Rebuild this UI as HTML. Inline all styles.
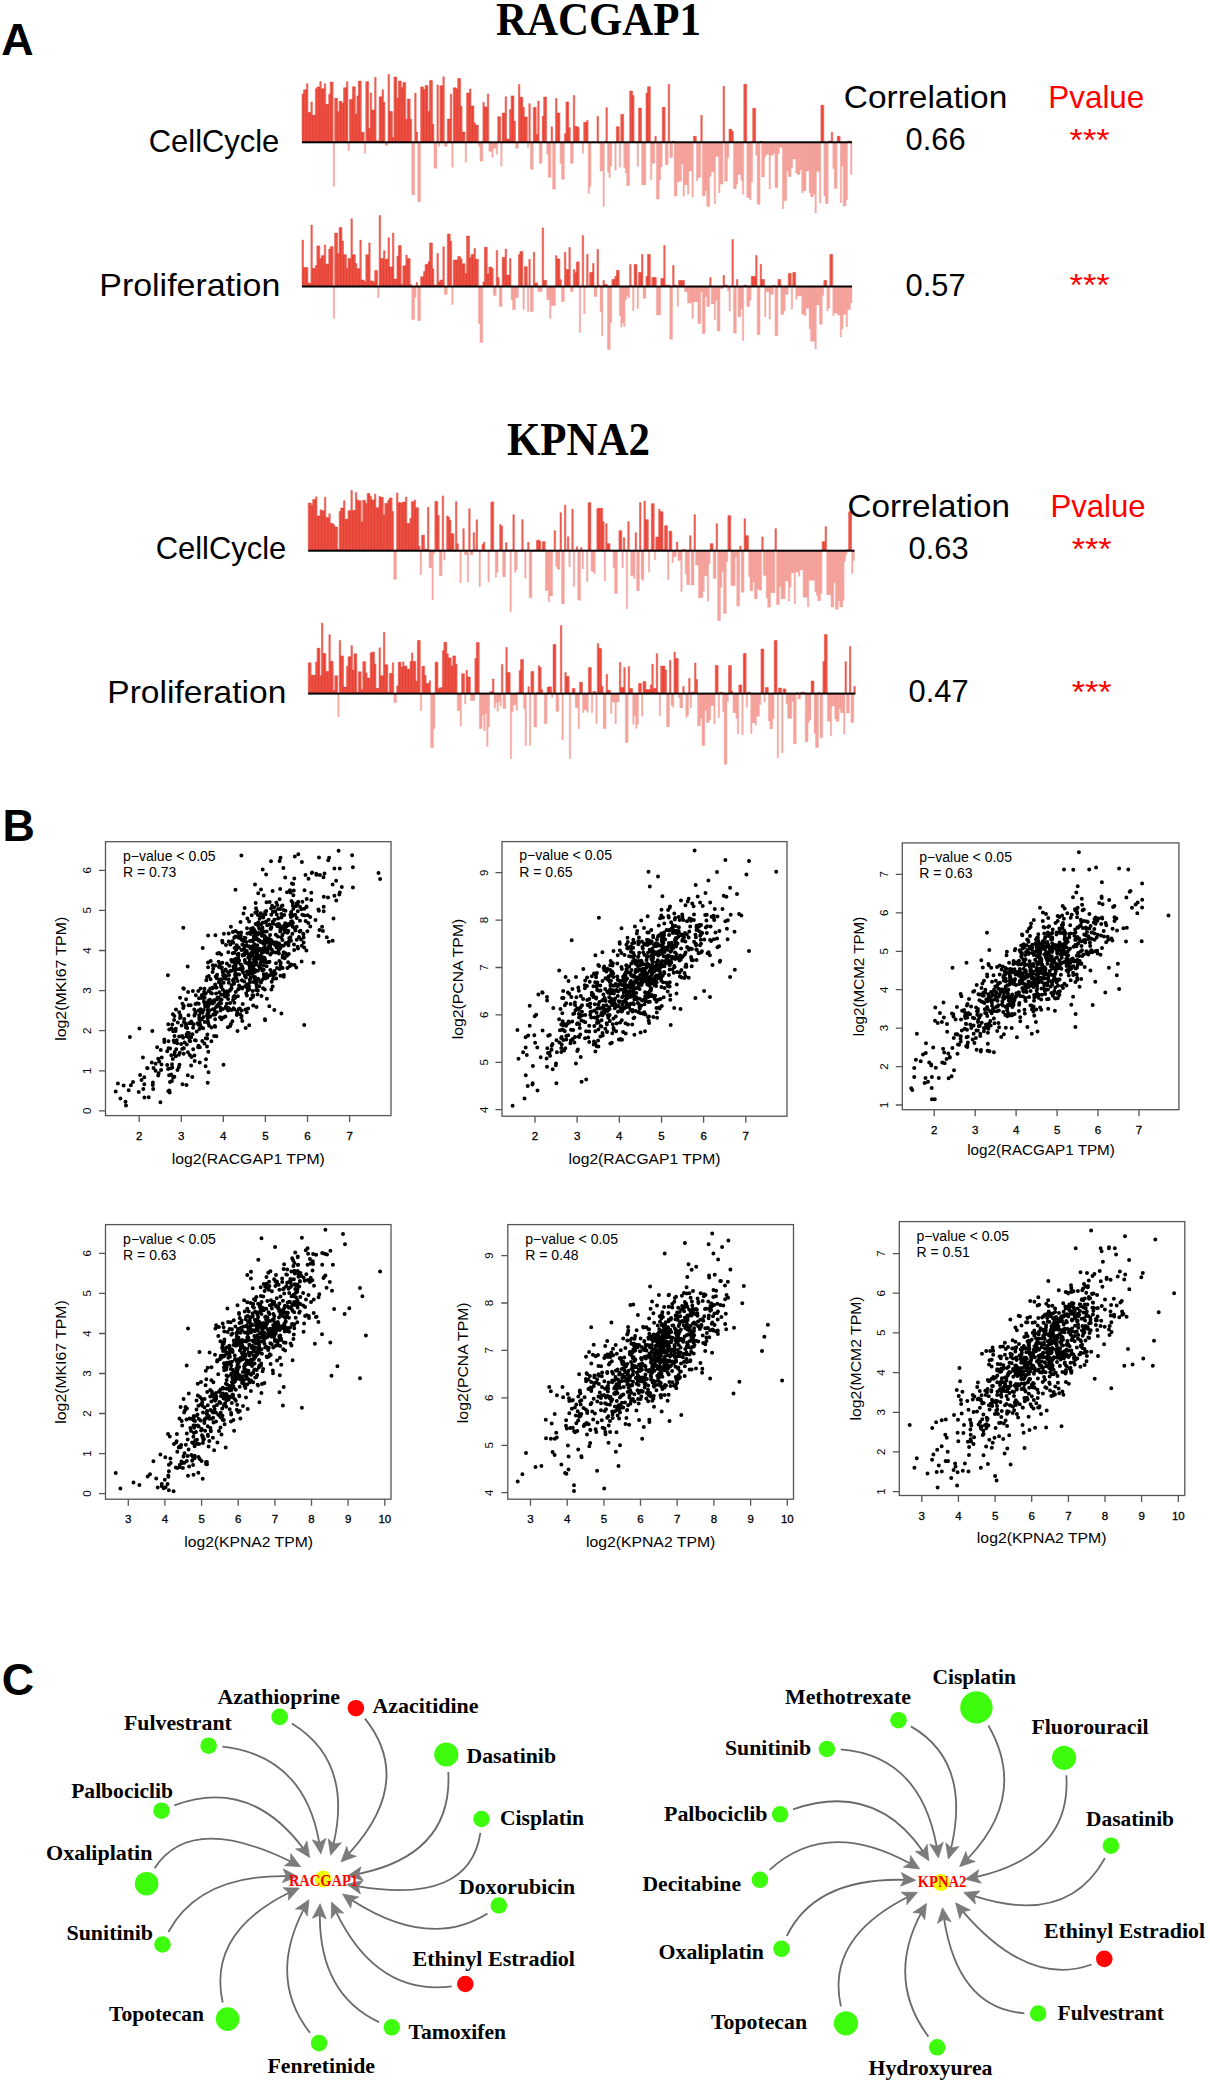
<!DOCTYPE html>
<html><head><meta charset="utf-8"><title>Figure</title><style>
html,body{margin:0;padding:0;background:#fff}
body{width:1210px;height:2086px;overflow:hidden}
svg{display:block}
.s{font-family:"Liberation Sans",sans-serif}
.r{font-family:"Liberation Serif",serif}
</style></head><body>
<svg width="1210" height="2086" viewBox="0 0 1210 2086">
<rect width="1210" height="2086" fill="#fff"/>
<text x="1.2" y="55" class="s" font-size="44.8" font-weight="bold">A</text>
<text x="2.5" y="840.7" class="s" font-size="44.8" font-weight="bold">B</text>
<text x="1.8" y="1694.5" class="s" font-size="44.8" font-weight="bold">C</text>
<text x="496" y="34.7" class="r" font-size="46.5" font-weight="bold" textLength="205" lengthAdjust="spacingAndGlyphs">RACGAP1</text>
<text x="507" y="455" class="r" font-size="46" font-weight="bold" textLength="143" lengthAdjust="spacingAndGlyphs">KPNA2</text>
<path d="M333.13 142.3v44.0h1.48v-44.0zM347.96 142.3v8.5h1.48v-8.5zM364.26 142.3v11.0h1.48v-11.0zM385.02 142.3v3.0h1.48v-3.0zM386.50 142.3v3.0h1.48v-3.0zM411.70 142.3v52.5h1.48v-52.5zM413.19 142.3v52.5h1.48v-52.5zM417.63 142.3v59.5h1.48v-59.5zM419.12 142.3v59.5h1.48v-59.5zM433.94 142.3v26.0h1.48v-26.0zM435.42 142.3v26.0h1.48v-26.0zM438.39 142.3v4.0h1.48v-4.0zM444.32 142.3v4.0h1.48v-4.0zM445.80 142.3v4.0h1.48v-4.0zM451.73 142.3v25.0h1.48v-25.0zM465.07 142.3v20.0h1.48v-20.0zM478.42 142.3v4.0h1.48v-4.0zM479.90 142.3v19.0h1.48v-19.0zM481.38 142.3v19.0h1.48v-19.0zM488.79 142.3v9.0h1.48v-9.0zM490.27 142.3v9.0h1.48v-9.0zM491.76 142.3v15.0h1.48v-15.0zM493.24 142.3v6.0h1.48v-6.0zM494.72 142.3v6.0h1.48v-6.0zM496.20 142.3v12.0h1.48v-12.0zM500.65 142.3v23.7h1.48v-23.7zM515.48 142.3v6.0h1.48v-6.0zM516.96 142.3v6.0h1.48v-6.0zM527.34 142.3v5.0h1.48v-5.0zM530.30 142.3v27.0h1.48v-27.0zM531.78 142.3v27.0h1.48v-27.0zM539.20 142.3v21.0h1.48v-21.0zM540.68 142.3v21.0h1.48v-21.0zM546.61 142.3v12.0h1.48v-12.0zM548.09 142.3v35.0h1.48v-35.0zM549.57 142.3v35.0h1.48v-35.0zM552.54 142.3v47.0h1.48v-47.0zM554.02 142.3v47.0h1.48v-47.0zM559.95 142.3v21.0h1.48v-21.0zM561.43 142.3v37.0h1.48v-37.0zM562.92 142.3v37.0h1.48v-37.0zM570.33 142.3v21.0h1.48v-21.0zM571.81 142.3v21.0h1.48v-21.0zM582.19 142.3v11.0h1.48v-11.0zM588.12 142.3v51.4h1.48v-51.4zM589.60 142.3v44.4h1.48v-44.4zM591.08 142.3v0.2h1.48v-0.2zM594.05 142.3v0.2h1.48v-0.2zM598.50 142.3v1.1h1.48v-1.1zM599.98 142.3v29.0h1.48v-29.0zM601.46 142.3v28.2h1.48v-28.2zM602.94 142.3v64.0h1.48v-64.0zM607.39 142.3v29.9h1.48v-29.9zM608.87 142.3v35.3h1.48v-35.3zM610.36 142.3v23.8h1.48v-23.8zM611.84 142.3v0.2h1.48v-0.2zM613.32 142.3v0.7h1.48v-0.7zM614.80 142.3v28.0h1.48v-28.0zM619.25 142.3v25.0h1.48v-25.0zM623.70 142.3v25.3h1.48v-25.3zM625.18 142.3v30.6h1.48v-30.6zM626.66 142.3v43.5h1.48v-43.5zM628.15 142.3v43.0h1.48v-43.0zM637.04 142.3v24.0h1.48v-24.0zM641.49 142.3v42.4h1.48v-42.4zM642.97 142.3v42.4h1.48v-42.4zM644.45 142.3v42.4h1.48v-42.4zM650.38 142.3v37.2h1.48v-37.2zM651.87 142.3v21.0h1.48v-21.0zM653.35 142.3v21.0h1.48v-21.0zM656.31 142.3v56.8h1.48v-56.8zM657.80 142.3v56.8h1.48v-56.8zM659.28 142.3v37.4h1.48v-37.4zM660.76 142.3v24.4h1.48v-24.4zM665.21 142.3v22.4h1.48v-22.4zM666.69 142.3v22.4h1.48v-22.4zM669.65 142.3v15.2h1.48v-15.2zM671.14 142.3v15.2h1.48v-15.2zM674.10 142.3v53.6h1.48v-53.6zM675.58 142.3v53.6h1.48v-53.6zM677.07 142.3v40.0h1.48v-40.0zM678.55 142.3v38.9h1.48v-38.9zM680.03 142.3v38.9h1.48v-38.9zM681.51 142.3v21.8h1.48v-21.8zM683.00 142.3v53.9h1.48v-53.9zM684.48 142.3v42.4h1.48v-42.4zM685.96 142.3v42.4h1.48v-42.4zM687.44 142.3v51.9h1.48v-51.9zM688.93 142.3v28.8h1.48v-28.8zM690.41 142.3v28.8h1.48v-28.8zM691.89 142.3v54.8h1.48v-54.8zM696.34 142.3v38.6h1.48v-38.6zM697.82 142.3v35.1h1.48v-35.1zM699.30 142.3v35.1h1.48v-35.1zM702.27 142.3v53.6h1.48v-53.6zM703.75 142.3v53.6h1.48v-53.6zM705.23 142.3v48.4h1.48v-48.4zM706.72 142.3v64.3h1.48v-64.3zM708.20 142.3v64.3h1.48v-64.3zM709.68 142.3v34.0h1.48v-34.0zM711.16 142.3v29.5h1.48v-29.5zM712.65 142.3v29.5h1.48v-29.5zM714.13 142.3v61.5h1.48v-61.5zM715.61 142.3v14.0h1.48v-14.0zM717.09 142.3v14.0h1.48v-14.0zM718.58 142.3v50.5h1.48v-50.5zM720.06 142.3v41.8h1.48v-41.8zM721.54 142.3v41.8h1.48v-41.8zM724.51 142.3v38.9h1.48v-38.9zM725.99 142.3v38.9h1.48v-38.9zM727.47 142.3v15.5h1.48v-15.5zM733.40 142.3v46.4h1.48v-46.4zM734.88 142.3v46.4h1.48v-46.4zM736.37 142.3v41.8h1.48v-41.8zM737.85 142.3v32.0h1.48v-32.0zM739.33 142.3v32.0h1.48v-32.0zM740.81 142.3v38.0h1.48v-38.0zM742.30 142.3v51.9h1.48v-51.9zM746.74 142.3v55.1h1.48v-55.1zM748.23 142.3v55.1h1.48v-55.1zM749.71 142.3v57.7h1.48v-57.7zM751.19 142.3v39.8h1.48v-39.8zM755.64 142.3v12.9h1.48v-12.9zM757.12 142.3v62.0h1.48v-62.0zM758.60 142.3v62.0h1.48v-62.0zM761.57 142.3v34.6h1.48v-34.6zM763.05 142.3v34.6h1.48v-34.6zM764.53 142.3v14.6h1.48v-14.6zM766.02 142.3v12.0h1.48v-12.0zM767.50 142.3v12.0h1.48v-12.0zM768.98 142.3v46.7h1.48v-46.7zM770.46 142.3v12.9h1.48v-12.9zM771.95 142.3v12.9h1.48v-12.9zM773.43 142.3v10.8h1.48v-10.8zM774.91 142.3v45.5h1.48v-45.5zM776.39 142.3v45.5h1.48v-45.5zM777.88 142.3v11.1h1.48v-11.1zM779.36 142.3v5.0h1.48v-5.0zM780.84 142.3v5.0h1.48v-5.0zM782.32 142.3v66.5h1.48v-66.5zM783.81 142.3v58.3h1.48v-58.3zM785.29 142.3v58.3h1.48v-58.3zM786.77 142.3v28.8h1.48v-28.8zM788.25 142.3v34.2h1.48v-34.2zM789.74 142.3v34.2h1.48v-34.2zM791.22 142.3v25.4h1.48v-25.4zM792.70 142.3v16.7h1.48v-16.7zM794.18 142.3v16.7h1.48v-16.7zM795.67 142.3v30.6h1.48v-30.6zM797.15 142.3v32.1h1.48v-32.1zM798.63 142.3v32.1h1.48v-32.1zM800.11 142.3v27.2h1.48v-27.2zM801.60 142.3v50.5h1.48v-50.5zM803.08 142.3v48.4h1.48v-48.4zM804.56 142.3v48.4h1.48v-48.4zM806.04 142.3v28.8h1.48v-28.8zM807.53 142.3v28.8h1.48v-28.8zM809.01 142.3v50.5h1.48v-50.5zM810.49 142.3v54.4h1.48v-54.4zM811.97 142.3v54.4h1.48v-54.4zM813.46 142.3v51.7h1.48v-51.7zM814.94 142.3v70.7h1.48v-70.7zM816.42 142.3v29.1h1.48v-29.1zM817.90 142.3v29.1h1.48v-29.1zM819.39 142.3v60.7h1.48v-60.7zM823.83 142.3v53.8h1.48v-53.8zM825.32 142.3v61.3h1.48v-61.3zM826.80 142.3v61.3h1.48v-61.3zM832.73 142.3v26.3h1.48v-26.3zM834.21 142.3v46.2h1.48v-46.2zM835.69 142.3v46.2h1.48v-46.2zM840.14 142.3v60.4h1.48v-60.4zM841.62 142.3v23.9h1.48v-23.9zM843.11 142.3v63.7h1.48v-63.7zM844.59 142.3v63.7h1.48v-63.7zM846.07 142.3v57.4h1.48v-57.4zM850.52 142.3v32.1h1.48v-32.1z" fill="#f6aea7" stroke="#f08f88" stroke-width="0.3"/>
<path d="M302.00 142.3v-48.4h1.48v48.4zM303.48 142.3v-52.5h1.48v52.5zM304.96 142.3v-52.5h1.48v52.5zM306.45 142.3v-58.6h1.48v58.6zM307.93 142.3v-29.9h1.48v29.9zM309.41 142.3v-29.9h1.48v29.9zM310.89 142.3v-40.3h1.48v40.3zM312.38 142.3v-27.0h1.48v27.0zM313.86 142.3v-27.0h1.48v27.0zM315.34 142.3v-53.6h1.48v53.6zM316.82 142.3v-55.4h1.48v55.4zM318.31 142.3v-55.4h1.48v55.4zM319.79 142.3v-60.9h1.48v60.9zM321.27 142.3v-53.6h1.48v53.6zM322.75 142.3v-53.6h1.48v53.6zM324.24 142.3v-58.6h1.48v58.6zM325.72 142.3v-38.0h1.48v38.0zM327.20 142.3v-38.0h1.48v38.0zM328.68 142.3v-48.1h1.48v48.1zM330.17 142.3v-60.3h1.48v60.3zM331.65 142.3v-60.3h1.48v60.3zM334.61 142.3v-44.1h1.48v44.1zM336.10 142.3v-44.1h1.48v44.1zM337.58 142.3v-30.6h1.48v30.6zM339.06 142.3v-41.0h1.48v41.0zM340.54 142.3v-41.0h1.48v41.0zM342.03 142.3v-39.0h1.48v39.0zM343.51 142.3v-54.5h1.48v54.5zM344.99 142.3v-54.5h1.48v54.5zM346.47 142.3v-60.6h1.48v60.6zM349.44 142.3v-42.9h1.48v42.9zM350.92 142.3v-42.9h1.48v42.9zM352.40 142.3v-55.5h1.48v55.5zM353.89 142.3v-55.5h1.48v55.5zM355.37 142.3v-28.2h1.48v28.2zM356.85 142.3v-46.4h1.48v46.4zM358.33 142.3v-61.2h1.48v61.2zM359.82 142.3v-61.2h1.48v61.2zM361.30 142.3v-10.0h1.48v10.0zM362.78 142.3v-10.0h1.48v10.0zM365.75 142.3v-60.6h1.48v60.6zM367.23 142.3v-60.6h1.48v60.6zM368.71 142.3v-14.3h1.48v14.3zM370.19 142.3v-49.3h1.48v49.3zM371.68 142.3v-32.2h1.48v32.2zM373.16 142.3v-32.2h1.48v32.2zM374.64 142.3v-64.9h1.48v64.9zM376.12 142.3v-1.5h1.48v1.5zM377.61 142.3v-1.5h1.48v1.5zM379.09 142.3v-45.5h1.48v45.5zM380.57 142.3v-45.5h1.48v45.5zM382.05 142.3v-52.5h1.48v52.5zM383.54 142.3v-40.0h1.48v40.0zM387.98 142.3v-67.8h1.48v67.8zM389.47 142.3v-30.8h1.48v30.8zM390.95 142.3v-30.8h1.48v30.8zM392.43 142.3v-5.0h1.48v5.0zM393.91 142.3v-65.2h1.48v65.2zM395.40 142.3v-65.2h1.48v65.2zM396.88 142.3v-44.1h1.48v44.1zM398.36 142.3v-61.2h1.48v61.2zM399.84 142.3v-61.2h1.48v61.2zM401.33 142.3v-54.8h1.48v54.8zM402.81 142.3v-59.7h1.48v59.7zM404.29 142.3v-59.7h1.48v59.7zM405.77 142.3v-23.0h1.48v23.0zM407.26 142.3v-43.2h1.48v43.2zM408.74 142.3v-43.2h1.48v43.2zM410.22 142.3v-23.0h1.48v23.0zM414.67 142.3v-49.0h1.48v49.0zM416.15 142.3v-10.3h1.48v10.3zM420.60 142.3v-55.4h1.48v55.4zM422.08 142.3v-55.4h1.48v55.4zM423.56 142.3v-52.8h1.48v52.8zM425.05 142.3v-56.8h1.48v56.8zM426.53 142.3v-56.8h1.48v56.8zM428.01 142.3v-30.8h1.48v30.8zM429.49 142.3v-61.7h1.48v61.7zM430.98 142.3v-61.7h1.48v61.7zM432.46 142.3v-18.0h1.48v18.0zM436.91 142.3v-57.4h1.48v57.4zM439.87 142.3v-56.5h1.48v56.5zM441.35 142.3v-56.5h1.48v56.5zM442.84 142.3v-65.5h1.48v65.5zM447.28 142.3v-23.3h1.48v23.3zM448.77 142.3v-23.3h1.48v23.3zM450.25 142.3v-48.1h1.48v48.1zM453.21 142.3v-54.5h1.48v54.5zM454.70 142.3v-54.5h1.48v54.5zM456.18 142.3v-53.6h1.48v53.6zM457.66 142.3v-63.8h1.48v63.8zM459.14 142.3v-63.8h1.48v63.8zM460.63 142.3v-36.0h1.48v36.0zM462.11 142.3v-10.3h1.48v10.3zM463.59 142.3v-10.3h1.48v10.3zM466.56 142.3v-49.3h1.48v49.3zM468.04 142.3v-49.3h1.48v49.3zM469.52 142.3v-53.4h1.48v53.4zM471.00 142.3v-36.3h1.48v36.3zM472.49 142.3v-36.3h1.48v36.3zM473.97 142.3v-19.5h1.48v19.5zM475.45 142.3v-17.2h1.48v17.2zM476.93 142.3v-17.2h1.48v17.2zM482.86 142.3v-39.8h1.48v39.8zM484.35 142.3v-35.4h1.48v35.4zM485.83 142.3v-35.4h1.48v35.4zM487.31 142.3v-48.4h1.48v48.4zM497.69 142.3v-25.6h1.48v25.6zM499.17 142.3v-25.6h1.48v25.6zM502.13 142.3v-29.3h1.48v29.3zM503.62 142.3v-29.3h1.48v29.3zM505.10 142.3v-45.5h1.48v45.5zM506.58 142.3v-3.3h1.48v3.3zM508.06 142.3v-3.3h1.48v3.3zM509.55 142.3v-32.8h1.48v32.8zM511.03 142.3v-46.4h1.48v46.4zM512.51 142.3v-46.4h1.48v46.4zM513.99 142.3v-21.0h1.48v21.0zM518.44 142.3v-57.7h1.48v57.7zM519.92 142.3v-45.0h1.48v45.0zM521.41 142.3v-45.0h1.48v45.0zM522.89 142.3v-35.1h1.48v35.1zM524.37 142.3v-25.3h1.48v25.3zM525.85 142.3v-25.3h1.48v25.3zM528.82 142.3v-38.6h1.48v38.6zM533.27 142.3v-34.8h1.48v34.8zM534.75 142.3v-34.8h1.48v34.8zM536.23 142.3v-7.9h1.48v7.9zM537.71 142.3v-41.2h1.48v41.2zM542.16 142.3v-25.9h1.48v25.9zM543.64 142.3v-45.3h1.48v45.3zM545.13 142.3v-45.3h1.48v45.3zM551.06 142.3v-15.5h1.48v15.5zM555.50 142.3v-43.8h1.48v43.8zM556.99 142.3v-29.3h1.48v29.3zM558.47 142.3v-29.3h1.48v29.3zM564.40 142.3v-8.5h1.48v8.5zM565.88 142.3v-40.3h1.48v40.3zM567.36 142.3v-40.3h1.48v40.3zM568.85 142.3v-14.6h1.48v14.6zM573.29 142.3v-46.7h1.48v46.7zM574.78 142.3v-15.8h1.48v15.8zM576.26 142.3v-15.8h1.48v15.8zM577.74 142.3v-14.9h1.48v14.9zM580.71 142.3v-1.1h1.48v1.1zM583.67 142.3v-20.0h1.48v20.0zM585.15 142.3v-20.0h1.48v20.0zM586.64 142.3v-21.8h1.48v21.8zM592.57 142.3v-0.8h1.48v0.8zM595.53 142.3v-0.1h1.48v0.1zM597.01 142.3v-25.9h1.48v25.9zM604.43 142.3v-0.7h1.48v0.7zM605.91 142.3v-34.6h1.48v34.6zM616.29 142.3v-15.5h1.48v15.5zM617.77 142.3v-15.5h1.48v15.5zM620.73 142.3v-27.9h1.48v27.9zM622.22 142.3v-27.9h1.48v27.9zM629.63 142.3v-51.3h1.48v51.3zM631.11 142.3v-51.3h1.48v51.3zM632.59 142.3v-46.7h1.48v46.7zM634.08 142.3v-0.5h1.48v0.5zM635.56 142.3v-0.1h1.48v0.1zM638.52 142.3v-34.3h1.48v34.3zM640.01 142.3v-34.3h1.48v34.3zM645.94 142.3v-49.0h1.48v49.0zM647.42 142.3v-55.5h1.48v55.5zM648.90 142.3v-55.5h1.48v55.5zM654.83 142.3v-6.0h1.48v6.0zM662.24 142.3v-35.0h1.48v35.0zM663.73 142.3v-35.0h1.48v35.0zM668.17 142.3v-58.0h1.48v58.0zM672.62 142.3v-1.3h1.48v1.3zM693.37 142.3v-6.0h1.48v6.0zM694.86 142.3v-6.0h1.48v6.0zM700.79 142.3v-27.0h1.48v27.0zM723.02 142.3v-56.0h1.48v56.0zM728.95 142.3v-13.0h1.48v13.0zM730.44 142.3v-13.0h1.48v13.0zM731.92 142.3v-11.0h1.48v11.0zM743.78 142.3v-58.0h1.48v58.0zM745.26 142.3v-58.0h1.48v58.0zM752.67 142.3v-34.0h1.48v34.0zM754.16 142.3v-34.0h1.48v34.0zM760.09 142.3v-1.3h1.48v1.3zM820.87 142.3v-37.0h1.48v37.0zM822.35 142.3v-37.0h1.48v37.0zM828.28 142.3v-1.3h1.48v1.3zM829.76 142.3v-1.3h1.48v1.3zM831.25 142.3v-10.0h1.48v10.0zM837.18 142.3v-6.0h1.48v6.0zM838.66 142.3v-6.0h1.48v6.0zM847.55 142.3v-1.3h1.48v1.3zM849.04 142.3v-1.3h1.48v1.3z" fill="#ee6c61" stroke="#e42a1a" stroke-width="0.42"/>
<rect x="302.0" y="141.3" width="550.0" height="2" fill="#000"/>
<text x="279.3" y="151.7" class="s" font-size="31.5" text-anchor="end" textLength="130.5" lengthAdjust="spacingAndGlyphs">CellCycle</text>
<text x="905.6" y="150.4" class="s" font-size="31.5" textLength="60" lengthAdjust="spacingAndGlyphs">0.66</text>
<text x="1069.6" y="151.3" class="s" font-size="31.5" fill="#f00" textLength="40" lengthAdjust="spacingAndGlyphs">***</text>
<path d="M333.13 286.5v32.0h1.48v-32.0zM377.61 286.5v11.0h1.48v-11.0zM411.70 286.5v33.0h1.48v-33.0zM413.19 286.5v33.0h1.48v-33.0zM414.67 286.5v11.0h1.48v-11.0zM417.63 286.5v34.0h1.48v-34.0zM419.12 286.5v34.0h1.48v-34.0zM444.32 286.5v8.0h1.48v-8.0zM445.80 286.5v8.0h1.48v-8.0zM451.73 286.5v18.0h1.48v-18.0zM478.42 286.5v37.0h1.48v-37.0zM479.90 286.5v56.0h1.48v-56.0zM481.38 286.5v56.0h1.48v-56.0zM493.24 286.5v9.0h1.48v-9.0zM494.72 286.5v9.0h1.48v-9.0zM499.17 286.5v20.0h1.48v-20.0zM500.65 286.5v20.0h1.48v-20.0zM511.03 286.5v13.0h1.48v-13.0zM512.51 286.5v23.0h1.48v-23.0zM513.99 286.5v23.0h1.48v-23.0zM515.48 286.5v11.0h1.48v-11.0zM516.96 286.5v11.0h1.48v-11.0zM522.89 286.5v23.0h1.48v-23.0zM527.34 286.5v25.0h1.48v-25.0zM530.30 286.5v25.0h1.48v-25.0zM531.78 286.5v25.0h1.48v-25.0zM537.71 286.5v5.0h1.48v-5.0zM539.20 286.5v5.0h1.48v-5.0zM540.68 286.5v5.0h1.48v-5.0zM546.61 286.5v13.0h1.48v-13.0zM548.09 286.5v13.0h1.48v-13.0zM549.57 286.5v32.0h1.48v-32.0zM551.06 286.5v19.0h1.48v-19.0zM552.54 286.5v19.0h1.48v-19.0zM554.02 286.5v19.0h1.48v-19.0zM561.43 286.5v15.0h1.48v-15.0zM562.92 286.5v15.0h1.48v-15.0zM570.33 286.5v5.0h1.48v-5.0zM571.81 286.5v5.0h1.48v-5.0zM579.22 286.5v46.0h1.48v-46.0zM583.67 286.5v27.2h1.48v-27.2zM585.15 286.5v1.1h1.48v-1.1zM594.05 286.5v10.0h1.48v-10.0zM595.53 286.5v10.0h1.48v-10.0zM599.98 286.5v25.0h1.48v-25.0zM601.46 286.5v49.4h1.48v-49.4zM607.39 286.5v63.0h1.48v-63.0zM608.87 286.5v63.0h1.48v-63.0zM610.36 286.5v36.0h1.48v-36.0zM619.25 286.5v29.0h1.48v-29.0zM620.73 286.5v40.7h1.48v-40.7zM622.22 286.5v36.6h1.48v-36.6zM623.70 286.5v40.0h1.48v-40.0zM625.18 286.5v13.3h1.48v-13.3zM626.66 286.5v9.5h1.48v-9.5zM628.15 286.5v11.3h1.48v-11.3zM632.59 286.5v24.0h1.48v-24.0zM637.04 286.5v22.0h1.48v-22.0zM642.97 286.5v11.7h1.48v-11.7zM644.45 286.5v11.7h1.48v-11.7zM650.38 286.5v0.4h1.48v-0.4zM656.31 286.5v28.5h1.48v-28.5zM657.80 286.5v28.5h1.48v-28.5zM659.28 286.5v28.5h1.48v-28.5zM669.65 286.5v52.8h1.48v-52.8zM671.14 286.5v52.8h1.48v-52.8zM677.07 286.5v19.8h1.48v-19.8zM684.48 286.5v5.3h1.48v-5.3zM685.96 286.5v5.3h1.48v-5.3zM687.44 286.5v16.6h1.48v-16.6zM688.93 286.5v16.6h1.48v-16.6zM690.41 286.5v16.6h1.48v-16.6zM691.89 286.5v32.0h1.48v-32.0zM693.37 286.5v15.2h1.48v-15.2zM694.86 286.5v15.2h1.48v-15.2zM696.34 286.5v15.2h1.48v-15.2zM697.82 286.5v36.9h1.48v-36.9zM699.30 286.5v36.9h1.48v-36.9zM700.79 286.5v5.6h1.48v-5.6zM702.27 286.5v47.0h1.48v-47.0zM703.75 286.5v47.0h1.48v-47.0zM705.23 286.5v10.0h1.48v-10.0zM706.72 286.5v20.1h1.48v-20.1zM708.20 286.5v20.1h1.48v-20.1zM711.16 286.5v17.5h1.48v-17.5zM712.65 286.5v17.5h1.48v-17.5zM714.13 286.5v33.4h1.48v-33.4zM715.61 286.5v13.7h1.48v-13.7zM717.09 286.5v44.4h1.48v-44.4zM718.58 286.5v44.4h1.48v-44.4zM720.06 286.5v2.0h1.48v-2.0zM721.54 286.5v2.0h1.48v-2.0zM727.47 286.5v4.5h1.48v-4.5zM728.95 286.5v24.4h1.48v-24.4zM733.40 286.5v46.7h1.48v-46.7zM734.88 286.5v46.7h1.48v-46.7zM737.85 286.5v30.2h1.48v-30.2zM739.33 286.5v30.2h1.48v-30.2zM740.81 286.5v22.4h1.48v-22.4zM742.30 286.5v53.9h1.48v-53.9zM746.74 286.5v20.1h1.48v-20.1zM748.23 286.5v20.1h1.48v-20.1zM749.71 286.5v13.7h1.48v-13.7zM757.12 286.5v48.1h1.48v-48.1zM758.60 286.5v48.1h1.48v-48.1zM764.53 286.5v30.2h1.48v-30.2zM766.02 286.5v5.3h1.48v-5.3zM767.50 286.5v5.3h1.48v-5.3zM768.98 286.5v32.5h1.48v-32.5zM770.46 286.5v7.7h1.48v-7.7zM771.95 286.5v7.7h1.48v-7.7zM774.91 286.5v49.0h1.48v-49.0zM776.39 286.5v49.0h1.48v-49.0zM780.84 286.5v28.0h1.48v-28.0zM782.32 286.5v28.1h1.48v-28.1zM783.81 286.5v24.5h1.48v-24.5zM785.29 286.5v7.9h1.48v-7.9zM786.77 286.5v7.9h1.48v-7.9zM791.22 286.5v22.7h1.48v-22.7zM795.67 286.5v12.8h1.48v-12.8zM797.15 286.5v9.4h1.48v-9.4zM798.63 286.5v9.4h1.48v-9.4zM800.11 286.5v9.4h1.48v-9.4zM801.60 286.5v27.8h1.48v-27.8zM803.08 286.5v27.8h1.48v-27.8zM804.56 286.5v29.4h1.48v-29.4zM806.04 286.5v21.8h1.48v-21.8zM807.53 286.5v21.8h1.48v-21.8zM809.01 286.5v42.3h1.48v-42.3zM810.49 286.5v54.7h1.48v-54.7zM811.97 286.5v54.7h1.48v-54.7zM813.46 286.5v54.7h1.48v-54.7zM814.94 286.5v62.5h1.48v-62.5zM816.42 286.5v18.5h1.48v-18.5zM817.90 286.5v18.5h1.48v-18.5zM819.39 286.5v37.8h1.48v-37.8zM820.87 286.5v37.8h1.48v-37.8zM822.35 286.5v8.8h1.48v-8.8zM826.80 286.5v24.2h1.48v-24.2zM828.28 286.5v21.5h1.48v-21.5zM832.73 286.5v29.1h1.48v-29.1zM834.21 286.5v26.6h1.48v-26.6zM835.69 286.5v26.6h1.48v-26.6zM837.18 286.5v28.5h1.48v-28.5zM838.66 286.5v28.5h1.48v-28.5zM840.14 286.5v50.5h1.48v-50.5zM841.62 286.5v42.3h1.48v-42.3zM843.11 286.5v27.8h1.48v-27.8zM844.59 286.5v27.8h1.48v-27.8zM846.07 286.5v40.2h1.48v-40.2zM847.55 286.5v23.0h1.48v-23.0zM849.04 286.5v23.0h1.48v-23.0zM850.52 286.5v16.4h1.48v-16.4z" fill="#f6aea7" stroke="#f08f88" stroke-width="0.3"/>
<path d="M302.00 286.5v-46.4h1.48v46.4zM303.48 286.5v-18.9h1.48v18.9zM304.96 286.5v-18.9h1.48v18.9zM306.45 286.5v-18.9h1.48v18.9zM307.93 286.5v-3.3h1.48v3.3zM309.41 286.5v-3.3h1.48v3.3zM310.89 286.5v-61.5h1.48v61.5zM312.38 286.5v-18.1h1.48v18.1zM313.86 286.5v-18.1h1.48v18.1zM315.34 286.5v-21.0h1.48v21.0zM316.82 286.5v-40.6h1.48v40.6zM318.31 286.5v-40.6h1.48v40.6zM319.79 286.5v-27.9h1.48v27.9zM321.27 286.5v-30.8h1.48v30.8zM322.75 286.5v-30.8h1.48v30.8zM324.24 286.5v-41.5h1.48v41.5zM325.72 286.5v-22.4h1.48v22.4zM327.20 286.5v-22.4h1.48v22.4zM328.68 286.5v-37.4h1.48v37.4zM330.17 286.5v-39.8h1.48v39.8zM331.65 286.5v-39.8h1.48v39.8zM334.61 286.5v-53.4h1.48v53.4zM336.10 286.5v-53.4h1.48v53.4zM337.58 286.5v-32.8h1.48v32.8zM339.06 286.5v-58.9h1.48v58.9zM340.54 286.5v-58.9h1.48v58.9zM342.03 286.5v-45.5h1.48v45.5zM343.51 286.5v-31.7h1.48v31.7zM344.99 286.5v-31.7h1.48v31.7zM346.47 286.5v-18.1h1.48v18.1zM347.96 286.5v-27.9h1.48v27.9zM349.44 286.5v-27.9h1.48v27.9zM350.92 286.5v-67.8h1.48v67.8zM352.40 286.5v-31.7h1.48v31.7zM353.89 286.5v-31.7h1.48v31.7zM355.37 286.5v-23.0h1.48v23.0zM356.85 286.5v-17.8h1.48v17.8zM358.33 286.5v-17.8h1.48v17.8zM359.82 286.5v-46.4h1.48v46.4zM361.30 286.5v-6.5h1.48v6.5zM362.78 286.5v-6.5h1.48v6.5zM364.26 286.5v-4.8h1.48v4.8zM365.75 286.5v-31.7h1.48v31.7zM367.23 286.5v-31.7h1.48v31.7zM368.71 286.5v-43.5h1.48v43.5zM370.19 286.5v-5.6h1.48v5.6zM371.68 286.5v-5.6h1.48v5.6zM373.16 286.5v-4.5h1.48v4.5zM374.64 286.5v-16.0h1.48v16.0zM376.12 286.5v-16.0h1.48v16.0zM379.09 286.5v-71.0h1.48v71.0zM380.57 286.5v-27.9h1.48v27.9zM382.05 286.5v-27.9h1.48v27.9zM383.54 286.5v-35.7h1.48v35.7zM385.02 286.5v-27.3h1.48v27.3zM386.50 286.5v-27.3h1.48v27.3zM387.98 286.5v-48.7h1.48v48.7zM389.47 286.5v-19.5h1.48v19.5zM390.95 286.5v-19.5h1.48v19.5zM392.43 286.5v-53.4h1.48v53.4zM393.91 286.5v-7.4h1.48v7.4zM395.40 286.5v-7.4h1.48v7.4zM396.88 286.5v-30.5h1.48v30.5zM398.36 286.5v-40.9h1.48v40.9zM399.84 286.5v-40.9h1.48v40.9zM401.33 286.5v-1.9h1.48v1.9zM402.81 286.5v-20.7h1.48v20.7zM404.29 286.5v-20.7h1.48v20.7zM405.77 286.5v-31.4h1.48v31.4zM407.26 286.5v-27.9h1.48v27.9zM408.74 286.5v-27.9h1.48v27.9zM410.22 286.5v-1.9h1.48v1.9zM416.15 286.5v-3.9h1.48v3.9zM420.60 286.5v-9.7h1.48v9.7zM422.08 286.5v-9.7h1.48v9.7zM423.56 286.5v-14.9h1.48v14.9zM425.05 286.5v-22.1h1.48v22.1zM426.53 286.5v-22.1h1.48v22.1zM428.01 286.5v-24.7h1.48v24.7zM429.49 286.5v-43.5h1.48v43.5zM430.98 286.5v-43.5h1.48v43.5zM432.46 286.5v-17.8h1.48v17.8zM433.94 286.5v-1.5h1.48v1.5zM435.42 286.5v-1.5h1.48v1.5zM436.91 286.5v-33.1h1.48v33.1zM438.39 286.5v-4.5h1.48v4.5zM439.87 286.5v-6.5h1.48v6.5zM441.35 286.5v-6.5h1.48v6.5zM442.84 286.5v-39.8h1.48v39.8zM447.28 286.5v-52.5h1.48v52.5zM448.77 286.5v-52.5h1.48v52.5zM450.25 286.5v-45.5h1.48v45.5zM453.21 286.5v-26.5h1.48v26.5zM454.70 286.5v-26.5h1.48v26.5zM456.18 286.5v-26.5h1.48v26.5zM457.66 286.5v-29.9h1.48v29.9zM459.14 286.5v-29.9h1.48v29.9zM460.63 286.5v-27.6h1.48v27.6zM462.11 286.5v-22.7h1.48v22.7zM463.59 286.5v-22.7h1.48v22.7zM465.07 286.5v-12.9h1.48v12.9zM466.56 286.5v-50.5h1.48v50.5zM468.04 286.5v-50.5h1.48v50.5zM469.52 286.5v-28.8h1.48v28.8zM471.00 286.5v-31.9h1.48v31.9zM472.49 286.5v-31.9h1.48v31.9zM473.97 286.5v-38.0h1.48v38.0zM475.45 286.5v-27.3h1.48v27.3zM476.93 286.5v-27.3h1.48v27.3zM482.86 286.5v-4.5h1.48v4.5zM484.35 286.5v-39.2h1.48v39.2zM485.83 286.5v-39.2h1.48v39.2zM487.31 286.5v-12.6h1.48v12.6zM488.79 286.5v-19.5h1.48v19.5zM490.27 286.5v-19.5h1.48v19.5zM491.76 286.5v-18.1h1.48v18.1zM496.20 286.5v-36.0h1.48v36.0zM497.69 286.5v-9.1h1.48v9.1zM502.13 286.5v-29.1h1.48v29.1zM503.62 286.5v-29.1h1.48v29.1zM505.10 286.5v-37.4h1.48v37.4zM506.58 286.5v-11.4h1.48v11.4zM508.06 286.5v-11.4h1.48v11.4zM509.55 286.5v-27.9h1.48v27.9zM518.44 286.5v-31.9h1.48v31.9zM519.92 286.5v-35.1h1.48v35.1zM521.41 286.5v-35.1h1.48v35.1zM524.37 286.5v-19.8h1.48v19.8zM525.85 286.5v-19.8h1.48v19.8zM528.82 286.5v-27.0h1.48v27.0zM533.27 286.5v-34.3h1.48v34.3zM534.75 286.5v-3.6h1.48v3.6zM536.23 286.5v-3.6h1.48v3.6zM542.16 286.5v-58.6h1.48v58.6zM543.64 286.5v-6.2h1.48v6.2zM545.13 286.5v-6.2h1.48v6.2zM555.50 286.5v-30.8h1.48v30.8zM556.99 286.5v-27.6h1.48v27.6zM558.47 286.5v-27.6h1.48v27.6zM559.95 286.5v-6.8h1.48v6.8zM564.40 286.5v-34.3h1.48v34.3zM565.88 286.5v-16.9h1.48v16.9zM567.36 286.5v-16.9h1.48v16.9zM568.85 286.5v-38.9h1.48v38.9zM573.29 286.5v-16.9h1.48v16.9zM574.78 286.5v-13.8h1.48v13.8zM576.26 286.5v-24.3h1.48v24.3zM577.74 286.5v-24.8h1.48v24.8zM580.71 286.5v-0.2h1.48v0.2zM582.19 286.5v-51.0h1.48v51.0zM586.64 286.5v-32.0h1.48v32.0zM588.12 286.5v-0.4h1.48v0.4zM589.60 286.5v-14.0h1.48v14.0zM591.08 286.5v-14.0h1.48v14.0zM592.57 286.5v-23.0h1.48v23.0zM597.01 286.5v-37.0h1.48v37.0zM598.50 286.5v-1.1h1.48v1.1zM602.94 286.5v-6.0h1.48v6.0zM604.43 286.5v-2.0h1.48v2.0zM605.91 286.5v-2.0h1.48v2.0zM611.84 286.5v-7.0h1.48v7.0zM613.32 286.5v-7.0h1.48v7.0zM614.80 286.5v-10.0h1.48v10.0zM616.29 286.5v-16.0h1.48v16.0zM617.77 286.5v-16.0h1.48v16.0zM629.63 286.5v-22.0h1.48v22.0zM631.11 286.5v-0.9h1.48v0.9zM634.08 286.5v-22.0h1.48v22.0zM635.56 286.5v-22.0h1.48v22.0zM638.52 286.5v-14.0h1.48v14.0zM640.01 286.5v-14.0h1.48v14.0zM641.49 286.5v-32.0h1.48v32.0zM645.94 286.5v-10.0h1.48v10.0zM647.42 286.5v-32.0h1.48v32.0zM648.90 286.5v-32.0h1.48v32.0zM651.87 286.5v-9.0h1.48v9.0zM653.35 286.5v-9.0h1.48v9.0zM654.83 286.5v-9.0h1.48v9.0zM660.76 286.5v-8.0h1.48v8.0zM662.24 286.5v-8.0h1.48v8.0zM663.73 286.5v-41.0h1.48v41.0zM665.21 286.5v-1.3h1.48v1.3zM666.69 286.5v-1.3h1.48v1.3zM668.17 286.5v-1.3h1.48v1.3zM672.62 286.5v-21.0h1.48v21.0zM674.10 286.5v-1.3h1.48v1.3zM675.58 286.5v-1.3h1.48v1.3zM678.55 286.5v-6.0h1.48v6.0zM680.03 286.5v-6.0h1.48v6.0zM681.51 286.5v-6.0h1.48v6.0zM683.00 286.5v-6.0h1.48v6.0zM709.68 286.5v-9.0h1.48v9.0zM723.02 286.5v-11.0h1.48v11.0zM724.51 286.5v-1.3h1.48v1.3zM725.99 286.5v-1.3h1.48v1.3zM730.44 286.5v-0.1h1.48v0.1zM731.92 286.5v-47.0h1.48v47.0zM736.37 286.5v-7.0h1.48v7.0zM743.78 286.5v-1.3h1.48v1.3zM745.26 286.5v-1.3h1.48v1.3zM751.19 286.5v-10.0h1.48v10.0zM752.67 286.5v-10.0h1.48v10.0zM754.16 286.5v-10.0h1.48v10.0zM755.64 286.5v-31.0h1.48v31.0zM760.09 286.5v-22.0h1.48v22.0zM761.57 286.5v-7.0h1.48v7.0zM763.05 286.5v-7.0h1.48v7.0zM773.43 286.5v-1.3h1.48v1.3zM777.88 286.5v-7.0h1.48v7.0zM779.36 286.5v-7.0h1.48v7.0zM788.25 286.5v-13.0h1.48v13.0zM789.74 286.5v-13.0h1.48v13.0zM792.70 286.5v-14.0h1.48v14.0zM794.18 286.5v-14.0h1.48v14.0zM823.83 286.5v-6.0h1.48v6.0zM825.32 286.5v-6.0h1.48v6.0zM829.76 286.5v-32.0h1.48v32.0zM831.25 286.5v-32.0h1.48v32.0z" fill="#ee6c61" stroke="#e42a1a" stroke-width="0.42"/>
<rect x="302.0" y="285.5" width="550.0" height="2" fill="#000"/>
<text x="280.3" y="296.4" class="s" font-size="31.5" text-anchor="end" textLength="181" lengthAdjust="spacingAndGlyphs">Proliferation</text>
<text x="905.6" y="295.7" class="s" font-size="31.5" textLength="60" lengthAdjust="spacingAndGlyphs">0.57</text>
<text x="1069.6" y="295.5" class="s" font-size="31.5" fill="#f00" textLength="40" lengthAdjust="spacingAndGlyphs">***</text>
<path d="M393.61 550.7v28.5h1.47v-28.5zM395.08 550.7v28.5h1.47v-28.5zM420.11 550.7v24.0h1.47v-24.0zM428.95 550.7v17.0h1.47v-17.0zM430.42 550.7v17.0h1.47v-17.0zM431.89 550.7v49.0h1.47v-49.0zM433.36 550.7v3.0h1.47v-3.0zM439.25 550.7v25.0h1.47v-25.0zM440.73 550.7v25.0h1.47v-25.0zM443.67 550.7v9.0h1.47v-9.0zM445.14 550.7v0.6h1.47v-0.6zM453.98 550.7v0.8h1.47v-0.8zM458.40 550.7v0.3h1.47v-0.3zM459.87 550.7v32.0h1.47v-32.0zM461.34 550.7v0.2h1.47v-0.2zM464.29 550.7v4.0h1.47v-4.0zM465.76 550.7v4.0h1.47v-4.0zM467.23 550.7v31.0h1.47v-31.0zM470.18 550.7v4.0h1.47v-4.0zM471.65 550.7v4.0h1.47v-4.0zM477.54 550.7v0.4h1.47v-0.4zM479.01 550.7v36.0h1.47v-36.0zM484.90 550.7v1.1h1.47v-1.1zM487.85 550.7v31.0h1.47v-31.0zM489.32 550.7v1.0h1.47v-1.0zM493.74 550.7v0.7h1.47v-0.7zM495.21 550.7v26.5h1.47v-26.5zM496.68 550.7v21.5h1.47v-21.5zM502.57 550.7v26.0h1.47v-26.0zM504.04 550.7v26.0h1.47v-26.0zM508.46 550.7v0.2h1.47v-0.2zM509.93 550.7v61.0h1.47v-61.0zM514.35 550.7v21.9h1.47v-21.9zM515.82 550.7v18.8h1.47v-18.8zM518.77 550.7v0.8h1.47v-0.8zM524.66 550.7v27.3h1.47v-27.3zM529.08 550.7v47.0h1.47v-47.0zM530.55 550.7v47.0h1.47v-47.0zM532.02 550.7v0.8h1.47v-0.8zM545.27 550.7v40.0h1.47v-40.0zM546.75 550.7v39.4h1.47v-39.4zM548.22 550.7v51.1h1.47v-51.1zM549.69 550.7v45.2h1.47v-45.2zM551.16 550.7v45.3h1.47v-45.3zM552.64 550.7v1.1h1.47v-1.1zM555.58 550.7v15.9h1.47v-15.9zM557.05 550.7v18.3h1.47v-18.3zM558.53 550.7v18.7h1.47v-18.7zM561.47 550.7v53.0h1.47v-53.0zM562.94 550.7v53.0h1.47v-53.0zM568.83 550.7v16.0h1.47v-16.0zM570.31 550.7v0.7h1.47v-0.7zM573.25 550.7v36.0h1.47v-36.0zM574.72 550.7v1.1h1.47v-1.1zM577.67 550.7v49.4h1.47v-49.4zM579.14 550.7v49.6h1.47v-49.6zM582.09 550.7v18.0h1.47v-18.0zM586.50 550.7v31.0h1.47v-31.0zM590.92 550.7v20.3h1.47v-20.3zM592.39 550.7v20.8h1.47v-20.8zM593.87 550.7v23.0h1.47v-23.0zM595.34 550.7v0.3h1.47v-0.3zM604.17 550.7v30.0h1.47v-30.0zM610.06 550.7v0.4h1.47v-0.4zM613.01 550.7v17.0h1.47v-17.0zM614.48 550.7v42.5h1.47v-42.5zM615.95 550.7v42.9h1.47v-42.9zM621.84 550.7v17.0h1.47v-17.0zM626.26 550.7v57.8h1.47v-57.8zM630.68 550.7v25.4h1.47v-25.4zM632.15 550.7v24.6h1.47v-24.6zM633.62 550.7v27.7h1.47v-27.7zM636.57 550.7v40.0h1.47v-40.0zM638.04 550.7v40.0h1.47v-40.0zM640.99 550.7v28.4h1.47v-28.4zM642.46 550.7v29.9h1.47v-29.9zM648.35 550.7v21.5h1.47v-21.5zM654.24 550.7v9.1h1.47v-9.1zM667.49 550.7v28.8h1.47v-28.8zM671.91 550.7v12.0h1.47v-12.0zM673.38 550.7v5.9h1.47v-5.9zM674.85 550.7v5.9h1.47v-5.9zM677.80 550.7v9.7h1.47v-9.7zM679.27 550.7v9.7h1.47v-9.7zM680.74 550.7v40.9h1.47v-40.9zM685.16 550.7v23.0h1.47v-23.0zM686.63 550.7v34.0h1.47v-34.0zM688.11 550.7v34.0h1.47v-34.0zM691.05 550.7v34.3h1.47v-34.3zM692.52 550.7v34.3h1.47v-34.3zM695.47 550.7v14.3h1.47v-14.3zM696.94 550.7v14.3h1.47v-14.3zM698.41 550.7v47.0h1.47v-47.0zM699.89 550.7v47.0h1.47v-47.0zM701.36 550.7v47.0h1.47v-47.0zM702.83 550.7v40.9h1.47v-40.9zM704.30 550.7v25.3h1.47v-25.3zM705.78 550.7v25.3h1.47v-25.3zM707.25 550.7v50.5h1.47v-50.5zM708.72 550.7v13.1h1.47v-13.1zM713.14 550.7v27.9h1.47v-27.9zM714.61 550.7v27.9h1.47v-27.9zM717.56 550.7v70.0h1.47v-70.0zM719.03 550.7v70.0h1.47v-70.0zM720.50 550.7v36.6h1.47v-36.6zM721.97 550.7v21.0h1.47v-21.0zM723.45 550.7v62.6h1.47v-62.6zM724.92 550.7v62.6h1.47v-62.6zM726.39 550.7v11.1h1.47v-11.1zM730.81 550.7v34.6h1.47v-34.6zM732.28 550.7v35.1h1.47v-35.1zM733.75 550.7v35.1h1.47v-35.1zM735.23 550.7v6.2h1.47v-6.2zM736.70 550.7v55.4h1.47v-55.4zM738.17 550.7v55.4h1.47v-55.4zM741.12 550.7v41.5h1.47v-41.5zM742.59 550.7v41.5h1.47v-41.5zM748.48 550.7v25.9h1.47v-25.9zM749.95 550.7v40.0h1.47v-40.0zM751.42 550.7v40.0h1.47v-40.0zM752.90 550.7v31.1h1.47v-31.1zM754.37 550.7v48.1h1.47v-48.1zM755.84 550.7v48.1h1.47v-48.1zM757.31 550.7v38.0h1.47v-38.0zM758.79 550.7v39.5h1.47v-39.5zM760.26 550.7v39.5h1.47v-39.5zM763.20 550.7v24.7h1.47v-24.7zM764.68 550.7v24.7h1.47v-24.7zM766.15 550.7v47.3h1.47v-47.3zM767.62 550.7v56.5h1.47v-56.5zM769.09 550.7v56.5h1.47v-56.5zM770.57 550.7v42.1h1.47v-42.1zM772.04 550.7v41.8h1.47v-41.8zM773.51 550.7v42.2h1.47v-42.2zM776.46 550.7v53.9h1.47v-53.9zM777.93 550.7v53.9h1.47v-53.9zM779.40 550.7v35.7h1.47v-35.7zM780.87 550.7v48.1h1.47v-48.1zM782.35 550.7v48.1h1.47v-48.1zM783.82 550.7v48.1h1.47v-48.1zM785.29 550.7v30.2h1.47v-30.2zM786.76 550.7v30.2h1.47v-30.2zM788.24 550.7v50.3h1.47v-50.3zM789.71 550.7v36.5h1.47v-36.5zM791.18 550.7v22.0h1.47v-22.0zM792.65 550.7v22.0h1.47v-22.0zM794.13 550.7v53.1h1.47v-53.1zM795.60 550.7v21.4h1.47v-21.4zM797.07 550.7v21.4h1.47v-21.4zM798.54 550.7v25.5h1.47v-25.5zM800.02 550.7v19.2h1.47v-19.2zM801.49 550.7v19.2h1.47v-19.2zM802.96 550.7v46.5h1.47v-46.5zM804.43 550.7v46.5h1.47v-46.5zM805.91 550.7v46.5h1.47v-46.5zM807.38 550.7v56.3h1.47v-56.3zM808.85 550.7v29.6h1.47v-29.6zM810.32 550.7v29.6h1.47v-29.6zM811.80 550.7v29.6h1.47v-29.6zM813.27 550.7v29.6h1.47v-29.6zM814.74 550.7v40.9h1.47v-40.9zM816.21 550.7v44.7h1.47v-44.7zM817.69 550.7v50.0h1.47v-50.0zM819.16 550.7v50.0h1.47v-50.0zM820.63 550.7v42.5h1.47v-42.5zM826.52 550.7v44.0h1.47v-44.0zM827.99 550.7v44.0h1.47v-44.0zM829.47 550.7v44.0h1.47v-44.0zM830.94 550.7v56.3h1.47v-56.3zM832.41 550.7v56.3h1.47v-56.3zM833.88 550.7v32.1h1.47v-32.1zM835.36 550.7v58.5h1.47v-58.5zM836.83 550.7v58.5h1.47v-58.5zM838.30 550.7v50.3h1.47v-50.3zM839.77 550.7v56.3h1.47v-56.3zM841.25 550.7v56.3h1.47v-56.3zM842.72 550.7v49.7h1.47v-49.7zM844.19 550.7v10.7h1.47v-10.7zM845.66 550.7v3.8h1.47v-3.8zM851.55 550.7v22.7h1.47v-22.7zM853.03 550.7v9.8h1.47v-9.8z" fill="#f6aea7" stroke="#f08f88" stroke-width="0.3"/>
<path d="M308.20 550.7v-47.6h1.47v47.6zM309.67 550.7v-47.6h1.47v47.6zM311.15 550.7v-45.8h1.47v45.8zM312.62 550.7v-51.3h1.47v51.3zM314.09 550.7v-51.3h1.47v51.3zM315.56 550.7v-53.9h1.47v53.9zM317.04 550.7v-34.8h1.47v34.8zM318.51 550.7v-34.8h1.47v34.8zM319.98 550.7v-40.9h1.47v40.9zM321.45 550.7v-40.0h1.47v40.0zM322.93 550.7v-40.0h1.47v40.0zM324.40 550.7v-53.4h1.47v53.4zM325.87 550.7v-33.1h1.47v33.1zM327.34 550.7v-33.1h1.47v33.1zM328.82 550.7v-36.9h1.47v36.9zM330.29 550.7v-27.3h1.47v27.3zM331.76 550.7v-27.3h1.47v27.3zM333.23 550.7v-25.9h1.47v25.9zM334.71 550.7v-23.6h1.47v23.6zM336.18 550.7v-23.6h1.47v23.6zM337.65 550.7v-1.4h1.47v1.4zM339.12 550.7v-39.2h1.47v39.2zM340.60 550.7v-42.7h1.47v42.7zM342.07 550.7v-42.7h1.47v42.7zM343.54 550.7v-49.9h1.47v49.9zM345.01 550.7v-31.4h1.47v31.4zM346.49 550.7v-31.4h1.47v31.4zM347.96 550.7v-40.0h1.47v40.0zM349.43 550.7v-40.0h1.47v40.0zM350.90 550.7v-60.3h1.47v60.3zM352.38 550.7v-40.3h1.47v40.3zM353.85 550.7v-40.3h1.47v40.3zM355.32 550.7v-58.3h1.47v58.3zM356.79 550.7v-51.0h1.47v51.0zM358.27 550.7v-49.9h1.47v49.9zM359.74 550.7v-49.9h1.47v49.9zM361.21 550.7v-28.8h1.47v28.8zM362.68 550.7v-50.5h1.47v50.5zM364.16 550.7v-50.5h1.47v50.5zM365.63 550.7v-47.3h1.47v47.3zM367.10 550.7v-57.1h1.47v57.1zM368.57 550.7v-57.1h1.47v57.1zM370.05 550.7v-54.2h1.47v54.2zM371.52 550.7v-50.8h1.47v50.8zM372.99 550.7v-50.8h1.47v50.8zM374.46 550.7v-56.5h1.47v56.5zM375.94 550.7v-42.9h1.47v42.9zM377.41 550.7v-42.9h1.47v42.9zM378.88 550.7v-54.2h1.47v54.2zM380.35 550.7v-53.4h1.47v53.4zM381.83 550.7v-53.4h1.47v53.4zM383.30 550.7v-35.7h1.47v35.7zM384.77 550.7v-47.3h1.47v47.3zM386.24 550.7v-47.3h1.47v47.3zM387.72 550.7v-50.5h1.47v50.5zM389.19 550.7v-52.8h1.47v52.8zM390.66 550.7v-52.8h1.47v52.8zM392.13 550.7v-39.2h1.47v39.2zM396.55 550.7v-57.7h1.47v57.7zM398.02 550.7v-48.1h1.47v48.1zM399.50 550.7v-48.1h1.47v48.1zM400.97 550.7v-47.3h1.47v47.3zM402.44 550.7v-48.7h1.47v48.7zM403.91 550.7v-48.7h1.47v48.7zM405.39 550.7v-53.6h1.47v53.6zM406.86 550.7v-27.3h1.47v27.3zM408.33 550.7v-27.3h1.47v27.3zM409.80 550.7v-32.2h1.47v32.2zM411.28 550.7v-49.0h1.47v49.0zM412.75 550.7v-49.0h1.47v49.0zM414.22 550.7v-50.8h1.47v50.8zM415.69 550.7v-42.9h1.47v42.9zM417.17 550.7v-42.9h1.47v42.9zM418.64 550.7v-4.5h1.47v4.5zM421.58 550.7v-15.5h1.47v15.5zM423.06 550.7v-15.5h1.47v15.5zM424.53 550.7v-1.4h1.47v1.4zM426.00 550.7v-1.4h1.47v1.4zM427.47 550.7v-43.5h1.47v43.5zM434.84 550.7v-49.3h1.47v49.3zM436.31 550.7v-49.3h1.47v49.3zM437.78 550.7v-35.1h1.47v35.1zM442.20 550.7v-54.8h1.47v54.8zM446.62 550.7v-34.8h1.47v34.8zM448.09 550.7v-33.5h1.47v33.5zM449.56 550.7v-30.6h1.47v30.6zM451.03 550.7v-17.0h1.47v17.0zM452.51 550.7v-17.0h1.47v17.0zM455.45 550.7v-49.0h1.47v49.0zM456.92 550.7v-7.0h1.47v7.0zM462.81 550.7v-22.0h1.47v22.0zM468.70 550.7v-42.0h1.47v42.0zM473.12 550.7v-18.0h1.47v18.0zM474.59 550.7v-1.1h1.47v1.1zM476.07 550.7v-30.9h1.47v30.9zM480.48 550.7v-0.2h1.47v0.2zM481.96 550.7v-6.3h1.47v6.3zM483.43 550.7v-8.4h1.47v8.4zM486.37 550.7v-0.5h1.47v0.5zM490.79 550.7v-48.3h1.47v48.3zM492.26 550.7v-48.9h1.47v48.9zM498.15 550.7v-0.6h1.47v0.6zM499.63 550.7v-26.2h1.47v26.2zM501.10 550.7v-24.7h1.47v24.7zM505.52 550.7v-8.0h1.47v8.0zM506.99 550.7v-0.8h1.47v0.8zM511.41 550.7v-0.9h1.47v0.9zM512.88 550.7v-36.0h1.47v36.0zM520.24 550.7v-0.5h1.47v0.5zM521.71 550.7v-31.0h1.47v31.0zM523.19 550.7v-0.9h1.47v0.9zM526.13 550.7v-0.1h1.47v0.1zM527.60 550.7v-8.4h1.47v8.4zM533.49 550.7v-0.6h1.47v0.6zM534.97 550.7v-0.6h1.47v0.6zM536.44 550.7v-10.1h1.47v10.1zM537.91 550.7v-10.8h1.47v10.8zM539.38 550.7v-9.4h1.47v9.4zM540.86 550.7v-0.8h1.47v0.8zM542.33 550.7v-9.0h1.47v9.0zM543.80 550.7v-9.0h1.47v9.0zM554.11 550.7v-20.0h1.47v20.0zM560.00 550.7v-38.0h1.47v38.0zM564.42 550.7v-45.5h1.47v45.5zM565.89 550.7v-0.8h1.47v0.8zM567.36 550.7v-14.0h1.47v14.0zM571.78 550.7v-41.5h1.47v41.5zM576.20 550.7v-4.0h1.47v4.0zM580.61 550.7v-3.0h1.47v3.0zM583.56 550.7v-0.1h1.47v0.1zM585.03 550.7v-0.1h1.47v0.1zM587.98 550.7v-48.0h1.47v48.0zM589.45 550.7v-48.0h1.47v48.0zM596.81 550.7v-42.0h1.47v42.0zM598.28 550.7v-42.5h1.47v42.5zM599.76 550.7v-42.2h1.47v42.2zM601.23 550.7v-42.7h1.47v42.7zM602.70 550.7v-29.0h1.47v29.0zM605.65 550.7v-27.0h1.47v27.0zM607.12 550.7v-7.0h1.47v7.0zM608.59 550.7v-7.0h1.47v7.0zM617.43 550.7v-0.2h1.47v0.2zM618.90 550.7v-20.0h1.47v20.0zM620.37 550.7v-20.0h1.47v20.0zM623.32 550.7v-13.0h1.47v13.0zM624.79 550.7v-0.8h1.47v0.8zM627.73 550.7v-29.0h1.47v29.0zM635.10 550.7v-18.0h1.47v18.0zM639.51 550.7v-48.1h1.47v48.1zM643.93 550.7v-49.6h1.47v49.6zM645.40 550.7v-31.0h1.47v31.0zM646.88 550.7v-31.0h1.47v31.0zM649.82 550.7v-1.3h1.47v1.3zM651.29 550.7v-47.0h1.47v47.0zM652.77 550.7v-47.0h1.47v47.0zM655.71 550.7v-13.7h1.47v13.7zM657.18 550.7v-13.7h1.47v13.7zM658.66 550.7v-41.5h1.47v41.5zM660.13 550.7v-39.0h1.47v39.0zM661.60 550.7v-39.0h1.47v39.0zM663.07 550.7v-1.3h1.47v1.3zM664.55 550.7v-25.0h1.47v25.0zM666.02 550.7v-25.0h1.47v25.0zM668.96 550.7v-19.5h1.47v19.5zM670.44 550.7v-19.5h1.47v19.5zM676.33 550.7v-8.6h1.47v8.6zM682.22 550.7v-1.3h1.47v1.3zM683.69 550.7v-1.3h1.47v1.3zM689.58 550.7v-15.0h1.47v15.0zM694.00 550.7v-36.0h1.47v36.0zM710.19 550.7v-7.0h1.47v7.0zM711.67 550.7v-7.0h1.47v7.0zM716.08 550.7v-27.0h1.47v27.0zM727.86 550.7v-35.0h1.47v35.0zM729.34 550.7v-35.0h1.47v35.0zM739.64 550.7v-4.5h1.47v4.5zM744.06 550.7v-32.0h1.47v32.0zM745.53 550.7v-15.0h1.47v15.0zM747.01 550.7v-15.0h1.47v15.0zM761.73 550.7v-13.7h1.47v13.7zM774.98 550.7v-22.0h1.47v22.0zM822.10 550.7v-9.0h1.47v9.0zM823.58 550.7v-9.0h1.47v9.0zM825.05 550.7v-24.0h1.47v24.0zM847.14 550.7v-1.3h1.47v1.3zM848.61 550.7v-39.0h1.47v39.0zM850.08 550.7v-39.0h1.47v39.0z" fill="#ee6c61" stroke="#e42a1a" stroke-width="0.42"/>
<rect x="308.2" y="549.7" width="546.3" height="2" fill="#000"/>
<text x="286.2" y="559.3" class="s" font-size="31.5" text-anchor="end" textLength="130.5" lengthAdjust="spacingAndGlyphs">CellCycle</text>
<text x="908.6" y="559" class="s" font-size="31.5" textLength="60" lengthAdjust="spacingAndGlyphs">0.63</text>
<text x="1071.7" y="559.7" class="s" font-size="31.5" fill="#f00" textLength="40" lengthAdjust="spacingAndGlyphs">***</text>
<path d="M337.69 693.6v23.0h1.47v-23.0zM393.73 693.6v9.0h1.47v-9.0zM395.21 693.6v9.0h1.47v-9.0zM420.27 693.6v17.0h1.47v-17.0zM430.60 693.6v54.0h1.47v-54.0zM432.07 693.6v54.0h1.47v-54.0zM433.55 693.6v35.0h1.47v-35.0zM457.14 693.6v17.0h1.47v-17.0zM458.62 693.6v17.0h1.47v-17.0zM460.09 693.6v32.5h1.47v-32.5zM464.51 693.6v10.5h1.47v-10.5zM470.41 693.6v7.0h1.47v-7.0zM471.89 693.6v7.0h1.47v-7.0zM473.36 693.6v7.0h1.47v-7.0zM479.26 693.6v35.0h1.47v-35.0zM480.74 693.6v35.0h1.47v-35.0zM482.21 693.6v21.1h1.47v-21.1zM483.68 693.6v37.1h1.47v-37.1zM485.16 693.6v19.9h1.47v-19.9zM486.63 693.6v53.0h1.47v-53.0zM488.11 693.6v33.5h1.47v-33.5zM494.01 693.6v14.7h1.47v-14.7zM495.48 693.6v8.8h1.47v-8.8zM496.96 693.6v17.6h1.47v-17.6zM498.43 693.6v7.8h1.47v-7.8zM499.91 693.6v12.4h1.47v-12.4zM502.86 693.6v15.0h1.47v-15.0zM504.33 693.6v15.0h1.47v-15.0zM510.23 693.6v65.0h1.47v-65.0zM511.70 693.6v18.4h1.47v-18.4zM513.18 693.6v11.6h1.47v-11.6zM514.65 693.6v10.9h1.47v-10.9zM516.13 693.6v16.6h1.47v-16.6zM523.50 693.6v15.0h1.47v-15.0zM524.98 693.6v52.0h1.47v-52.0zM529.40 693.6v52.0h1.47v-52.0zM533.82 693.6v33.4h1.47v-33.4zM535.30 693.6v33.5h1.47v-33.5zM544.15 693.6v30.0h1.47v-30.0zM545.62 693.6v30.0h1.47v-30.0zM551.52 693.6v4.0h1.47v-4.0zM555.94 693.6v17.7h1.47v-17.7zM557.42 693.6v17.8h1.47v-17.8zM558.89 693.6v0.7h1.47v-0.7zM561.84 693.6v46.4h1.47v-46.4zM563.32 693.6v0.8h1.47v-0.8zM569.22 693.6v65.0h1.47v-65.0zM575.11 693.6v14.0h1.47v-14.0zM576.59 693.6v14.0h1.47v-14.0zM578.06 693.6v35.0h1.47v-35.0zM582.49 693.6v18.9h1.47v-18.9zM583.96 693.6v16.1h1.47v-16.1zM585.44 693.6v16.5h1.47v-16.5zM586.91 693.6v18.8h1.47v-18.8zM591.34 693.6v19.0h1.47v-19.0zM595.76 693.6v30.0h1.47v-30.0zM603.13 693.6v35.0h1.47v-35.0zM604.61 693.6v35.0h1.47v-35.0zM610.51 693.6v20.0h1.47v-20.0zM611.98 693.6v8.5h1.47v-8.5zM613.46 693.6v8.7h1.47v-8.7zM614.93 693.6v30.0h1.47v-30.0zM616.40 693.6v8.6h1.47v-8.6zM617.88 693.6v8.4h1.47v-8.4zM625.25 693.6v49.0h1.47v-49.0zM626.73 693.6v49.0h1.47v-49.0zM632.63 693.6v30.6h1.47v-30.6zM634.10 693.6v22.5h1.47v-22.5zM635.58 693.6v34.7h1.47v-34.7zM637.05 693.6v30.7h1.47v-30.7zM641.47 693.6v22.7h1.47v-22.7zM659.17 693.6v22.1h1.47v-22.1zM666.54 693.6v33.1h1.47v-33.1zM668.02 693.6v33.1h1.47v-33.1zM670.97 693.6v12.0h1.47v-12.0zM672.44 693.6v13.7h1.47v-13.7zM678.34 693.6v4.2h1.47v-4.2zM679.82 693.6v14.3h1.47v-14.3zM681.29 693.6v14.3h1.47v-14.3zM684.24 693.6v1.0h1.47v-1.0zM685.71 693.6v23.9h1.47v-23.9zM687.19 693.6v21.8h1.47v-21.8zM690.14 693.6v14.0h1.47v-14.0zM697.51 693.6v32.2h1.47v-32.2zM698.99 693.6v32.2h1.47v-32.2zM700.46 693.6v25.0h1.47v-25.0zM701.94 693.6v51.9h1.47v-51.9zM703.41 693.6v51.9h1.47v-51.9zM704.88 693.6v16.9h1.47v-16.9zM706.36 693.6v28.8h1.47v-28.8zM707.83 693.6v28.8h1.47v-28.8zM709.31 693.6v26.2h1.47v-26.2zM710.78 693.6v12.3h1.47v-12.3zM712.26 693.6v11.7h1.47v-11.7zM713.73 693.6v30.2h1.47v-30.2zM718.16 693.6v23.9h1.47v-23.9zM722.58 693.6v17.8h1.47v-17.8zM724.05 693.6v70.7h1.47v-70.7zM725.53 693.6v70.7h1.47v-70.7zM727.00 693.6v7.9h1.47v-7.9zM732.90 693.6v19.2h1.47v-19.2zM734.38 693.6v19.2h1.47v-19.2zM735.85 693.6v24.7h1.47v-24.7zM737.33 693.6v40.3h1.47v-40.3zM741.75 693.6v41.2h1.47v-41.2zM746.17 693.6v13.7h1.47v-13.7zM750.60 693.6v39.8h1.47v-39.8zM752.07 693.6v29.1h1.47v-29.1zM753.55 693.6v29.1h1.47v-29.1zM755.02 693.6v31.7h1.47v-31.7zM756.50 693.6v22.7h1.47v-22.7zM757.97 693.6v22.7h1.47v-22.7zM759.45 693.6v11.1h1.47v-11.1zM763.87 693.6v8.2h1.47v-8.2zM768.29 693.6v27.3h1.47v-27.3zM769.77 693.6v35.1h1.47v-35.1zM771.24 693.6v35.1h1.47v-35.1zM772.72 693.6v25.0h1.47v-25.0zM777.14 693.6v64.1h1.47v-64.1zM781.57 693.6v59.1h1.47v-59.1zM785.99 693.6v10.1h1.47v-10.1zM787.47 693.6v24.6h1.47v-24.6zM788.94 693.6v24.6h1.47v-24.6zM790.41 693.6v24.6h1.47v-24.6zM791.89 693.6v7.9h1.47v-7.9zM793.36 693.6v50.3h1.47v-50.3zM794.84 693.6v50.3h1.47v-50.3zM797.79 693.6v5.4h1.47v-5.4zM799.26 693.6v5.4h1.47v-5.4zM805.16 693.6v48.1h1.47v-48.1zM806.64 693.6v48.1h1.47v-48.1zM808.11 693.6v28.6h1.47v-28.6zM809.59 693.6v25.8h1.47v-25.8zM814.01 693.6v39.9h1.47v-39.9zM815.48 693.6v53.8h1.47v-53.8zM816.96 693.6v53.8h1.47v-53.8zM819.91 693.6v44.0h1.47v-44.0zM821.38 693.6v44.0h1.47v-44.0zM827.28 693.6v27.7h1.47v-27.7zM828.76 693.6v27.7h1.47v-27.7zM830.23 693.6v42.1h1.47v-42.1zM831.71 693.6v12.3h1.47v-12.3zM833.18 693.6v12.3h1.47v-12.3zM834.65 693.6v25.5h1.47v-25.5zM836.13 693.6v27.7h1.47v-27.7zM837.60 693.6v27.7h1.47v-27.7zM839.08 693.6v15.1h1.47v-15.1zM840.55 693.6v19.2h1.47v-19.2zM842.03 693.6v19.2h1.47v-19.2zM843.50 693.6v40.3h1.47v-40.3zM846.45 693.6v19.5h1.47v-19.5zM847.93 693.6v19.5h1.47v-19.5zM850.88 693.6v29.0h1.47v-29.0zM852.35 693.6v29.0h1.47v-29.0z" fill="#f6aea7" stroke="#f08f88" stroke-width="0.3"/>
<path d="M308.20 693.6v-30.8h1.47v30.8zM309.67 693.6v-30.8h1.47v30.8zM311.15 693.6v-18.4h1.47v18.4zM312.62 693.6v-18.4h1.47v18.4zM314.10 693.6v-18.4h1.47v18.4zM315.57 693.6v-31.7h1.47v31.7zM317.05 693.6v-45.3h1.47v45.3zM318.52 693.6v-45.3h1.47v45.3zM320.00 693.6v-17.8h1.47v17.8zM321.47 693.6v-70.4h1.47v70.4zM322.95 693.6v-40.0h1.47v40.0zM324.42 693.6v-40.0h1.47v40.0zM325.90 693.6v-22.1h1.47v22.1zM327.37 693.6v-22.1h1.47v22.1zM328.85 693.6v-58.9h1.47v58.9zM330.32 693.6v-32.2h1.47v32.2zM331.79 693.6v-32.2h1.47v32.2zM333.27 693.6v-3.0h1.47v3.0zM334.74 693.6v-17.8h1.47v17.8zM336.22 693.6v-17.8h1.47v17.8zM339.17 693.6v-53.1h1.47v53.1zM340.64 693.6v-37.7h1.47v37.7zM342.12 693.6v-37.7h1.47v37.7zM343.59 693.6v-6.5h1.47v6.5zM345.07 693.6v-6.5h1.47v6.5zM346.54 693.6v-27.3h1.47v27.3zM348.02 693.6v-36.9h1.47v36.9zM349.49 693.6v-36.9h1.47v36.9zM350.97 693.6v-47.9h1.47v47.9zM352.44 693.6v-23.3h1.47v23.3zM353.91 693.6v-39.8h1.47v39.8zM355.39 693.6v-39.8h1.47v39.8zM356.86 693.6v-1.4h1.47v1.4zM358.34 693.6v-21.8h1.47v21.8zM359.81 693.6v-21.8h1.47v21.8zM361.29 693.6v-3.9h1.47v3.9zM362.76 693.6v-31.9h1.47v31.9zM364.24 693.6v-31.9h1.47v31.9zM365.71 693.6v-20.7h1.47v20.7zM367.19 693.6v-15.5h1.47v15.5zM368.66 693.6v-15.5h1.47v15.5zM370.14 693.6v-40.6h1.47v40.6zM371.61 693.6v-41.5h1.47v41.5zM373.09 693.6v-41.5h1.47v41.5zM374.56 693.6v-29.6h1.47v29.6zM376.03 693.6v-5.3h1.47v5.3zM377.51 693.6v-5.3h1.47v5.3zM378.98 693.6v-45.8h1.47v45.8zM380.46 693.6v-17.8h1.47v17.8zM381.93 693.6v-17.8h1.47v17.8zM383.41 693.6v-61.2h1.47v61.2zM384.88 693.6v-28.8h1.47v28.8zM386.36 693.6v-28.8h1.47v28.8zM387.83 693.6v-1.4h1.47v1.4zM389.31 693.6v-20.1h1.47v20.1zM390.78 693.6v-20.1h1.47v20.1zM392.26 693.6v-30.8h1.47v30.8zM396.68 693.6v-7.7h1.47v7.7zM398.15 693.6v-31.4h1.47v31.4zM399.63 693.6v-31.4h1.47v31.4zM401.10 693.6v-26.5h1.47v26.5zM402.58 693.6v-31.7h1.47v31.7zM404.05 693.6v-27.6h1.47v27.6zM405.53 693.6v-27.6h1.47v27.6zM407.00 693.6v-24.4h1.47v24.4zM408.48 693.6v-24.4h1.47v24.4zM409.95 693.6v-32.2h1.47v32.2zM411.43 693.6v-40.6h1.47v40.6zM412.90 693.6v-32.2h1.47v32.2zM414.38 693.6v-32.2h1.47v32.2zM415.85 693.6v-12.3h1.47v12.3zM417.33 693.6v-53.1h1.47v53.1zM418.80 693.6v-53.1h1.47v53.1zM421.75 693.6v-27.3h1.47v27.3zM423.22 693.6v-27.3h1.47v27.3zM424.70 693.6v-18.1h1.47v18.1zM426.17 693.6v-10.0h1.47v10.0zM427.65 693.6v-10.0h1.47v10.0zM429.12 693.6v-12.9h1.47v12.9zM435.02 693.6v-31.4h1.47v31.4zM436.50 693.6v-31.4h1.47v31.4zM437.97 693.6v-4.8h1.47v4.8zM439.45 693.6v-5.9h1.47v5.9zM440.92 693.6v-5.9h1.47v5.9zM442.39 693.6v-42.9h1.47v42.9zM443.87 693.6v-51.3h1.47v51.3zM445.34 693.6v-51.3h1.47v51.3zM446.82 693.6v-39.8h1.47v39.8zM448.29 693.6v-35.7h1.47v35.7zM449.77 693.6v-35.7h1.47v35.7zM451.24 693.6v-27.6h1.47v27.6zM452.72 693.6v-37.7h1.47v37.7zM454.19 693.6v-37.7h1.47v37.7zM455.67 693.6v-29.3h1.47v29.3zM461.56 693.6v-19.8h1.47v19.8zM463.04 693.6v-19.8h1.47v19.8zM465.99 693.6v-23.3h1.47v23.3zM467.46 693.6v-16.6h1.47v16.6zM468.94 693.6v-16.6h1.47v16.6zM474.84 693.6v-35.1h1.47v35.1zM476.31 693.6v-51.0h1.47v51.0zM477.79 693.6v-51.0h1.47v51.0zM489.58 693.6v-1.9h1.47v1.9zM491.06 693.6v-1.9h1.47v1.9zM492.53 693.6v-14.6h1.47v14.6zM501.38 693.6v-29.1h1.47v29.1zM505.80 693.6v-46.1h1.47v46.1zM507.28 693.6v-21.0h1.47v21.0zM508.75 693.6v-21.0h1.47v21.0zM517.60 693.6v-1.2h1.47v1.2zM519.08 693.6v-23.0h1.47v23.0zM520.55 693.6v-34.0h1.47v34.0zM522.03 693.6v-34.0h1.47v34.0zM526.45 693.6v-0.5h1.47v0.5zM527.92 693.6v-6.9h1.47v6.9zM530.87 693.6v-22.0h1.47v22.0zM532.35 693.6v-22.0h1.47v22.0zM536.77 693.6v-1.1h1.47v1.1zM538.25 693.6v-27.9h1.47v27.9zM539.72 693.6v-26.1h1.47v26.1zM541.20 693.6v-4.0h1.47v4.0zM542.67 693.6v-0.3h1.47v0.3zM547.10 693.6v-6.3h1.47v6.3zM548.57 693.6v-6.9h1.47v6.9zM550.04 693.6v-6.5h1.47v6.5zM552.99 693.6v-49.0h1.47v49.0zM554.47 693.6v-49.0h1.47v49.0zM560.37 693.6v-68.0h1.47v68.0zM564.79 693.6v-21.2h1.47v21.2zM566.27 693.6v-17.0h1.47v17.0zM567.74 693.6v-17.0h1.47v17.0zM570.69 693.6v-0.6h1.47v0.6zM572.16 693.6v-5.0h1.47v5.0zM573.64 693.6v-5.0h1.47v5.0zM579.54 693.6v-11.4h1.47v11.4zM581.01 693.6v-11.3h1.47v11.3zM588.39 693.6v-26.0h1.47v26.0zM589.86 693.6v-26.0h1.47v26.0zM592.81 693.6v-2.0h1.47v2.0zM594.28 693.6v-2.0h1.47v2.0zM597.23 693.6v-50.0h1.47v50.0zM598.71 693.6v-45.0h1.47v45.0zM600.18 693.6v-45.0h1.47v45.0zM601.66 693.6v-7.1h1.47v7.1zM606.08 693.6v-19.2h1.47v19.2zM607.56 693.6v-3.5h1.47v3.5zM609.03 693.6v-3.1h1.47v3.1zM619.35 693.6v-31.0h1.47v31.0zM620.83 693.6v-6.0h1.47v6.0zM622.30 693.6v-6.0h1.47v6.0zM623.78 693.6v-26.0h1.47v26.0zM628.20 693.6v-27.0h1.47v27.0zM629.68 693.6v-5.0h1.47v5.0zM631.15 693.6v-5.0h1.47v5.0zM638.52 693.6v-10.0h1.47v10.0zM640.00 693.6v-10.0h1.47v10.0zM642.95 693.6v-12.0h1.47v12.0zM644.42 693.6v-12.0h1.47v12.0zM645.90 693.6v-4.0h1.47v4.0zM647.37 693.6v-4.0h1.47v4.0zM648.85 693.6v-4.0h1.47v4.0zM650.32 693.6v-8.6h1.47v8.6zM651.80 693.6v-29.5h1.47v29.5zM653.27 693.6v-5.0h1.47v5.0zM654.75 693.6v-5.0h1.47v5.0zM656.22 693.6v-40.0h1.47v40.0zM657.70 693.6v-1.0h1.47v1.0zM660.64 693.6v-27.5h1.47v27.5zM662.12 693.6v-27.5h1.47v27.5zM663.59 693.6v-27.5h1.47v27.5zM665.07 693.6v-23.7h1.47v23.7zM669.49 693.6v-33.0h1.47v33.0zM673.92 693.6v-41.5h1.47v41.5zM675.39 693.6v-35.0h1.47v35.0zM676.87 693.6v-35.0h1.47v35.0zM682.76 693.6v-7.0h1.47v7.0zM688.66 693.6v-15.0h1.47v15.0zM691.61 693.6v-1.3h1.47v1.3zM693.09 693.6v-1.3h1.47v1.3zM694.56 693.6v-30.6h1.47v30.6zM696.04 693.6v-14.0h1.47v14.0zM715.21 693.6v-28.0h1.47v28.0zM716.68 693.6v-28.0h1.47v28.0zM719.63 693.6v-1.3h1.47v1.3zM721.11 693.6v-1.3h1.47v1.3zM728.48 693.6v-28.0h1.47v28.0zM729.95 693.6v-28.0h1.47v28.0zM731.43 693.6v-2.4h1.47v2.4zM738.80 693.6v-8.6h1.47v8.6zM740.28 693.6v-8.6h1.47v8.6zM743.23 693.6v-40.0h1.47v40.0zM744.70 693.6v-40.0h1.47v40.0zM747.65 693.6v-1.3h1.47v1.3zM749.12 693.6v-1.3h1.47v1.3zM760.92 693.6v-44.5h1.47v44.5zM762.40 693.6v-44.5h1.47v44.5zM765.35 693.6v-6.0h1.47v6.0zM766.82 693.6v-6.0h1.47v6.0zM774.19 693.6v-53.0h1.47v53.0zM775.67 693.6v-53.0h1.47v53.0zM778.62 693.6v-5.6h1.47v5.6zM780.09 693.6v-5.6h1.47v5.6zM783.04 693.6v-4.7h1.47v4.7zM784.52 693.6v-4.7h1.47v4.7zM796.31 693.6v-1.3h1.47v1.3zM800.74 693.6v-1.3h1.47v1.3zM802.21 693.6v-1.3h1.47v1.3zM803.69 693.6v-1.3h1.47v1.3zM811.06 693.6v-12.6h1.47v12.6zM812.53 693.6v-12.6h1.47v12.6zM818.43 693.6v-1.3h1.47v1.3zM822.86 693.6v-32.0h1.47v32.0zM824.33 693.6v-59.0h1.47v59.0zM825.81 693.6v-59.0h1.47v59.0zM844.98 693.6v-32.0h1.47v32.0zM849.40 693.6v-47.0h1.47v47.0zM853.83 693.6v-7.0h1.47v7.0z" fill="#ee6c61" stroke="#e42a1a" stroke-width="0.42"/>
<rect x="308.2" y="692.6" width="547.0999999999999" height="2" fill="#000"/>
<text x="286.3" y="702.6" class="s" font-size="31.5" text-anchor="end" textLength="179" lengthAdjust="spacingAndGlyphs">Proliferation</text>
<text x="908.6" y="702.3" class="s" font-size="31.5" textLength="60" lengthAdjust="spacingAndGlyphs">0.47</text>
<text x="1071.7" y="702.6" class="s" font-size="31.5" fill="#f00" textLength="40" lengthAdjust="spacingAndGlyphs">***</text>
<text x="843.8" y="108" class="s" font-size="31.5" textLength="163.5" lengthAdjust="spacingAndGlyphs">Correlation</text>
<text x="1048.3" y="108" class="s" font-size="31.5" fill="#f00" textLength="96" lengthAdjust="spacingAndGlyphs">Pvalue</text>
<text x="847.6" y="517.3" class="s" font-size="31.5" textLength="162.3" lengthAdjust="spacingAndGlyphs">Correlation</text>
<text x="1050.4" y="517.3" class="s" font-size="31.5" fill="#f00" textLength="95.3" lengthAdjust="spacingAndGlyphs">Pvalue</text>
<rect x="105.5" y="841.7" width="285.5" height="273.89999999999986" fill="none" stroke="#555" stroke-width="1.3"/>
<text x="139.2" y="1139.6" class="s" font-size="11.5" text-anchor="middle" stroke="#000" stroke-width="0.3">2</text>
<text x="181.3" y="1139.6" class="s" font-size="11.5" text-anchor="middle" stroke="#000" stroke-width="0.3">3</text>
<text x="223.3" y="1139.6" class="s" font-size="11.5" text-anchor="middle" stroke="#000" stroke-width="0.3">4</text>
<text x="265.4" y="1139.6" class="s" font-size="11.5" text-anchor="middle" stroke="#000" stroke-width="0.3">5</text>
<text x="307.5" y="1139.6" class="s" font-size="11.5" text-anchor="middle" stroke="#000" stroke-width="0.3">6</text>
<text x="349.6" y="1139.6" class="s" font-size="11.5" text-anchor="middle" stroke="#000" stroke-width="0.3">7</text>
<text transform="translate(91.0,1110.9) rotate(-90)" class="s" font-size="11.5" text-anchor="middle">0</text>
<text transform="translate(91.0,1070.8) rotate(-90)" class="s" font-size="11.5" text-anchor="middle">1</text>
<text transform="translate(91.0,1030.7) rotate(-90)" class="s" font-size="11.5" text-anchor="middle">2</text>
<text transform="translate(91.0,990.6) rotate(-90)" class="s" font-size="11.5" text-anchor="middle">3</text>
<text transform="translate(91.0,950.5) rotate(-90)" class="s" font-size="11.5" text-anchor="middle">4</text>
<text transform="translate(91.0,910.4) rotate(-90)" class="s" font-size="11.5" text-anchor="middle">5</text>
<text transform="translate(91.0,870.3) rotate(-90)" class="s" font-size="11.5" text-anchor="middle">6</text>
<path d="M139.2 1115.6v6.5M181.3 1115.6v6.5M223.3 1115.6v6.5M265.4 1115.6v6.5M307.5 1115.6v6.5M349.6 1115.6v6.5M105.5 1110.9h-6.5M105.5 1070.8h-6.5M105.5 1030.7h-6.5M105.5 990.6h-6.5M105.5 950.5h-6.5M105.5 910.4h-6.5M105.5 870.3h-6.5" stroke="#555" stroke-width="1.3" fill="none"/>
<text x="248.3" y="1163.6" class="s" font-size="15" text-anchor="middle" textLength="153" lengthAdjust="spacingAndGlyphs">log2(RACGAP1 TPM)</text>
<text transform="translate(65.7,978.8) rotate(-90)" class="s" font-size="15" text-anchor="middle" textLength="124" lengthAdjust="spacingAndGlyphs">log2(MKI67 TPM)</text>
<text x="123" y="860.8" class="s" font-size="14">p−value &lt; 0.05</text>
<text x="123" y="877.3" class="s" font-size="14">R = 0.73</text>
<path d="M244.8 959.9h0M294.2 950.0h0M289.2 938.0h0M219.2 979.4h0M229.3 965.8h0M218.4 997.4h0M264.8 937.9h0M240.9 964.6h0M271.4 989.5h0M301.9 862.0h0M238.9 947.4h0M268.9 946.1h0M237.0 1013.7h0M225.4 1016.5h0M260.8 917.1h0M274.3 1009.9h0M233.9 982.4h0M236.2 949.8h0M269.1 940.9h0M202.0 995.1h0M171.3 1055.2h0M258.2 893.2h0M211.5 1027.6h0M204.7 1003.7h0M221.2 954.5h0M186.6 1034.3h0M172.3 1024.5h0M244.9 976.1h0M277.0 968.0h0M232.4 941.3h0M208.1 967.3h0M257.9 914.9h0M270.3 954.5h0M229.2 1008.8h0M263.8 977.6h0M282.4 939.9h0M233.7 960.1h0M204.7 997.8h0M256.5 989.8h0M252.8 952.1h0M284.5 932.3h0M182.2 1036.1h0M212.0 1002.1h0M203.5 1016.9h0M160.8 1050.1h0M248.2 957.2h0M263.2 943.4h0M208.3 1023.2h0M295.2 914.8h0M274.2 943.6h0M266.9 998.7h0M258.5 940.5h0M279.1 943.4h0M180.0 1018.1h0M266.4 950.6h0M266.0 949.2h0M159.2 1061.6h0M256.5 954.4h0M231.6 988.3h0M272.7 986.4h0M222.6 942.5h0M242.7 1003.9h0M256.3 962.7h0M201.7 997.9h0M265.8 937.5h0M238.5 954.5h0M261.9 930.9h0M218.6 961.8h0M284.0 925.7h0M266.1 874.5h0M235.0 998.1h0M267.1 940.4h0M290.5 937.2h0M310.3 926.6h0M168.5 1048.3h0M276.4 902.6h0M260.9 968.4h0M239.1 985.6h0M195.5 1003.9h0M290.4 914.7h0M183.3 988.3h0M264.7 922.3h0M292.0 921.3h0M167.2 1065.1h0M229.1 974.9h0M181.1 1044.1h0M252.6 991.0h0M300.0 920.7h0M318.9 910.8h0M158.7 1073.3h0M216.1 1007.0h0M269.7 902.0h0M302.4 901.8h0M259.2 928.7h0M207.9 1021.6h0M254.6 981.0h0M242.7 971.6h0M233.8 968.3h0M208.5 1014.4h0M258.0 957.7h0M255.0 931.3h0M239.1 960.4h0M233.0 999.9h0M182.2 1049.0h0M220.3 1007.5h0M288.5 925.2h0M234.4 1002.7h0M174.8 1051.9h0M293.3 908.8h0M263.3 948.2h0M322.1 926.8h0M245.9 977.5h0M221.5 986.6h0M174.5 1035.9h0M292.9 905.6h0M339.3 894.6h0M204.4 1043.6h0M212.7 965.2h0M265.7 939.6h0M203.9 1001.4h0M230.6 970.8h0M226.8 1008.8h0M250.7 966.5h0M284.3 926.5h0M244.4 937.7h0M277.8 936.4h0M223.5 1064.8h0M255.7 960.7h0M141.5 1080.0h0M174.4 1015.9h0M273.2 923.7h0M215.4 935.3h0M265.1 912.1h0M263.7 915.1h0M292.8 903.0h0M273.8 975.3h0M281.4 914.0h0M238.2 954.1h0M210.2 1016.7h0M208.6 991.0h0M220.3 980.8h0M189.6 1040.7h0M217.4 997.8h0M239.1 974.4h0M252.9 951.1h0M227.4 993.0h0M151.8 1062.5h0M240.1 1014.3h0M251.9 964.6h0M283.9 975.0h0M265.1 959.6h0M212.8 987.6h0M209.0 1004.6h0M318.4 909.6h0M271.7 940.8h0M311.8 872.9h0M322.9 931.0h0M204.5 988.7h0M257.9 990.6h0M260.6 962.6h0M264.4 944.0h0M263.7 969.8h0M251.1 953.1h0M250.0 940.9h0M171.9 1080.9h0M235.6 974.1h0M207.9 1015.9h0M248.2 1008.6h0M221.2 994.7h0M266.6 966.2h0M274.1 907.4h0M255.0 977.0h0M255.3 912.7h0M247.0 974.6h0M222.2 940.7h0M235.7 958.7h0M219.9 980.4h0M258.0 932.9h0M244.1 941.1h0M265.2 912.6h0M180.1 997.8h0M276.6 947.4h0M207.1 1038.5h0M208.5 1072.2h0M234.1 983.7h0M216.7 976.8h0M254.4 946.3h0M216.1 993.4h0M192.5 1034.3h0M203.2 1028.3h0M292.4 933.8h0M245.2 953.0h0M187.8 1075.3h0M243.8 945.6h0M169.3 1090.6h0M310.2 917.1h0M170.8 1068.3h0M261.4 959.6h0M263.8 974.6h0M174.4 1076.8h0M254.7 961.2h0M280.7 962.7h0M261.0 889.6h0M253.3 967.0h0M278.9 953.5h0M249.5 973.2h0M256.1 981.2h0M237.5 1031.1h0M267.1 952.6h0M198.6 1010.5h0M273.0 979.0h0M219.4 992.3h0M191.5 1057.1h0M257.1 954.7h0M306.6 907.1h0M279.4 924.8h0M218.9 982.2h0M269.5 961.8h0M221.9 967.5h0M237.6 981.0h0M246.9 952.9h0M133.0 1082.0h0M250.7 966.3h0M194.4 1055.4h0M210.3 988.6h0M173.2 1077.5h0M171.2 1074.4h0M198.5 1045.8h0M274.3 919.8h0M305.6 920.9h0M242.3 1021.0h0M284.2 914.9h0M230.9 926.7h0M152.3 1030.9h0M249.1 974.1h0M260.1 949.6h0M223.1 975.3h0M254.8 933.4h0M264.9 947.1h0M202.3 1040.9h0M173.1 1031.2h0M233.0 960.4h0M233.5 1008.2h0M226.7 992.6h0M280.3 929.5h0M307.8 915.3h0M223.7 974.2h0M269.6 924.6h0M278.6 924.1h0M270.1 946.8h0M282.6 968.0h0M225.0 970.4h0M271.1 908.4h0M319.0 857.6h0M273.5 942.3h0M214.0 1000.2h0M266.2 911.0h0M290.6 892.6h0M257.3 945.3h0M216.7 978.3h0M301.0 939.4h0M183.9 1022.1h0M262.3 970.5h0M242.8 968.5h0M186.6 1036.3h0M289.0 941.3h0M256.5 1006.9h0M187.9 1052.2h0M266.0 938.9h0M222.9 989.7h0M152.8 1085.0h0M210.7 992.8h0M253.4 939.7h0M267.2 925.2h0M249.7 979.7h0M245.2 962.5h0M261.0 959.3h0M233.5 997.1h0M287.4 968.1h0M249.1 962.6h0M254.5 977.7h0M263.7 895.5h0M193.1 1027.7h0M209.7 1010.3h0M300.5 930.8h0M256.0 908.2h0M230.1 1002.9h0M256.3 958.7h0M220.6 1010.4h0M253.9 959.6h0M211.8 1003.0h0M253.8 929.2h0M168.3 1091.3h0M293.1 927.1h0M219.1 952.9h0M168.1 1068.9h0M232.9 980.4h0M225.8 1006.8h0M249.2 1025.2h0M188.9 1033.1h0M258.3 923.9h0M378.5 873.1h0M182.5 1084.3h0M256.1 948.2h0M228.7 979.2h0M250.7 934.0h0M157.1 1047.3h0M188.6 1037.6h0M260.7 941.4h0M241.7 1010.5h0M304.5 890.2h0M209.9 999.8h0M250.0 932.5h0M352.1 855.2h0M207.0 1015.2h0M200.4 1019.9h0M241.9 987.4h0M241.4 1017.4h0M275.0 943.7h0M248.4 956.9h0M207.4 1034.5h0M251.4 940.7h0M341.8 887.0h0M290.9 917.0h0M236.8 1015.1h0M201.8 995.2h0M266.7 931.5h0M235.3 975.8h0M315.5 920.0h0M278.2 944.8h0M276.7 942.5h0M250.5 971.7h0M241.6 1015.9h0M256.2 935.2h0M291.8 964.8h0M263.4 957.5h0M226.8 991.2h0M291.0 921.7h0M250.7 999.0h0M239.8 937.4h0M205.8 993.2h0M216.5 977.1h0M213.2 968.8h0M281.4 1013.4h0M264.6 939.9h0M233.3 942.7h0M282.5 905.6h0M259.9 965.1h0M257.4 955.9h0M125.5 1101.8h0M232.4 1021.3h0M263.4 965.6h0M303.5 934.2h0M312.1 872.5h0M296.7 939.8h0M188.1 992.1h0M138.7 1092.1h0M264.8 989.5h0M244.6 908.1h0M279.4 960.9h0M237.5 954.5h0M251.7 915.3h0M172.0 1064.3h0M260.2 981.8h0M222.3 962.8h0M256.6 952.4h0M260.6 981.4h0M237.9 996.2h0M255.3 964.7h0M242.9 940.5h0M271.8 949.5h0M262.2 933.4h0M217.4 953.6h0M215.5 965.6h0M308.5 878.7h0M238.7 937.7h0M280.5 975.8h0M258.2 922.4h0M216.6 987.5h0M207.8 1009.7h0M248.0 987.5h0M253.1 996.2h0M266.4 974.1h0M183.1 1037.8h0M215.2 1026.7h0M239.0 988.3h0M303.2 933.8h0M130.9 1085.3h0M259.9 958.8h0M217.8 997.9h0M259.6 918.7h0M220.1 999.4h0M257.1 938.7h0M301.8 945.8h0M256.7 945.7h0M259.7 948.7h0M257.4 949.0h0M207.7 1018.3h0M263.8 974.2h0M233.6 982.1h0M204.8 1022.0h0M241.7 939.7h0M232.7 953.2h0M271.6 972.5h0M241.5 949.9h0M218.3 1005.6h0M297.8 911.2h0M280.4 947.9h0M290.8 964.5h0M266.2 921.4h0M238.3 957.6h0M223.5 1017.6h0M230.2 1025.9h0M278.8 950.3h0M247.7 990.2h0M172.8 1059.1h0M241.7 950.0h0M176.0 1009.6h0M249.7 968.1h0M186.1 999.3h0M183.2 1008.1h0M248.0 971.4h0M239.8 1008.4h0M164.3 1039.4h0M271.4 927.5h0M172.9 1014.3h0M311.3 892.8h0M210.7 961.0h0M220.0 1017.6h0M235.0 968.0h0M174.6 1054.5h0M291.9 883.6h0M261.9 935.8h0M207.7 1082.7h0M230.3 944.5h0M171.2 1074.4h0M226.9 963.4h0M278.4 949.1h0M161.7 1057.4h0M222.7 972.1h0M249.0 954.7h0M282.6 957.6h0M293.8 890.5h0M221.7 979.2h0M208.2 1006.2h0M260.3 933.3h0M226.2 996.8h0M228.7 933.4h0M283.8 927.3h0M306.5 906.5h0M253.4 947.4h0M234.4 996.0h0M264.8 976.5h0M153.5 1068.1h0M242.7 955.4h0M192.9 991.1h0M332.6 884.4h0M270.4 970.1h0M248.8 946.4h0M234.3 952.8h0M123.6 1085.6h0M270.1 934.9h0M304.2 947.6h0M208.8 976.1h0M269.0 962.3h0M270.5 928.7h0M169.7 1092.5h0M278.4 917.9h0M294.0 944.5h0M252.0 930.1h0M240.5 921.9h0M272.9 912.0h0M170.0 1082.0h0M247.0 984.3h0M282.8 955.2h0M184.3 1018.9h0M280.5 926.7h0M223.6 982.7h0M144.3 1077.3h0M238.5 953.8h0M197.2 1003.2h0M255.4 912.5h0M187.6 1032.7h0M282.7 928.7h0M208.3 1051.8h0M256.8 986.4h0M215.2 1014.4h0M228.1 1010.6h0M287.9 924.3h0M251.6 931.7h0M224.7 996.3h0M183.8 1048.2h0M286.8 943.5h0M270.8 939.7h0M228.0 995.0h0M252.6 946.3h0M194.4 1015.6h0M195.1 1013.7h0M204.1 992.1h0M256.7 953.0h0M254.6 951.9h0M208.0 962.6h0M271.0 944.1h0M272.8 921.8h0M250.0 957.7h0M282.2 945.8h0M229.8 990.7h0M238.1 989.4h0M261.2 950.3h0M241.9 980.2h0M273.1 952.0h0M183.8 1006.1h0M296.7 926.8h0M206.3 980.2h0M235.7 965.5h0M177.8 1022.4h0M265.9 962.2h0M291.0 924.2h0M283.4 868.1h0M274.6 919.8h0M169.2 1029.5h0M206.2 1002.9h0M221.5 968.5h0M198.9 1046.6h0M285.4 953.3h0M250.4 948.2h0M242.4 944.6h0M261.7 960.5h0M198.1 1023.4h0M200.2 1025.2h0M201.5 1019.3h0M262.1 979.9h0M256.3 990.1h0M265.1 949.8h0M283.7 976.8h0M178.8 1067.2h0M216.8 1012.2h0M249.0 986.3h0M179.2 1036.5h0M218.1 1005.3h0M281.3 937.6h0M284.6 958.2h0M283.6 952.3h0M245.1 950.5h0M233.4 966.4h0M283.8 945.4h0M225.8 975.9h0M256.1 950.3h0M292.9 923.0h0M226.0 945.1h0M214.4 1009.1h0M243.1 954.6h0M265.8 937.2h0M261.5 956.8h0M249.3 989.2h0M264.3 931.7h0M167.2 1051.2h0M202.5 1012.7h0M249.6 959.6h0M199.2 1017.6h0M179.5 1064.8h0M185.9 1027.4h0M199.7 1062.4h0M235.0 974.5h0M194.7 1061.0h0M252.3 967.1h0M306.7 899.1h0M236.5 978.6h0M291.0 940.8h0M254.3 944.2h0M190.1 1036.4h0M231.3 988.9h0M196.7 1031.4h0M272.1 905.8h0M188.5 1015.3h0M292.8 915.7h0M265.1 978.4h0M147.1 1067.9h0M272.8 975.2h0M301.4 909.3h0M205.8 1038.2h0M280.2 888.9h0M252.9 927.9h0M164.3 1042.1h0M261.5 995.9h0M158.2 1075.5h0M117.9 1083.6h0M258.3 926.0h0M328.8 941.7h0M215.1 1012.0h0M274.5 971.1h0M247.7 987.8h0M228.1 999.0h0M266.5 902.3h0M304.7 915.6h0M184.6 1042.6h0M264.5 957.8h0M256.4 939.2h0M175.6 1031.0h0M303.7 942.5h0M316.2 873.7h0M198.1 1047.2h0M308.3 923.1h0M245.6 952.8h0M235.7 931.1h0M299.5 931.5h0M252.0 952.0h0M255.6 924.0h0M300.1 907.0h0M291.5 901.0h0M276.8 914.4h0M176.7 1040.3h0M168.5 1041.3h0M285.5 910.8h0M199.3 1019.5h0M249.1 921.6h0M192.3 1076.9h0M234.8 997.7h0M182.5 1003.7h0M304.3 908.7h0M194.9 1040.2h0M237.7 961.8h0M234.6 948.1h0M288.5 945.2h0M175.8 1028.8h0M241.9 969.8h0M233.6 979.2h0M263.3 952.2h0M261.1 924.5h0M221.4 1019.2h0M252.5 967.9h0M225.7 969.6h0M261.0 982.6h0M238.6 1009.3h0M212.3 988.6h0M242.2 966.5h0M257.1 958.9h0M328.0 897.6h0M220.1 1017.2h0M255.0 884.4h0M298.0 948.4h0M144.4 1097.6h0M160.4 1102.3h0M186.8 1044.6h0M238.1 932.8h0M334.4 895.8h0M258.1 939.6h0M288.5 943.2h0M232.9 932.0h0M126.0 1105.5h0M281.5 917.5h0M250.4 969.5h0M181.6 1025.6h0M285.2 930.3h0M170.1 1048.4h0M285.8 929.9h0M297.6 946.8h0M207.0 1046.5h0M190.7 1005.2h0M275.0 944.9h0M191.3 1021.6h0M275.6 952.6h0M186.5 1084.9h0M273.6 974.4h0M247.0 928.2h0M222.9 1009.1h0M200.8 1026.4h0M252.4 995.3h0M153.2 1089.0h0M230.4 989.6h0M224.6 992.9h0M268.8 948.2h0M183.7 1053.8h0M307.4 931.2h0M228.7 982.8h0M189.2 1023.3h0M295.2 929.8h0M305.5 875.1h0M234.6 970.0h0M201.0 1012.7h0M244.1 981.5h0M210.6 979.3h0M228.6 1008.0h0M301.6 961.6h0M258.1 978.8h0M249.0 946.2h0M256.4 984.3h0M240.8 935.7h0M274.9 942.4h0M276.3 978.4h0M225.9 991.7h0M247.4 918.4h0M333.5 918.5h0M259.2 986.3h0M234.7 962.4h0M319.9 875.0h0M243.9 940.2h0M191.2 1037.2h0M268.7 941.9h0M200.6 1009.3h0M219.8 964.4h0M255.7 903.1h0M237.5 974.3h0M207.1 977.0h0M217.2 1005.3h0M215.2 984.6h0M287.0 955.8h0M209.1 1025.8h0M216.2 987.7h0M319.5 930.1h0M217.1 974.8h0M299.0 937.1h0M292.6 926.4h0M236.2 975.3h0M175.8 1056.3h0M260.4 949.6h0M268.6 919.8h0M279.6 861.1h0M246.2 993.2h0M288.4 924.1h0M295.3 930.6h0M193.2 1049.2h0M296.8 918.0h0M250.0 982.6h0M216.5 999.5h0M228.3 952.2h0M313.5 962.7h0M280.2 931.6h0M158.2 1058.8h0M246.6 987.2h0M236.9 959.4h0M235.2 965.8h0M219.1 1003.2h0M174.1 1020.1h0M275.6 973.8h0M198.7 1003.7h0M225.9 991.8h0M214.8 1026.0h0M208.8 1011.6h0M271.2 953.3h0M257.8 934.5h0M211.4 1041.2h0M198.5 1024.8h0M221.1 1003.2h0M279.6 899.2h0M248.2 990.0h0M252.2 932.8h0M227.9 1027.2h0M231.2 970.9h0M251.6 963.0h0M155.6 1063.8h0M303.6 937.5h0M206.0 1059.3h0M216.4 1036.3h0M293.4 895.3h0M251.8 954.3h0M245.1 986.3h0M215.7 976.5h0M169.1 1075.2h0M250.4 979.1h0M288.1 962.2h0M200.6 988.4h0M294.3 878.6h0M189.8 1055.1h0M208.5 1000.7h0M262.4 927.5h0M243.5 913.6h0M269.3 1006.2h0M208.1 1004.9h0M194.3 1009.6h0M186.1 1025.7h0M192.2 1023.4h0M175.5 1031.0h0M255.0 972.0h0M211.9 993.6h0M148.7 1097.3h0M336.1 880.7h0M203.7 1010.1h0M183.6 1048.3h0M289.7 966.3h0M287.0 892.3h0M188.6 1005.2h0M173.2 1030.0h0M195.8 1040.4h0M285.6 943.0h0M228.7 941.6h0M205.0 994.0h0M242.2 988.5h0M288.4 931.0h0M177.2 1043.3h0M225.2 992.4h0M177.5 1069.9h0M324.5 873.4h0M311.3 900.0h0M279.0 944.1h0M237.2 1011.6h0M268.1 962.0h0M143.3 1089.0h0M253.8 936.7h0M179.8 1052.7h0M180.3 1015.3h0M209.9 1002.7h0M226.8 1003.7h0M264.9 1019.2h0M269.6 975.3h0M253.3 995.6h0M198.5 1024.0h0M268.7 938.5h0M237.8 936.9h0M287.5 932.7h0M199.8 1047.3h0M220.8 984.7h0M323.7 911.3h0M261.0 959.1h0M234.3 1009.3h0M276.5 924.9h0M262.3 942.2h0M260.7 913.2h0M219.0 967.1h0M246.4 942.0h0M251.0 928.7h0M212.9 1009.2h0M190.2 1041.2h0M248.7 962.9h0M279.6 969.1h0M267.7 950.8h0M261.9 959.7h0M262.3 934.6h0M339.8 892.5h0M253.2 1005.6h0M282.4 935.1h0M316.4 874.7h0M245.5 1009.6h0M253.4 976.8h0M282.4 935.3h0M306.4 950.4h0M255.2 970.1h0M257.1 953.6h0M246.9 995.5h0M186.0 1027.6h0M285.2 923.3h0M231.5 1010.1h0M161.5 1064.6h0M236.7 945.3h0M161.1 1070.0h0M195.6 1012.1h0M244.3 948.5h0M199.8 1023.6h0M283.6 910.1h0M173.7 1040.5h0M253.6 982.0h0M264.6 936.0h0M298.2 901.8h0M278.2 918.5h0M252.5 974.1h0M246.8 951.0h0M241.1 932.6h0M286.3 926.5h0M212.6 972.1h0M263.3 917.4h0M239.5 969.1h0M252.9 941.2h0M231.5 985.3h0M323.5 877.2h0M212.7 1003.6h0M253.4 970.9h0M254.2 957.1h0M266.6 948.9h0M260.7 942.0h0M259.8 940.7h0M280.5 965.3h0M172.3 1067.5h0M244.3 955.0h0M185.3 1023.2h0M252.6 955.4h0M187.7 966.6h0M198.3 991.1h0M241.2 968.1h0M296.0 906.3h0M265.5 914.3h0M255.1 946.4h0M296.3 967.4h0M199.1 1015.3h0M144.3 1084.2h0M223.9 933.8h0M230.9 1023.9h0M290.0 890.2h0M323.7 906.8h0M180.7 1017.1h0M336.3 900.5h0M302.3 914.8h0M275.3 911.6h0M257.8 951.0h0M334.4 868.4h0M247.0 963.2h0M221.6 999.6h0M249.2 964.9h0M178.9 1054.8h0M261.6 953.0h0M239.0 933.9h0M256.4 983.0h0M257.5 994.4h0M193.7 1024.3h0M293.1 884.0h0M195.8 995.2h0M277.2 905.1h0M168.2 1024.3h0M257.9 970.8h0M205.1 1006.6h0M245.7 1028.1h0M213.2 1014.7h0M140.1 1075.0h0M191.1 1065.6h0M246.7 1012.3h0M267.3 977.6h0M174.2 1042.3h0M142.9 1057.5h0M202.7 948.1h0M234.2 937.7h0M214.1 1035.9h0M205.6 1066.3h0M275.8 934.8h0M280.1 908.9h0M271.7 981.8h0M199.5 1029.0h0M246.9 971.6h0M235.0 971.0h0M176.2 1049.2h0M277.0 924.5h0M247.4 933.5h0M221.1 987.1h0M296.9 903.3h0M272.6 890.9h0M276.0 963.2h0M288.8 954.0h0M270.8 929.0h0M183.9 988.7h0M225.7 978.7h0M281.5 906.2h0M207.6 1012.9h0M245.5 938.0h0M258.9 966.1h0M297.8 904.0h0M292.5 915.0h0M277.5 926.3h0M235.3 936.4h0M278.1 909.0h0M263.7 961.4h0M236.5 947.0h0M294.6 965.1h0M262.5 922.7h0M208.1 935.6h0M291.2 912.1h0M232.0 961.7h0M266.1 942.7h0M171.4 1028.5h0M243.2 972.8h0M199.0 998.2h0M197.7 1023.2h0M152.9 1082.4h0M323.8 896.8h0M236.9 969.2h0M252.8 997.1h0M285.2 877.6h0M238.2 962.5h0M263.0 988.2h0M179.2 1012.3h0M251.2 955.7h0M224.2 978.1h0M262.5 928.8h0M250.6 977.7h0M155.6 1070.7h0M195.5 1012.7h0M271.3 914.7h0M259.7 967.4h0M258.9 955.8h0M147.6 1068.2h0M214.1 1001.9h0M228.0 972.2h0M215.1 1019.3h0M257.0 911.2h0M235.7 991.9h0M187.2 1028.1h0M201.8 1019.2h0M249.1 974.3h0M246.4 945.4h0M240.2 938.3h0M328.2 860.2h0M231.2 960.1h0M115.7 1091.4h0M120.4 1098.5h0M128.7 1090.2h0M129.9 1036.9h0M139.4 1028.6h0M167.9 975.2h0M183.3 927.8h0M235.5 889.8h0M241.4 855.4h0M262.7 869.6h0M271.0 861.3h0M280.5 857.8h0M294.8 856.6h0M298.3 854.2h0M329.1 857.8h0M338.6 850.7h0M339.8 868.5h0M352.9 867.3h0M352.9 887.4h0M380.1 879.1h0M304.2 1025.0h0M265.1 1020.3h0M332.7 940.8h0M326.8 937.2h0M318.5 936.1h0" stroke="#000" stroke-width="4.0" stroke-linecap="round" fill="none"/>
<rect x="502" y="841.6" width="285" height="274.6" fill="none" stroke="#555" stroke-width="1.3"/>
<text x="535.0" y="1140.2" class="s" font-size="11.5" text-anchor="middle" stroke="#000" stroke-width="0.3">2</text>
<text x="577.1" y="1140.2" class="s" font-size="11.5" text-anchor="middle" stroke="#000" stroke-width="0.3">3</text>
<text x="619.3" y="1140.2" class="s" font-size="11.5" text-anchor="middle" stroke="#000" stroke-width="0.3">4</text>
<text x="661.5" y="1140.2" class="s" font-size="11.5" text-anchor="middle" stroke="#000" stroke-width="0.3">5</text>
<text x="703.6" y="1140.2" class="s" font-size="11.5" text-anchor="middle" stroke="#000" stroke-width="0.3">6</text>
<text x="745.8" y="1140.2" class="s" font-size="11.5" text-anchor="middle" stroke="#000" stroke-width="0.3">7</text>
<text transform="translate(487.5,1109.7) rotate(-90)" class="s" font-size="11.5" text-anchor="middle">4</text>
<text transform="translate(487.5,1062.3) rotate(-90)" class="s" font-size="11.5" text-anchor="middle">5</text>
<text transform="translate(487.5,1014.9) rotate(-90)" class="s" font-size="11.5" text-anchor="middle">6</text>
<text transform="translate(487.5,967.5) rotate(-90)" class="s" font-size="11.5" text-anchor="middle">7</text>
<text transform="translate(487.5,920.1) rotate(-90)" class="s" font-size="11.5" text-anchor="middle">8</text>
<text transform="translate(487.5,872.7) rotate(-90)" class="s" font-size="11.5" text-anchor="middle">9</text>
<path d="M535.0 1116.2v6.5M577.1 1116.2v6.5M619.3 1116.2v6.5M661.5 1116.2v6.5M703.6 1116.2v6.5M745.8 1116.2v6.5M502 1109.7h-6.5M502 1062.3h-6.5M502 1014.9h-6.5M502 967.5h-6.5M502 920.1h-6.5M502 872.7h-6.5" stroke="#555" stroke-width="1.3" fill="none"/>
<text x="644.5" y="1163.8" class="s" font-size="15" text-anchor="middle" textLength="152" lengthAdjust="spacingAndGlyphs">log2(RACGAP1 TPM)</text>
<text transform="translate(462.5,979) rotate(-90)" class="s" font-size="15" text-anchor="middle" textLength="120.5" lengthAdjust="spacingAndGlyphs">log2(PCNA TPM)</text>
<text x="519.3" y="860.2" class="s" font-size="14">p−value &lt; 0.05</text>
<text x="519.3" y="876.7" class="s" font-size="14">R = 0.65</text>
<path d="M639.2 977.9h0M678.6 917.1h0M667.2 947.2h0M666.6 963.1h0M700.0 945.2h0M581.9 1015.5h0M609.6 1015.0h0M576.4 997.2h0M634.4 999.5h0M676.8 938.2h0M638.5 956.2h0M658.0 936.4h0M548.2 1035.8h0M645.0 971.4h0M596.2 997.5h0M705.8 927.5h0M672.6 927.5h0M675.0 952.6h0M636.8 933.4h0M662.4 896.3h0M664.1 972.1h0M623.1 976.7h0M615.8 1016.6h0M634.0 961.4h0M610.6 985.1h0M611.1 998.8h0M626.0 1007.2h0M604.7 997.9h0M668.1 910.1h0M563.2 991.1h0M670.3 945.0h0M609.6 1009.0h0M613.4 993.2h0M575.0 1037.0h0M632.6 1009.9h0M627.7 1004.4h0M646.7 956.5h0M614.0 985.7h0M643.0 968.7h0M707.5 953.2h0M654.8 996.3h0M612.1 971.4h0M675.1 958.9h0M633.4 952.9h0M661.7 976.7h0M662.4 937.7h0M620.8 982.7h0M547.3 1048.3h0M622.9 996.3h0M660.1 918.2h0M621.4 967.0h0M655.9 969.9h0M676.1 946.5h0M613.5 1027.9h0M685.5 905.3h0M700.1 902.5h0M679.8 956.8h0M683.0 935.2h0M680.5 1009.1h0M723.7 895.8h0M646.5 960.0h0M639.6 969.4h0M662.0 941.4h0M596.1 998.5h0M565.3 1048.3h0M597.4 1020.1h0M653.4 970.3h0M657.2 943.5h0M566.1 1025.7h0M549.5 1052.7h0M624.4 978.3h0M630.5 1009.8h0M637.2 931.1h0M664.6 952.1h0M685.4 966.7h0M648.2 966.5h0M662.4 936.3h0M587.2 999.9h0M583.3 969.1h0M648.4 1001.9h0M664.3 923.5h0M666.6 958.2h0M661.7 941.2h0M668.8 917.6h0M669.8 982.2h0M555.8 1065.3h0M604.4 1008.9h0M656.5 1001.7h0M661.8 1006.0h0M567.3 1023.8h0M683.3 920.0h0M618.6 1001.2h0M628.4 972.4h0M649.8 886.6h0M667.5 949.3h0M571.0 1029.8h0M676.5 954.3h0M642.4 964.3h0M602.7 1007.6h0M626.4 969.5h0M535.1 1042.7h0M608.6 976.5h0M646.3 967.8h0M605.6 1000.9h0M623.9 1007.4h0M632.5 1011.6h0M641.3 981.0h0M677.6 958.4h0M638.3 970.3h0M627.1 986.0h0M659.6 970.8h0M717.0 872.0h0M623.1 979.9h0M658.7 935.5h0M564.1 1050.5h0M689.8 918.8h0M664.1 932.6h0M689.3 931.6h0M636.7 997.6h0M589.7 981.8h0M672.6 969.3h0M667.7 991.4h0M598.1 1040.6h0M569.1 1022.7h0M656.3 975.4h0M631.3 963.5h0M737.0 893.9h0M610.2 965.3h0M614.3 985.6h0M634.2 976.9h0M559.9 1030.3h0M597.0 1022.7h0M700.9 952.4h0M633.3 996.5h0M610.5 990.6h0M578.7 1036.6h0M661.2 963.1h0M664.1 934.9h0M649.1 1023.0h0M620.9 1008.5h0M650.9 990.6h0M653.8 966.7h0M607.0 1032.0h0M662.8 975.4h0M538.4 994.4h0M577.9 1049.4h0M625.0 988.5h0M634.3 975.4h0M583.9 1021.4h0M651.8 995.1h0M678.9 927.3h0M656.4 1008.1h0M647.9 992.7h0M670.4 960.8h0M654.6 980.7h0M584.9 988.3h0M629.8 990.9h0M687.7 901.6h0M585.2 1015.0h0M641.9 941.5h0M620.9 981.0h0M596.6 1012.8h0M591.2 1017.5h0M643.3 952.4h0M651.3 982.1h0M651.1 971.0h0M570.4 1043.3h0M625.7 1033.4h0M652.4 957.2h0M674.9 939.7h0M664.6 988.0h0M670.6 946.3h0M680.5 955.6h0M670.3 999.8h0M600.6 1026.0h0M641.7 961.8h0M605.4 978.3h0M525.7 1047.4h0M559.2 970.6h0M717.5 916.6h0M586.1 1031.3h0M532.4 1084.4h0M611.6 963.5h0M696.3 949.4h0M637.4 987.5h0M654.8 985.6h0M626.6 1004.7h0M635.6 988.4h0M686.8 934.6h0M669.2 944.7h0M635.4 972.2h0M672.8 933.0h0M679.6 960.4h0M629.1 1007.0h0M649.6 971.1h0M649.0 1016.4h0M607.6 979.4h0M682.5 935.6h0M631.5 970.1h0M609.9 1021.1h0M559.4 1042.5h0M579.0 1017.4h0M696.5 960.1h0M585.0 1038.3h0M655.6 970.2h0M622.0 985.1h0M658.6 978.2h0M662.0 937.9h0M602.4 952.2h0M625.6 973.0h0M643.2 977.9h0M643.8 980.6h0M638.2 941.2h0M624.6 979.7h0M663.0 946.5h0M688.7 937.5h0M659.7 975.2h0M604.2 966.6h0M654.3 971.5h0M641.8 971.3h0M656.8 1012.5h0M708.4 880.5h0M629.3 966.4h0M639.0 978.8h0M597.2 1023.1h0M625.7 999.5h0M612.3 1033.2h0M699.3 924.9h0M650.9 988.1h0M612.2 985.6h0M711.6 916.8h0M576.0 976.9h0M671.7 949.4h0M677.5 943.6h0M661.0 950.2h0M627.0 998.6h0M633.3 985.8h0M623.1 980.0h0M668.9 929.9h0M528.2 1035.5h0M615.1 998.5h0M645.2 944.5h0M611.8 1003.1h0M552.7 1069.2h0M627.9 948.4h0M603.4 999.6h0M669.4 965.0h0M691.7 966.3h0M642.1 983.1h0M547.1 1000.6h0M630.2 982.6h0M595.4 955.3h0M665.0 956.6h0M702.7 905.9h0M651.4 965.6h0M715.5 932.6h0M696.1 945.2h0M665.5 962.5h0M598.4 1029.6h0M647.3 996.8h0M575.5 1010.2h0M682.5 916.9h0M648.4 964.6h0M695.5 934.7h0M655.2 983.8h0M553.3 1008.0h0M668.9 930.4h0M679.6 972.6h0M707.1 926.2h0M600.1 1008.6h0M602.5 1033.0h0M647.4 932.6h0M596.1 977.3h0M580.7 1007.3h0M594.0 973.6h0M741.4 915.5h0M615.7 984.1h0M596.9 973.0h0M623.7 991.4h0M643.7 964.3h0M691.7 959.9h0M678.7 932.6h0M672.8 925.2h0M645.0 992.2h0M649.2 985.2h0M613.9 993.4h0M572.4 989.0h0M719.4 931.0h0M622.5 1004.8h0M681.1 948.4h0M629.1 956.2h0M639.8 1008.7h0M636.8 980.3h0M578.3 987.5h0M640.2 975.1h0M657.3 969.0h0M674.0 932.2h0M661.4 986.9h0M681.0 900.6h0M653.9 954.4h0M642.7 981.5h0M549.8 1034.9h0M618.1 991.4h0M700.8 939.8h0M647.3 997.5h0M672.5 958.4h0M633.5 1018.2h0M611.4 964.2h0M719.1 946.3h0M656.0 980.9h0M698.5 953.2h0M662.5 944.1h0M629.4 987.3h0M536.2 1014.8h0M646.0 981.8h0M568.6 1021.4h0M537.3 1047.6h0M688.9 949.8h0M669.6 930.5h0M666.6 930.1h0M644.4 943.4h0M641.2 1005.8h0M658.3 955.4h0M648.3 995.1h0M645.2 997.9h0M670.2 995.3h0M525.8 1075.2h0M675.8 937.9h0M612.9 963.3h0M674.3 913.6h0M686.1 964.4h0M602.6 1015.3h0M671.7 948.8h0M671.1 951.2h0M608.1 992.8h0M616.1 1031.2h0M645.0 976.6h0M534.3 1035.3h0M619.2 984.2h0M647.2 973.5h0M618.9 1006.5h0M563.7 1030.3h0M621.4 952.9h0M696.6 925.8h0M689.4 918.4h0M634.3 942.8h0M601.4 1026.6h0M639.1 961.5h0M640.3 965.4h0M607.4 968.7h0M623.8 992.5h0M663.0 965.1h0M674.6 967.0h0M523.1 1052.3h0M676.2 957.6h0M644.8 976.4h0M682.7 939.6h0M638.8 985.6h0M656.1 986.0h0M701.0 943.7h0M699.1 926.4h0M646.8 944.0h0M552.5 1044.1h0M651.3 955.7h0M590.5 1011.9h0M677.1 972.1h0M647.7 976.9h0M633.3 939.8h0M676.8 984.6h0M646.9 997.8h0M667.3 959.3h0M670.7 1025.0h0M651.6 979.0h0M669.1 935.0h0M669.1 944.7h0M574.2 1013.5h0M626.5 993.4h0M633.8 984.5h0M621.5 928.3h0M563.7 1023.8h0M612.5 965.5h0M652.2 996.3h0M646.8 966.5h0M696.5 929.9h0M610.6 993.4h0M618.9 1039.5h0M612.2 1005.1h0M624.5 954.9h0M610.7 984.4h0M550.1 1055.7h0M652.5 948.6h0M676.5 993.4h0M681.4 935.3h0M587.6 1004.9h0M630.3 997.0h0M708.6 952.3h0M634.4 1017.6h0M652.6 973.0h0M632.3 943.4h0M677.1 932.0h0M675.7 943.1h0M726.4 896.8h0M658.2 977.4h0M656.3 953.8h0M581.6 1081.8h0M620.0 1001.5h0M606.0 1010.9h0M623.8 989.5h0M576.9 1024.0h0M685.0 933.0h0M589.2 1025.7h0M649.7 949.7h0M579.3 1024.2h0M652.5 949.0h0M701.4 932.4h0M600.3 985.4h0M653.2 957.8h0M636.3 993.1h0M650.1 966.1h0M655.2 995.8h0M609.2 997.3h0M630.9 975.0h0M611.4 1003.1h0M600.1 1008.3h0M580.8 996.0h0M675.6 926.1h0M604.3 970.2h0M664.4 973.3h0M660.3 972.9h0M591.8 992.7h0M678.7 930.9h0M598.4 1046.4h0M663.0 917.5h0M694.0 914.5h0M605.3 1028.7h0M595.1 982.2h0M594.5 1017.6h0M725.3 921.3h0M621.6 1011.5h0M579.1 1037.0h0M669.9 965.0h0M631.0 981.1h0M637.8 1003.1h0M591.7 1011.5h0M532.9 1066.1h0M604.3 1013.1h0M589.2 1031.4h0M561.7 1044.5h0M587.1 977.4h0M593.7 1044.5h0M669.2 986.1h0M665.5 960.9h0M658.4 975.3h0M613.5 1018.4h0M578.8 1009.8h0M650.2 995.9h0M656.3 965.8h0M676.5 930.7h0M637.7 965.9h0M632.8 988.3h0M650.7 969.5h0M594.7 1004.2h0M600.6 990.6h0M663.1 982.3h0M578.8 990.7h0M635.2 963.5h0M668.4 916.0h0M648.0 952.7h0M655.3 943.6h0M586.2 1079.6h0M633.3 991.4h0M626.4 944.8h0M661.9 953.3h0M655.1 976.7h0M640.7 961.0h0M710.6 926.5h0M660.0 954.3h0M626.2 1002.4h0M610.7 985.3h0M638.3 944.2h0M612.9 990.2h0M701.1 925.1h0M661.4 977.8h0M625.6 976.0h0M609.1 1007.2h0M589.2 1042.0h0M627.4 994.9h0M689.3 948.4h0M671.8 942.7h0M638.0 957.1h0M645.7 977.5h0M551.7 1045.7h0M668.9 942.9h0M630.3 1003.8h0M691.9 948.9h0M632.4 987.6h0M617.8 996.0h0M648.7 984.4h0M610.7 960.9h0M690.9 920.8h0M651.6 972.9h0M654.7 999.0h0M653.5 979.1h0M624.6 974.4h0M659.1 1007.4h0M647.7 916.3h0M706.8 932.9h0M643.6 975.7h0M655.3 952.3h0M620.2 1022.4h0M624.4 986.2h0M627.8 985.5h0M690.2 926.6h0M645.2 995.9h0M678.6 936.4h0M630.8 956.6h0M626.1 979.9h0M551.5 1049.7h0M673.7 972.7h0M719.8 961.8h0M632.9 994.5h0M696.5 926.9h0M674.8 919.5h0M611.3 973.4h0M671.6 928.4h0M601.3 1014.0h0M629.9 993.4h0M688.7 977.7h0M649.2 985.5h0M588.3 1037.6h0M696.0 944.0h0M591.8 994.9h0M636.6 981.8h0M627.8 992.6h0M636.6 963.8h0M603.6 968.0h0M566.2 1003.3h0M712.5 965.0h0M599.1 965.9h0M602.0 1012.7h0M527.7 1086.0h0M646.5 980.3h0M691.3 919.2h0M695.4 998.1h0M746.4 874.5h0M699.2 931.2h0M658.6 951.4h0M644.4 1004.3h0M696.9 950.0h0M642.1 1000.6h0M650.9 943.0h0M598.8 1022.3h0M647.2 963.4h0M717.1 938.5h0M640.8 1013.3h0M658.3 944.4h0M529.7 1025.8h0M693.6 906.2h0M657.3 977.2h0M695.9 937.3h0M652.2 952.8h0M603.4 994.4h0M578.8 1013.9h0M661.5 909.8h0M641.5 985.0h0M596.6 986.7h0M639.6 988.9h0M612.2 964.0h0M668.4 963.0h0M622.3 1010.8h0M583.1 998.9h0M637.1 977.5h0M614.2 1002.9h0M695.4 943.6h0M618.2 1005.4h0M577.1 1008.2h0M637.0 971.3h0M627.2 948.2h0M649.2 985.5h0M647.0 939.8h0M589.3 999.0h0M635.8 1011.1h0M633.1 947.7h0M580.7 1056.9h0M610.4 985.5h0M645.5 1014.4h0M561.3 1024.4h0M585.3 1022.3h0M614.5 1000.0h0M632.2 1024.6h0M656.1 982.4h0M571.3 996.9h0M647.8 956.8h0M659.9 963.9h0M694.1 941.7h0M615.6 1007.1h0M591.8 976.3h0M562.3 1029.7h0M657.0 939.5h0M684.4 978.1h0M602.7 1035.6h0M653.1 935.7h0M668.9 975.0h0M672.7 957.0h0M617.7 979.6h0M661.7 939.3h0M635.4 963.8h0M593.1 994.5h0M648.6 932.4h0M652.6 960.3h0M593.4 986.2h0M656.2 962.6h0M714.2 920.1h0M568.5 981.0h0M666.2 962.3h0M674.2 1008.0h0M642.1 971.4h0M652.4 961.9h0M627.8 941.9h0M690.7 948.4h0M595.3 1031.3h0M633.4 976.5h0M547.0 997.0h0M651.5 974.7h0M653.2 937.3h0M559.1 1019.2h0M597.2 989.9h0M656.6 982.6h0M615.0 990.8h0M580.3 1034.5h0M518.5 1058.7h0M651.0 983.8h0M710.2 902.6h0M615.4 1004.6h0M654.0 971.6h0M653.3 1017.1h0M633.0 1003.2h0M641.2 920.6h0M641.8 984.0h0M595.4 1043.4h0M730.7 914.7h0M739.1 914.0h0M649.2 981.8h0M704.3 939.4h0M597.8 1016.4h0M626.2 965.3h0M679.9 976.5h0M582.0 1011.8h0M574.9 1002.6h0M650.5 989.8h0M542.6 992.8h0M702.2 933.0h0M665.9 961.3h0M647.3 984.4h0M663.4 943.1h0M594.8 1043.7h0M593.4 995.8h0M670.0 906.5h0M674.0 945.7h0M644.4 954.7h0M636.7 999.3h0M613.4 976.9h0M691.3 958.3h0M568.2 1035.2h0M598.3 1004.6h0M613.5 951.1h0M566.3 1039.6h0M575.9 1063.5h0M590.1 1007.0h0M677.2 932.6h0M706.8 914.8h0M652.5 961.7h0M562.1 997.9h0M610.5 975.5h0M633.0 961.0h0M626.7 993.7h0M621.8 1020.3h0M658.8 925.6h0M546.6 1058.4h0M612.0 965.0h0M647.6 943.0h0M666.4 982.8h0M650.4 982.0h0M640.6 964.7h0M633.4 957.2h0M608.3 1017.8h0M643.4 978.7h0M630.6 1004.1h0M606.9 1024.6h0M685.4 941.4h0M684.8 954.6h0M623.1 1031.9h0M663.7 949.4h0M685.5 952.4h0M650.8 976.4h0M645.6 1001.0h0M659.4 945.4h0M562.6 1021.2h0M573.2 1014.1h0M660.6 962.4h0M651.4 959.2h0M692.2 903.5h0M618.0 986.1h0M682.2 940.8h0M680.8 957.2h0M714.8 908.9h0M603.5 1005.4h0M624.9 1001.6h0M651.6 941.5h0M651.3 971.0h0M594.3 1025.9h0M614.8 1008.2h0M579.8 1028.1h0M727.6 939.2h0M638.8 943.3h0M641.1 961.0h0M612.7 1024.3h0M642.4 946.9h0M670.9 962.1h0M626.2 978.6h0M640.4 983.3h0M722.5 909.0h0M675.9 941.8h0M650.3 950.9h0M621.9 968.9h0M640.6 1032.4h0M606.5 1009.8h0M651.5 968.5h0M609.8 1001.4h0M607.0 1031.5h0M622.1 997.2h0M590.2 1015.0h0M648.1 1017.2h0M734.5 931.7h0M611.0 980.8h0M561.3 1048.1h0M675.9 957.0h0M635.1 981.0h0M713.6 915.8h0M653.8 951.7h0M674.1 930.4h0M602.3 1000.5h0M563.0 1025.5h0M630.1 986.9h0M663.7 956.2h0M597.3 1008.6h0M562.3 1013.2h0M609.6 981.7h0M616.6 1023.4h0M622.0 1039.7h0M635.9 969.7h0M726.9 928.7h0M638.5 1012.3h0M613.3 973.6h0M585.2 980.6h0M667.2 983.6h0M561.3 1051.9h0M691.1 956.9h0M636.2 997.3h0M564.8 1031.2h0M644.0 999.4h0M630.9 983.7h0M682.7 956.8h0M564.9 1005.2h0M644.5 976.3h0M635.4 960.4h0M671.1 922.3h0M582.0 1005.2h0M599.0 990.7h0M710.1 940.0h0M657.5 964.9h0M565.6 977.1h0M648.9 940.3h0M598.4 1004.8h0M603.1 1011.4h0M577.8 1023.3h0M673.3 929.9h0M610.3 1043.6h0M644.0 968.9h0M639.5 1007.2h0M563.5 997.9h0M600.4 1036.5h0M665.2 939.5h0M561.1 1037.9h0M645.9 972.9h0M630.8 946.4h0M660.7 963.2h0M662.2 946.7h0M667.4 949.7h0M638.8 1004.0h0M646.4 973.7h0M602.5 980.9h0M610.3 989.6h0M670.4 951.7h0M607.7 1015.2h0M675.1 918.1h0M674.2 966.0h0M598.3 965.1h0M657.9 960.3h0M597.7 990.0h0M649.8 1001.8h0M599.4 1002.1h0M649.7 991.4h0M643.5 972.4h0M587.0 985.9h0M713.7 918.1h0M673.2 948.1h0M560.5 1009.1h0M650.4 996.1h0M616.6 990.0h0M713.9 939.3h0M634.3 955.4h0M652.4 983.5h0M628.6 947.5h0M661.3 915.5h0M611.8 1042.8h0M594.5 1010.6h0M613.7 1029.6h0M617.3 963.5h0M661.3 980.7h0M641.2 960.7h0M616.4 984.8h0M618.2 1011.6h0M594.0 1041.5h0M642.8 948.5h0M540.7 1057.2h0M627.1 978.4h0M682.2 914.5h0M620.5 989.6h0M606.5 1005.3h0M639.8 998.7h0M593.4 997.1h0M601.6 1020.3h0M663.7 997.3h0M607.6 1011.0h0M711.1 941.0h0M658.3 999.7h0M633.0 986.0h0M608.4 979.1h0M625.7 972.6h0M529.7 1005.7h0M647.4 945.0h0M671.4 948.2h0M659.6 1008.0h0M617.4 986.0h0M661.2 933.4h0M662.1 966.4h0M631.7 948.7h0M651.3 988.4h0M677.0 944.0h0M655.4 946.0h0M619.9 950.6h0M638.6 977.3h0M644.0 928.1h0M561.6 1037.1h0M643.2 1013.7h0M632.0 983.3h0M534.7 1016.2h0M556.5 1040.3h0M705.5 893.0h0M642.3 978.4h0M688.6 898.8h0M620.3 1039.1h0M695.7 885.0h0M659.7 1008.5h0M605.6 1000.4h0M649.0 996.4h0M697.1 929.1h0M727.8 920.2h0M658.0 970.0h0M617.3 976.6h0M597.4 982.6h0M664.5 966.2h0M679.7 919.9h0M644.3 1012.3h0M633.9 1004.2h0M669.7 986.5h0M657.4 952.6h0M654.0 945.1h0M566.3 1036.0h0M623.6 1001.6h0M709.9 955.3h0M638.7 961.0h0M730.1 887.7h0M653.9 978.9h0M625.9 989.5h0M650.1 978.1h0M662.1 961.1h0M605.2 989.0h0M648.7 1020.7h0M619.7 1002.0h0M693.9 920.1h0M618.0 1011.8h0M644.1 943.7h0M567.9 992.6h0M574.4 1042.4h0M635.3 997.1h0M595.9 975.6h0M625.5 1023.3h0M648.3 994.1h0M660.5 999.0h0M572.3 1021.4h0M630.7 973.8h0M664.3 947.7h0M607.2 991.6h0M577.3 1050.9h0M606.5 971.5h0M700.2 935.7h0M640.3 984.6h0M697.7 896.5h0M624.9 983.2h0M684.0 937.4h0M570.6 1004.0h0M627.5 937.8h0M642.8 974.1h0M705.2 915.1h0M657.1 1017.8h0M681.4 969.9h0M619.6 942.3h0M619.8 943.7h0M687.2 947.0h0M692.9 960.2h0M685.5 976.2h0M684.5 973.0h0M614.8 1006.5h0M720.2 960.7h0M646.1 974.2h0M687.2 947.5h0M667.8 985.4h0M556.0 1063.6h0M547.0 1066.8h0M563.3 1039.9h0M637.5 982.8h0M681.5 934.4h0M628.0 1024.6h0M671.3 962.6h0M580.8 1015.9h0M610.1 989.2h0M596.8 986.0h0M640.9 984.7h0M584.8 985.3h0M634.9 926.6h0M661.9 950.6h0M617.7 955.3h0M597.0 982.7h0M618.1 980.3h0M581.4 1020.6h0M590.2 1003.6h0M669.7 907.8h0M652.4 965.1h0M570.8 1040.5h0M626.3 996.0h0M656.6 945.9h0M669.6 969.4h0M663.7 937.9h0M676.4 933.3h0M637.9 971.1h0M639.0 937.5h0M628.0 1013.1h0M680.8 959.6h0M671.8 957.1h0M706.4 920.4h0M681.7 977.4h0M601.1 1014.9h0M569.2 993.8h0M573.2 1030.1h0M597.0 983.6h0M662.8 965.2h0M572.7 1038.9h0M542.6 1030.5h0M630.9 951.8h0M669.8 956.3h0M668.6 986.2h0M701.9 951.2h0M637.6 987.8h0M612.4 1000.9h0M624.5 1008.2h0M575.0 1004.9h0M606.7 1023.3h0M687.0 921.3h0M717.4 947.2h0M686.4 966.7h0M649.9 943.6h0M626.9 968.8h0M647.9 978.6h0M548.0 1053.1h0M660.2 967.6h0M667.9 956.0h0M631.9 976.1h0M639.2 952.8h0M556.9 1052.2h0M667.9 956.9h0M667.9 955.6h0M610.2 970.0h0M651.3 930.1h0M700.9 934.6h0M596.7 1046.2h0M512.6 1105.7h0M524.5 1098.6h0M532.7 1083.3h0M537.5 1090.4h0M556.4 1083.3h0M517.4 1030.1h0M525.6 1037.2h0M526.8 1054.9h0M542.2 992.3h0M571.7 940.3h0M598.9 917.8h0M648.5 871.7h0M658.0 876.5h0M694.6 850.5h0M725.4 859.9h0M749.0 861.1h0M776.2 871.7h0M749.0 950.9h0M730.1 976.9h0M734.8 969.8h0M710.0 997.0h0M704.1 991.1h0M645.0 1031.3h0M634.4 1034.8h0M620.2 1039.5h0M595.4 1051.4h0" stroke="#000" stroke-width="4.0" stroke-linecap="round" fill="none"/>
<rect x="902.3" y="842.9" width="276.60000000000014" height="266.80000000000007" fill="none" stroke="#555" stroke-width="1.3"/>
<text x="934.2" y="1133.7" class="s" font-size="11.5" text-anchor="middle" stroke="#000" stroke-width="0.3">2</text>
<text x="975.2" y="1133.7" class="s" font-size="11.5" text-anchor="middle" stroke="#000" stroke-width="0.3">3</text>
<text x="1016.1" y="1133.7" class="s" font-size="11.5" text-anchor="middle" stroke="#000" stroke-width="0.3">4</text>
<text x="1057.1" y="1133.7" class="s" font-size="11.5" text-anchor="middle" stroke="#000" stroke-width="0.3">5</text>
<text x="1098.0" y="1133.7" class="s" font-size="11.5" text-anchor="middle" stroke="#000" stroke-width="0.3">6</text>
<text x="1139.0" y="1133.7" class="s" font-size="11.5" text-anchor="middle" stroke="#000" stroke-width="0.3">7</text>
<text transform="translate(887.8,1105.0) rotate(-90)" class="s" font-size="11.5" text-anchor="middle">1</text>
<text transform="translate(887.8,1066.6) rotate(-90)" class="s" font-size="11.5" text-anchor="middle">2</text>
<text transform="translate(887.8,1028.1) rotate(-90)" class="s" font-size="11.5" text-anchor="middle">3</text>
<text transform="translate(887.8,989.7) rotate(-90)" class="s" font-size="11.5" text-anchor="middle">4</text>
<text transform="translate(887.8,951.3) rotate(-90)" class="s" font-size="11.5" text-anchor="middle">5</text>
<text transform="translate(887.8,912.9) rotate(-90)" class="s" font-size="11.5" text-anchor="middle">6</text>
<text transform="translate(887.8,874.4) rotate(-90)" class="s" font-size="11.5" text-anchor="middle">7</text>
<path d="M934.2 1109.7v6.5M975.2 1109.7v6.5M1016.1 1109.7v6.5M1057.1 1109.7v6.5M1098.0 1109.7v6.5M1139.0 1109.7v6.5M902.3 1105.0h-6.5M902.3 1066.6h-6.5M902.3 1028.1h-6.5M902.3 989.7h-6.5M902.3 951.3h-6.5M902.3 912.9h-6.5M902.3 874.4h-6.5" stroke="#555" stroke-width="1.3" fill="none"/>
<text x="1041" y="1155.3" class="s" font-size="15" text-anchor="middle" textLength="147.7" lengthAdjust="spacingAndGlyphs">log2(RACGAP1 TPM)</text>
<text transform="translate(863.5,976.5) rotate(-90)" class="s" font-size="15" text-anchor="middle" textLength="119.4" lengthAdjust="spacingAndGlyphs">log2(MCM2 TPM)</text>
<text x="919.3" y="861.7" class="s" font-size="14">p−value &lt; 0.05</text>
<text x="919.3" y="878.2" class="s" font-size="14">R = 0.63</text>
<path d="M1102.0 948.1h0M1070.5 933.5h0M1038.3 947.7h0M1083.6 954.5h0M1049.7 959.9h0M1102.0 917.5h0M1036.9 937.9h0M1011.8 1003.5h0M1056.8 982.4h0M1051.4 949.1h0M1019.2 984.0h0M1024.3 947.2h0M1061.8 952.5h0M1061.3 946.6h0M1012.8 1000.4h0M1018.7 973.1h0M951.9 1013.5h0M1096.7 937.4h0M1025.3 1000.2h0M1084.3 921.0h0M1050.9 966.2h0M1106.3 925.3h0M1091.5 950.4h0M1047.3 942.0h0M1089.5 952.3h0M991.6 1013.3h0M1081.4 941.3h0M967.0 1029.8h0M1048.2 1008.8h0M1074.4 935.7h0M1043.9 988.6h0M1018.7 973.6h0M998.3 1005.3h0M1019.8 981.0h0M1073.9 961.5h0M1068.1 971.9h0M1023.6 973.1h0M977.9 1011.2h0M1060.2 932.9h0M968.4 1013.0h0M1011.1 1000.3h0M1001.6 969.4h0M1062.7 906.1h0M1044.3 948.6h0M1052.5 962.9h0M1045.6 983.4h0M1004.3 989.9h0M1055.2 987.6h0M1087.0 921.4h0M1034.0 978.0h0M1058.7 967.3h0M1029.9 967.0h0M1073.1 972.8h0M1059.9 991.2h0M1067.5 959.2h0M1048.4 935.7h0M1095.2 951.2h0M1019.0 960.7h0M1020.2 1017.2h0M1008.3 989.6h0M1057.9 944.9h0M1006.9 951.8h0M1005.8 1027.7h0M1062.1 954.6h0M1077.9 962.9h0M1056.6 950.1h0M911.2 1088.3h0M991.5 1001.4h0M985.9 1024.6h0M979.7 1026.0h0M1016.8 972.0h0M1101.7 898.0h0M1021.5 973.3h0M1001.6 991.8h0M1061.1 963.7h0M1038.3 934.3h0M1040.1 1007.4h0M1003.9 1034.3h0M1035.7 985.6h0M1051.5 950.3h0M947.0 1024.1h0M961.0 1019.4h0M1075.1 929.6h0M1066.3 947.3h0M1012.2 994.6h0M988.4 1028.8h0M1027.1 964.8h0M980.3 1033.7h0M1020.0 969.7h0M1095.6 917.5h0M1040.5 979.2h0M1078.1 953.1h0M1025.4 986.9h0M1049.2 946.6h0M1086.0 935.6h0M973.7 1033.8h0M1019.6 973.2h0M1028.5 941.7h0M1046.0 957.0h0M1092.1 932.6h0M1060.6 962.6h0M966.2 1046.2h0M1023.2 976.6h0M994.3 999.6h0M993.1 1008.6h0M1109.2 900.1h0M986.4 1013.1h0M1044.3 967.3h0M1002.5 989.4h0M1067.0 939.1h0M1048.6 999.0h0M1040.4 960.8h0M1032.2 944.8h0M1077.0 967.7h0M992.5 994.4h0M1002.0 1004.6h0M983.9 1031.2h0M1084.2 934.4h0M1022.1 979.3h0M987.6 1050.7h0M1016.3 993.2h0M1126.4 897.5h0M1030.8 984.3h0M1066.6 966.1h0M1052.6 966.6h0M1035.2 978.6h0M1003.6 976.8h0M1020.2 996.1h0M1019.3 1003.3h0M933.2 1047.5h0M1129.7 891.7h0M1069.3 934.1h0M1040.0 948.8h0M1026.3 988.2h0M999.1 1027.3h0M1070.2 962.9h0M1027.1 974.6h0M1053.1 994.0h0M971.3 1028.0h0M1049.5 948.4h0M1108.3 939.7h0M1022.3 935.3h0M1064.8 935.7h0M1037.0 993.5h0M1075.8 968.4h0M1074.5 960.4h0M1038.0 952.6h0M1009.8 976.9h0M1046.2 974.3h0M1037.3 964.3h0M1007.1 972.4h0M1052.3 947.9h0M1051.4 993.0h0M994.5 1023.3h0M1030.6 991.0h0M1141.7 941.3h0M1065.4 933.0h0M1039.3 980.1h0M1126.8 927.8h0M1014.6 999.7h0M920.7 1061.3h0M947.2 1031.7h0M965.2 1013.1h0M1045.2 937.2h0M1071.2 967.0h0M935.0 1020.7h0M1076.3 892.6h0M978.7 1025.9h0M1045.1 970.7h0M1052.6 946.0h0M1051.4 933.4h0M1036.0 974.2h0M1042.0 981.9h0M982.8 967.5h0M1045.8 973.1h0M1071.3 1004.8h0M1069.3 937.3h0M1130.5 890.9h0M1075.0 909.2h0M1062.1 915.6h0M1096.1 867.5h0M1044.5 975.0h0M975.9 1037.9h0M931.7 1088.0h0M1082.1 904.8h0M1056.4 965.4h0M1066.5 985.4h0M1020.3 1021.2h0M1048.3 958.4h0M1104.0 936.6h0M1047.9 954.7h0M984.0 1027.9h0M1015.7 996.5h0M1086.0 928.5h0M985.1 1013.1h0M915.9 1059.7h0M929.2 1062.4h0M973.6 1025.4h0M1064.7 943.5h0M1039.0 973.5h0M1000.6 991.0h0M976.1 1007.6h0M1030.5 982.5h0M1028.3 975.5h0M1009.6 984.4h0M1024.4 961.3h0M1000.3 990.0h0M1101.2 924.1h0M925.8 1053.1h0M1040.2 972.5h0M988.6 998.1h0M1061.4 968.7h0M1024.8 1013.6h0M1049.0 952.0h0M1055.0 998.2h0M1043.2 967.4h0M1071.7 914.8h0M971.1 1006.4h0M1070.3 969.3h0M1025.6 959.3h0M1049.6 955.4h0M1092.2 952.3h0M1076.5 946.2h0M1107.7 936.7h0M931.2 1064.5h0M991.4 996.2h0M1070.7 980.2h0M983.3 992.8h0M1027.3 931.5h0M1097.7 934.7h0M1067.5 970.0h0M991.1 1012.0h0M1052.2 932.9h0M1059.2 965.1h0M1038.2 957.1h0M1031.1 923.4h0M1040.9 980.6h0M966.1 1023.9h0M1040.3 977.7h0M990.9 1011.3h0M1050.0 957.4h0M1051.3 974.7h0M994.3 990.8h0M1058.0 951.3h0M1048.7 936.1h0M1033.8 955.1h0M1062.1 944.5h0M1021.2 945.5h0M1022.6 980.3h0M1038.6 953.3h0M1033.0 983.4h0M1077.2 913.2h0M925.5 1077.9h0M1021.3 956.2h0M942.2 1062.4h0M1011.3 979.7h0M1044.2 985.0h0M1034.7 984.4h0M1069.8 967.1h0M1046.2 952.1h0M982.0 994.6h0M1090.6 925.9h0M1090.7 938.5h0M1037.7 952.0h0M961.4 996.2h0M1112.6 928.7h0M935.8 1067.7h0M1044.8 949.5h0M1030.6 926.9h0M1042.2 964.5h0M978.1 1020.0h0M1013.8 1001.8h0M1072.1 959.8h0M1009.5 1004.3h0M967.9 1042.6h0M1031.3 946.9h0M1036.0 939.5h0M1025.5 970.3h0M995.0 995.3h0M1052.3 939.0h0M1025.9 971.6h0M977.0 1011.3h0M1040.6 950.5h0M1030.3 970.0h0M1037.9 937.5h0M952.5 967.7h0M995.9 996.2h0M1049.3 951.7h0M1066.6 964.6h0M1045.5 969.3h0M1038.8 962.0h0M1059.6 942.5h0M1069.1 949.6h0M1097.7 953.5h0M1050.8 948.4h0M1007.1 997.1h0M1051.5 947.6h0M943.1 1048.7h0M1036.5 967.9h0M1013.6 981.6h0M1033.4 1011.6h0M1052.7 929.4h0M1036.8 984.1h0M967.4 1014.4h0M1018.3 964.5h0M997.7 1006.2h0M1034.1 995.1h0M1048.4 945.9h0M990.4 1021.1h0M1062.0 951.6h0M1082.7 927.9h0M1022.8 983.5h0M1061.9 986.1h0M966.6 1037.2h0M1010.3 972.7h0M1070.5 962.1h0M953.5 1016.5h0M1012.0 1014.0h0M993.9 1018.6h0M1077.2 978.1h0M1077.1 961.4h0M1006.5 955.3h0M1040.0 951.9h0M914.2 1077.1h0M1066.4 961.4h0M1048.3 935.2h0M1083.7 940.6h0M924.6 1083.1h0M1048.2 927.0h0M1019.1 1004.7h0M914.2 1067.9h0M1003.3 977.3h0M1031.8 949.3h0M1064.7 908.4h0M1042.7 945.4h0M1011.5 998.2h0M1051.7 933.6h0M1030.4 964.2h0M1005.3 1015.0h0M988.1 1027.7h0M1040.9 981.5h0M1041.2 1009.8h0M1102.3 918.6h0M1014.5 969.3h0M1093.8 922.6h0M1048.3 977.6h0M1078.3 943.3h0M993.5 975.3h0M995.0 991.2h0M1021.3 979.6h0M1068.1 964.0h0M1042.0 965.0h0M1063.0 924.7h0M1047.2 960.5h0M1073.0 897.3h0M1042.9 912.6h0M1011.3 969.3h0M1054.4 991.0h0M1039.0 971.4h0M1099.2 903.0h0M1028.3 984.2h0M1039.7 980.1h0M1021.5 976.1h0M1077.7 886.3h0M1067.5 958.9h0M1059.4 994.9h0M977.9 1008.9h0M965.3 1017.9h0M1045.4 946.6h0M1061.9 950.8h0M1089.4 928.6h0M952.4 1048.1h0M1027.8 952.6h0M957.3 1034.3h0M991.1 992.0h0M1025.5 989.9h0M1070.7 917.8h0M1011.3 979.4h0M1002.4 1001.8h0M1020.9 976.1h0M1081.4 964.0h0M1123.4 928.3h0M964.1 1010.1h0M1023.1 963.0h0M1015.8 962.9h0M1078.1 927.8h0M1051.6 964.6h0M1091.6 932.5h0M988.8 965.3h0M1036.3 970.2h0M1014.6 1014.1h0M984.8 1009.2h0M1028.4 981.6h0M980.8 1015.0h0M1114.5 920.9h0M1050.9 981.3h0M988.6 996.9h0M1007.6 992.1h0M1098.6 918.6h0M1013.6 998.0h0M1060.9 974.7h0M1056.9 965.4h0M1075.4 910.4h0M1058.8 993.5h0M1026.0 951.9h0M1008.3 989.5h0M953.3 1014.2h0M1033.5 978.9h0M1040.8 958.2h0M1019.0 971.7h0M1029.1 928.6h0M979.4 1017.6h0M1114.5 917.2h0M1012.5 1001.0h0M987.7 1001.2h0M1008.0 1004.7h0M1027.9 976.7h0M1062.7 945.4h0M923.0 1054.6h0M1054.5 977.5h0M1007.2 1008.5h0M1027.4 950.0h0M1072.7 958.5h0M1063.6 949.1h0M1004.3 998.4h0M1031.4 1005.4h0M1103.7 931.0h0M1085.2 942.4h0M1067.3 913.3h0M1036.2 1009.4h0M1070.8 959.7h0M1050.3 947.8h0M1010.4 998.1h0M989.5 1051.3h0M1054.9 945.0h0M1049.8 957.6h0M1079.7 961.0h0M1013.5 1005.0h0M1086.8 953.4h0M1019.0 975.7h0M1081.5 946.0h0M1055.7 971.5h0M1009.2 980.9h0M992.0 981.8h0M1030.3 985.7h0M1023.7 944.2h0M1070.0 948.6h0M1003.8 980.5h0M967.3 1017.5h0M1035.1 959.8h0M1105.6 923.0h0M1095.3 981.7h0M1007.1 1010.3h0M1023.2 959.2h0M1047.5 985.0h0M1005.1 989.9h0M1024.5 1009.7h0M1023.1 990.7h0M987.2 976.4h0M1007.2 985.3h0M1013.4 1003.1h0M1044.4 978.6h0M981.0 1050.1h0M1039.7 958.5h0M990.3 1011.3h0M998.3 983.6h0M983.7 995.7h0M1081.4 963.5h0M1084.7 967.0h0M1065.4 961.7h0M1025.0 977.3h0M1038.3 940.7h0M1046.4 984.9h0M1052.1 952.0h0M1057.4 980.2h0M1091.2 950.2h0M1010.1 978.1h0M1060.4 967.8h0M1019.2 995.0h0M1028.6 952.6h0M1089.9 942.7h0M1042.8 973.7h0M1100.5 954.8h0M1033.8 920.0h0M1044.4 927.5h0M986.3 999.5h0M943.5 1002.5h0M1016.4 972.4h0M1038.1 976.6h0M1019.8 968.9h0M973.2 991.8h0M1059.6 979.5h0M1038.4 942.7h0M1036.2 944.9h0M999.7 965.5h0M1095.6 923.7h0M1089.4 914.1h0M1047.0 999.3h0M1030.4 974.0h0M1045.0 942.3h0M1097.3 920.8h0M1137.7 902.4h0M1036.2 995.2h0M1016.0 984.9h0M951.6 1076.3h0M1137.3 913.3h0M984.5 1003.0h0M1067.5 961.0h0M1053.9 948.1h0M1084.2 939.9h0M995.8 980.8h0M960.5 1039.1h0M1041.2 999.5h0M1050.7 986.6h0M1077.5 960.0h0M957.5 1034.4h0M1014.7 980.2h0M1023.6 991.8h0M972.9 1017.8h0M1028.3 987.1h0M1064.8 937.7h0M1034.3 997.6h0M969.0 999.1h0M1048.4 955.0h0M1067.0 958.0h0M1055.3 979.3h0M1064.5 939.3h0M959.0 1044.7h0M1052.6 944.2h0M1057.6 916.1h0M1018.4 974.5h0M1033.3 964.0h0M1000.0 982.8h0M1080.7 951.6h0M1022.0 934.6h0M992.0 1005.5h0M1042.6 948.1h0M1039.9 957.0h0M1060.1 964.0h0M997.1 966.9h0M1004.4 980.8h0M1049.8 971.1h0M1117.0 930.5h0M1052.8 995.7h0M972.6 1039.6h0M1042.0 944.0h0M999.7 974.4h0M949.8 1057.0h0M1004.1 974.9h0M1009.1 962.8h0M1051.1 939.4h0M1083.8 909.6h0M1077.2 979.8h0M1065.2 942.8h0M1015.8 997.1h0M1041.5 947.1h0M1034.1 981.4h0M1087.0 931.9h0M1005.6 968.0h0M1010.3 1015.3h0M1090.2 946.0h0M1056.8 967.2h0M1015.0 979.0h0M1041.9 994.7h0M1041.3 945.6h0M1042.8 920.9h0M1065.0 954.1h0M1049.2 946.9h0M1027.4 1026.9h0M1012.4 1006.9h0M955.6 1019.6h0M1015.7 972.8h0M1077.5 927.5h0M1044.2 933.6h0M1005.6 986.4h0M1024.7 978.6h0M996.1 1007.0h0M1046.5 958.4h0M1108.9 967.8h0M1101.6 896.5h0M1079.6 986.8h0M1064.4 983.7h0M1025.5 972.3h0M978.4 994.3h0M1036.5 955.8h0M1015.3 949.1h0M1066.3 958.8h0M1041.9 977.9h0M1009.5 974.5h0M1052.6 981.7h0M1142.2 899.8h0M994.1 989.4h0M1077.5 936.9h0M1057.9 997.9h0M1031.8 975.6h0M1001.2 1037.1h0M1037.0 949.6h0M1044.3 972.5h0M1064.3 930.4h0M1061.9 925.0h0M1047.9 989.6h0M1004.7 971.6h0M1047.3 953.2h0M1014.8 950.2h0M987.9 1032.8h0M1068.8 975.5h0M1005.5 1006.7h0M980.8 1051.5h0M1039.3 963.7h0M946.6 1059.0h0M1033.3 965.9h0M1052.4 951.3h0M1016.7 962.4h0M1044.8 991.1h0M1114.4 906.0h0M1087.8 922.1h0M1069.9 969.1h0M1057.9 968.5h0M1012.1 1015.2h0M1029.6 946.7h0M1022.8 948.4h0M1037.0 986.0h0M1040.2 968.5h0M998.4 988.7h0M1094.5 919.0h0M987.5 1008.6h0M1049.1 926.2h0M1073.4 966.2h0M1034.5 951.7h0M1004.7 989.4h0M1037.0 962.2h0M1106.2 942.2h0M1058.5 991.8h0M1022.3 988.0h0M1057.0 946.3h0M1026.6 992.1h0M948.6 1078.2h0M1044.6 967.3h0M1073.6 946.8h0M1077.7 965.0h0M1032.7 973.3h0M970.1 1014.3h0M1079.2 938.5h0M1028.6 954.1h0M1062.5 928.1h0M1076.8 945.1h0M1048.0 978.7h0M1032.9 1007.5h0M1006.5 968.8h0M1015.5 974.4h0M1036.8 947.3h0M1014.1 1000.2h0M1048.8 958.6h0M944.7 1063.3h0M988.4 1025.3h0M1034.0 1000.8h0M1003.1 997.8h0M1010.3 976.4h0M982.4 995.5h0M1059.7 949.7h0M1094.5 939.8h0M988.4 964.1h0M1077.0 911.9h0M967.5 1004.0h0M1040.3 963.3h0M941.9 1022.0h0M1052.8 974.9h0M1035.9 995.9h0M1040.2 953.3h0M1079.2 939.4h0M1056.5 934.6h0M1033.5 987.0h0M996.6 992.7h0M1036.7 990.4h0M1002.4 1000.9h0M1014.9 972.4h0M1088.4 938.9h0M1066.6 970.4h0M1045.2 994.0h0M1057.5 964.2h0M967.4 1044.9h0M1038.5 997.8h0M955.7 1034.3h0M1003.3 1012.0h0M1047.9 935.0h0M1048.2 918.0h0M1059.8 931.1h0M1040.0 907.7h0M1036.1 994.5h0M1033.6 1006.5h0M1085.1 942.4h0M1081.2 978.9h0M965.9 1023.8h0M1038.6 948.7h0M1080.7 925.6h0M1021.3 957.1h0M1041.7 969.8h0M1005.0 992.6h0M977.1 1011.4h0M1038.2 968.8h0M1013.4 963.9h0M1024.7 984.2h0M964.7 1028.7h0M977.8 1030.5h0M1025.2 955.1h0M1010.5 983.6h0M1051.8 956.6h0M981.7 1022.7h0M1057.2 993.5h0M1052.0 968.8h0M1034.2 1015.6h0M1054.4 959.3h0M1025.7 1001.1h0M1020.3 951.6h0M1027.9 987.3h0M970.2 1024.4h0M1027.0 984.8h0M1059.1 979.2h0M954.0 1070.2h0M1054.9 1010.7h0M998.9 1010.6h0M1011.7 1028.1h0M1032.4 947.7h0M1038.8 994.7h0M1079.2 956.0h0M1021.4 978.6h0M1091.8 938.9h0M1030.1 948.2h0M1047.5 963.7h0M1054.4 968.4h0M997.5 1000.8h0M976.7 984.9h0M1033.9 954.0h0M1055.7 998.5h0M1061.8 957.7h0M1012.7 1003.6h0M1094.7 933.4h0M1024.2 962.9h0M998.9 996.7h0M1074.0 933.6h0M1076.6 909.2h0M987.8 1043.7h0M1063.1 953.6h0M974.2 1018.2h0M1035.2 960.0h0M1116.4 918.6h0M1081.3 922.3h0M1060.5 954.6h0M1058.7 946.1h0M997.2 1030.9h0M1047.8 957.6h0M1052.2 984.5h0M988.3 994.2h0M1043.6 927.1h0M1056.2 957.8h0M1044.3 954.6h0M1052.2 943.3h0M1026.5 945.3h0M985.1 992.4h0M1038.1 941.2h0M948.3 1053.5h0M1004.3 992.9h0M1076.7 974.5h0M1101.9 882.2h0M1052.0 983.4h0M926.0 1043.2h0M1085.8 934.8h0M1057.1 953.0h0M1029.1 996.9h0M1064.6 951.7h0M1057.3 953.5h0M982.8 1002.0h0M978.0 1022.1h0M1075.3 939.4h0M931.9 1077.1h0M1059.4 928.5h0M1049.2 973.7h0M1073.3 869.8h0M1101.0 935.5h0M1086.4 951.2h0M1094.3 928.9h0M1067.8 951.4h0M1056.5 932.5h0M1077.1 917.3h0M1038.0 979.5h0M996.9 1011.2h0M1035.5 983.4h0M965.0 1016.1h0M1013.6 961.1h0M1113.1 906.9h0M1057.1 957.5h0M1030.9 969.4h0M1011.2 969.8h0M956.9 1007.0h0M1014.0 981.9h0M1002.8 966.6h0M1038.0 972.8h0M1040.9 959.8h0M1035.4 943.6h0M949.9 1057.5h0M1090.4 970.5h0M1053.7 979.6h0M1038.0 968.9h0M1023.1 996.5h0M1053.5 959.2h0M1082.6 910.3h0M1059.4 960.5h0M984.0 980.7h0M979.6 994.4h0M928.0 1081.8h0M1041.5 943.5h0M1062.7 933.0h0M1080.8 919.7h0M1041.4 959.5h0M1066.0 943.4h0M994.0 1011.1h0M1055.1 974.1h0M1030.4 971.5h0M1005.2 974.2h0M958.0 1044.6h0M1077.7 907.7h0M931.3 1065.6h0M1058.4 946.4h0M998.5 1023.1h0M1057.7 920.9h0M1010.0 969.0h0M1063.0 923.0h0M1025.5 997.9h0M987.1 974.5h0M1011.6 972.5h0M960.7 1041.6h0M1045.5 968.6h0M1073.3 975.0h0M1050.8 960.8h0M1039.4 945.0h0M1082.3 956.0h0M981.4 1001.6h0M1055.7 979.3h0M1035.9 1021.9h0M1013.7 984.1h0M1055.5 923.1h0M982.4 983.6h0M1029.3 984.2h0M1047.9 932.5h0M981.5 988.0h0M1024.7 965.2h0M1054.7 962.6h0M1070.2 925.2h0M991.8 1002.8h0M1068.2 955.6h0M1021.9 953.0h0M1039.0 979.5h0M1010.1 970.2h0M1063.9 918.8h0M1002.9 1005.6h0M1045.9 957.4h0M1049.4 947.8h0M1063.0 988.0h0M987.3 1016.1h0M1063.7 962.3h0M1036.8 978.3h0M1088.3 954.4h0M1019.6 950.3h0M1009.2 1005.2h0M1032.9 971.8h0M1021.0 964.2h0M1027.6 939.9h0M976.6 1049.7h0M938.8 1078.0h0M967.3 1046.9h0M1008.0 994.0h0M1051.0 939.3h0M1020.9 979.9h0M990.8 1000.1h0M1028.1 940.4h0M1037.7 973.7h0M1135.6 904.5h0M1081.8 898.7h0M1042.3 947.6h0M967.8 1036.8h0M1027.2 986.7h0M1021.2 953.1h0M1055.6 980.0h0M1112.4 940.5h0M1032.3 952.9h0M943.9 1017.4h0M1030.0 935.9h0M957.5 1053.8h0M1065.9 938.7h0M1075.6 1013.9h0M1047.7 978.4h0M966.5 962.8h0M1027.2 939.6h0M1079.6 926.0h0M989.0 1023.6h0M1008.1 1013.1h0M1044.9 938.3h0M1053.7 959.7h0M1038.5 982.6h0M1048.0 944.4h0M1043.2 948.1h0M1008.7 1000.6h0M1031.9 978.6h0M1046.0 914.1h0M985.0 1028.0h0M1042.8 941.3h0M1039.3 979.7h0M1052.5 975.0h0M1048.4 981.4h0M987.0 1008.0h0M977.3 1014.7h0M1044.8 945.9h0M1028.8 986.8h0M1039.4 956.1h0M1009.6 996.8h0M976.4 1030.6h0M1045.5 947.7h0M1029.6 961.2h0M1058.0 985.8h0M1075.3 940.1h0M1075.4 982.0h0M1071.6 968.3h0M991.2 967.8h0M937.7 1023.0h0M1007.1 991.7h0M979.4 1000.2h0M974.3 990.9h0M1059.3 917.0h0M960.7 993.9h0M1068.6 964.2h0M1075.2 945.1h0M1132.0 907.8h0M1073.1 996.7h0M1111.5 938.4h0M1005.6 981.3h0M1003.7 996.0h0M1070.9 959.8h0M974.4 1043.1h0M1076.8 955.8h0M1022.7 976.7h0M944.2 1052.6h0M1102.6 904.2h0M983.4 993.0h0M1126.0 941.4h0M966.9 1005.5h0M996.1 998.0h0M1043.2 947.8h0M1036.0 982.2h0M962.1 1010.7h0M1039.4 981.3h0M1042.3 942.9h0M1052.0 959.3h0M960.8 1036.2h0M1007.3 1016.3h0M1030.5 1005.6h0M1064.7 932.8h0M1041.5 988.6h0M1019.4 1003.1h0M1015.8 972.4h0M1088.4 936.3h0M997.5 985.1h0M1046.4 989.8h0M934.8 1099.3h0M1097.2 950.7h0M1052.2 937.5h0M953.8 1037.9h0M1057.5 946.2h0M1085.9 927.4h0M1065.2 947.2h0M1038.3 963.4h0M1066.2 954.5h0M1001.0 989.6h0M1023.7 968.8h0M1018.9 992.3h0M1038.3 954.2h0M987.1 1006.9h0M1085.5 940.3h0M1029.7 975.3h0M985.4 989.8h0M1025.4 977.7h0M1048.8 935.4h0M1037.2 988.7h0M1075.5 932.4h0M1018.9 1011.0h0M999.8 994.2h0M1053.7 968.2h0M1082.0 950.3h0M990.7 1025.5h0M961.8 1030.4h0M1005.6 978.6h0M1032.0 1009.4h0M987.7 1009.1h0M1041.4 961.2h0M995.3 986.6h0M1067.8 941.7h0M980.3 1035.9h0M912.3 1090.1h0M931.9 1099.3h0M916.9 1033.8h0M935.3 1007.4h0M939.9 1013.1h0M987.0 932.7h0M989.3 950.0h0M981.3 960.3h0M1064.0 869.6h0M1078.9 852.3h0M1089.2 869.6h0M1119.1 868.4h0M1128.3 869.6h0M1142.1 883.4h0M1142.1 907.5h0M1168.5 915.5h0M1117.9 963.8h0M1116.8 975.2h0M1119.1 989.0h0M1105.3 992.5h0M1092.7 1005.1h0M1075.4 1026.9h0M1037.5 1031.5h0M1031.8 1033.8h0M1016.9 1037.3h0M993.9 1052.2h0" stroke="#000" stroke-width="4.0" stroke-linecap="round" fill="none"/>
<rect x="105.5" y="1224.6" width="285.5" height="274.60000000000014" fill="none" stroke="#555" stroke-width="1.3"/>
<text x="128.3" y="1523.2" class="s" font-size="11.5" text-anchor="middle" stroke="#000" stroke-width="0.3">3</text>
<text x="164.9" y="1523.2" class="s" font-size="11.5" text-anchor="middle" stroke="#000" stroke-width="0.3">4</text>
<text x="201.6" y="1523.2" class="s" font-size="11.5" text-anchor="middle" stroke="#000" stroke-width="0.3">5</text>
<text x="238.2" y="1523.2" class="s" font-size="11.5" text-anchor="middle" stroke="#000" stroke-width="0.3">6</text>
<text x="274.9" y="1523.2" class="s" font-size="11.5" text-anchor="middle" stroke="#000" stroke-width="0.3">7</text>
<text x="311.5" y="1523.2" class="s" font-size="11.5" text-anchor="middle" stroke="#000" stroke-width="0.3">8</text>
<text x="348.1" y="1523.2" class="s" font-size="11.5" text-anchor="middle" stroke="#000" stroke-width="0.3">9</text>
<text x="384.8" y="1523.2" class="s" font-size="11.5" text-anchor="middle" stroke="#000" stroke-width="0.3">10</text>
<text transform="translate(91.0,1493.6) rotate(-90)" class="s" font-size="11.5" text-anchor="middle">0</text>
<text transform="translate(91.0,1453.6) rotate(-90)" class="s" font-size="11.5" text-anchor="middle">1</text>
<text transform="translate(91.0,1413.5) rotate(-90)" class="s" font-size="11.5" text-anchor="middle">2</text>
<text transform="translate(91.0,1373.5) rotate(-90)" class="s" font-size="11.5" text-anchor="middle">3</text>
<text transform="translate(91.0,1333.5) rotate(-90)" class="s" font-size="11.5" text-anchor="middle">4</text>
<text transform="translate(91.0,1293.4) rotate(-90)" class="s" font-size="11.5" text-anchor="middle">5</text>
<text transform="translate(91.0,1253.4) rotate(-90)" class="s" font-size="11.5" text-anchor="middle">6</text>
<path d="M128.3 1499.2v6.5M164.9 1499.2v6.5M201.6 1499.2v6.5M238.2 1499.2v6.5M274.9 1499.2v6.5M311.5 1499.2v6.5M348.1 1499.2v6.5M384.8 1499.2v6.5M105.5 1493.6h-6.5M105.5 1453.6h-6.5M105.5 1413.5h-6.5M105.5 1373.5h-6.5M105.5 1333.5h-6.5M105.5 1293.4h-6.5M105.5 1253.4h-6.5" stroke="#555" stroke-width="1.3" fill="none"/>
<text x="248.6" y="1546.6" class="s" font-size="15" text-anchor="middle" textLength="128.8" lengthAdjust="spacingAndGlyphs">log2(KPNA2 TPM)</text>
<text transform="translate(65.7,1362) rotate(-90)" class="s" font-size="15" text-anchor="middle" textLength="123.4" lengthAdjust="spacingAndGlyphs">log2(MKI67 TPM)</text>
<text x="123.1" y="1243.6" class="s" font-size="14">p−value &lt; 0.05</text>
<text x="123.1" y="1260.1" class="s" font-size="14">R = 0.63</text>
<path d="M274.3 1316.1h0M207.0 1411.1h0M180.7 1447.3h0M234.7 1380.0h0M293.4 1266.0h0M251.5 1317.0h0M268.0 1334.8h0M285.7 1312.9h0M211.3 1401.4h0M211.5 1367.3h0M263.2 1328.1h0M345.0 1244.2h0M245.3 1354.6h0M254.3 1335.9h0M227.7 1332.0h0M261.9 1353.7h0M156.2 1478.4h0M221.7 1418.0h0M308.8 1316.0h0M257.6 1384.7h0M239.7 1375.3h0M263.2 1296.6h0M264.6 1291.0h0M255.6 1322.3h0M270.3 1328.7h0M176.9 1433.9h0M270.7 1355.1h0M220.5 1427.4h0M277.5 1343.6h0M249.4 1355.5h0M206.1 1461.9h0M247.1 1373.2h0M205.8 1370.7h0M285.3 1318.1h0M249.0 1361.0h0M279.8 1335.7h0M201.0 1404.3h0M306.3 1274.3h0M237.0 1361.8h0M297.5 1305.1h0M279.8 1375.2h0M201.6 1461.0h0M261.5 1349.2h0M226.3 1397.1h0M264.5 1343.8h0M299.8 1311.5h0M274.1 1279.2h0M287.2 1282.7h0M198.5 1457.0h0M257.4 1323.8h0M262.7 1327.7h0M287.9 1312.7h0M222.9 1395.0h0M270.0 1321.0h0M265.2 1286.8h0M182.9 1468.0h0M204.3 1423.1h0M265.7 1337.8h0M198.3 1472.7h0M196.0 1432.1h0M281.2 1339.9h0M260.2 1333.3h0M239.9 1350.6h0M254.0 1299.3h0M232.4 1377.8h0M226.6 1388.8h0M229.9 1356.8h0M263.7 1283.9h0M296.0 1297.3h0M229.5 1363.3h0M247.3 1337.4h0M240.7 1346.0h0M194.6 1446.3h0M259.0 1360.0h0M280.3 1335.5h0M213.0 1412.4h0M279.1 1310.9h0M225.0 1405.5h0M290.1 1327.6h0M292.3 1305.1h0M233.4 1372.8h0M161.8 1484.1h0M234.9 1399.2h0M188.8 1393.5h0M192.1 1442.5h0M239.1 1367.0h0M297.3 1322.3h0M246.2 1341.5h0M240.6 1332.8h0M168.4 1476.8h0M223.5 1388.5h0M188.6 1449.5h0M268.3 1272.8h0M226.9 1365.1h0M248.4 1361.9h0M249.6 1345.6h0M242.0 1330.2h0M283.2 1310.5h0M267.1 1323.3h0M236.2 1359.9h0M255.6 1347.8h0M269.4 1314.1h0M297.7 1257.2h0M254.8 1331.3h0M300.3 1303.9h0M224.0 1405.2h0M240.0 1360.7h0M184.5 1462.7h0M278.7 1340.4h0M204.6 1399.0h0M204.6 1407.6h0M279.4 1289.8h0M226.7 1366.7h0M217.0 1404.9h0M283.2 1289.3h0M242.2 1345.6h0M282.1 1278.5h0M232.5 1394.4h0M275.4 1330.1h0M287.6 1306.6h0M253.2 1304.1h0M312.5 1270.5h0M232.8 1397.6h0M240.9 1379.8h0M253.1 1330.2h0M285.1 1350.4h0M237.6 1377.9h0M231.0 1374.7h0M259.1 1346.9h0M293.5 1294.7h0M231.9 1349.5h0M193.8 1425.5h0M244.5 1385.7h0M271.9 1291.2h0M226.3 1352.5h0M254.6 1363.6h0M167.6 1484.0h0M251.0 1380.4h0M253.9 1307.8h0M271.8 1336.7h0M261.0 1325.2h0M277.0 1306.9h0M206.3 1379.3h0M273.1 1320.2h0M177.3 1468.1h0M223.9 1367.4h0M288.5 1282.2h0M279.7 1329.6h0M168.3 1475.6h0M270.6 1364.1h0M231.3 1334.8h0M215.9 1412.4h0M257.4 1314.2h0M254.8 1319.7h0M298.5 1276.8h0M186.5 1419.6h0M231.4 1390.1h0M244.0 1347.4h0M168.9 1490.2h0M290.8 1307.3h0M311.0 1301.9h0M222.7 1323.5h0M263.5 1326.2h0M238.4 1332.5h0M259.7 1352.4h0M220.4 1341.3h0M279.0 1317.5h0M198.7 1426.5h0M297.4 1303.1h0M262.6 1371.2h0M334.1 1309.1h0M177.3 1451.8h0M246.1 1376.1h0M193.4 1436.7h0M244.1 1300.2h0M265.3 1336.7h0M209.6 1352.4h0M186.8 1433.4h0M173.6 1491.2h0M257.9 1322.0h0M294.4 1270.7h0M290.8 1282.8h0M251.5 1361.2h0M207.8 1434.8h0M234.2 1341.9h0M183.6 1398.9h0M180.6 1407.1h0M287.1 1315.7h0M238.0 1363.5h0M261.2 1326.3h0M238.2 1328.9h0M296.1 1285.5h0M300.0 1281.6h0M216.0 1393.0h0M234.1 1430.7h0M220.4 1417.0h0M295.8 1292.8h0M293.4 1339.0h0M237.5 1305.2h0M329.8 1281.9h0M251.2 1325.6h0M196.5 1400.6h0M160.4 1454.5h0M244.0 1379.9h0M261.4 1336.9h0M224.4 1339.6h0M262.9 1328.7h0M291.6 1279.6h0M247.7 1409.0h0M279.4 1303.4h0M307.8 1280.0h0M267.5 1329.2h0M224.6 1424.3h0M265.2 1347.4h0M268.9 1331.7h0M324.2 1277.1h0M231.1 1396.7h0M181.7 1421.1h0M260.6 1308.9h0M261.6 1341.4h0M231.9 1329.2h0M269.8 1354.2h0M261.3 1324.6h0M292.2 1258.3h0M213.4 1382.2h0M219.2 1391.3h0M249.3 1332.0h0M227.8 1376.3h0M294.2 1312.3h0M270.3 1343.2h0M249.3 1344.5h0M303.1 1292.9h0M267.6 1317.8h0M284.8 1329.8h0M278.1 1308.2h0M243.8 1326.5h0M244.1 1366.4h0M250.6 1303.1h0M202.0 1435.3h0M235.1 1381.3h0M279.8 1330.0h0M261.0 1365.4h0M208.6 1446.5h0M332.0 1290.8h0M204.7 1419.3h0M271.8 1344.3h0M275.4 1281.4h0M294.4 1305.0h0M212.3 1411.6h0M251.2 1359.6h0M241.9 1342.7h0M290.0 1302.0h0M263.8 1323.1h0M265.1 1308.7h0M269.4 1285.9h0M318.6 1297.2h0M274.2 1302.1h0M281.5 1311.0h0M210.2 1396.4h0M275.3 1333.5h0M196.5 1409.4h0M284.2 1293.4h0M256.9 1328.2h0M213.2 1417.7h0M201.7 1398.9h0M248.5 1370.7h0M256.4 1377.0h0M227.9 1353.2h0M238.4 1359.9h0M239.4 1396.2h0M229.7 1388.8h0M244.8 1349.7h0M262.0 1307.5h0M297.6 1301.1h0M274.9 1339.6h0M228.7 1399.5h0M309.0 1318.0h0M294.1 1302.1h0M242.9 1372.0h0M288.6 1288.8h0M230.9 1387.1h0M221.3 1357.8h0M222.8 1387.8h0M309.8 1281.9h0M258.8 1338.6h0M264.9 1332.9h0M256.4 1297.0h0M237.5 1376.3h0M271.0 1336.0h0M277.8 1322.0h0M322.2 1253.1h0M218.3 1414.8h0M307.6 1248.2h0M277.8 1340.4h0M179.8 1466.9h0M288.6 1302.3h0M310.7 1277.7h0M292.8 1324.0h0M263.6 1308.4h0M260.7 1287.2h0M168.9 1471.2h0M266.3 1308.7h0M261.4 1314.1h0M215.4 1328.5h0M262.0 1326.3h0M227.2 1363.1h0M332.9 1264.8h0M202.4 1405.8h0M216.2 1398.7h0M237.7 1362.7h0M258.0 1312.4h0M254.1 1347.5h0M226.2 1354.1h0M283.7 1312.5h0M261.6 1301.9h0M294.3 1328.3h0M249.0 1373.6h0M176.1 1442.4h0M247.3 1308.8h0M208.9 1416.1h0M281.3 1364.7h0M226.4 1347.4h0M242.2 1339.9h0M251.7 1360.9h0M185.5 1407.1h0M235.4 1326.4h0M282.0 1326.2h0M227.0 1384.4h0M244.8 1332.5h0M257.3 1319.4h0M222.1 1348.0h0M238.7 1343.1h0M266.5 1277.0h0M234.8 1371.7h0M253.0 1364.2h0M245.1 1365.5h0M205.1 1430.8h0M194.0 1432.9h0M319.3 1294.2h0M298.5 1274.6h0M245.7 1319.3h0M283.6 1268.9h0M289.0 1317.7h0M284.0 1342.6h0M234.9 1373.2h0M187.7 1439.6h0M195.3 1440.6h0M240.5 1344.1h0M297.4 1284.4h0M304.7 1280.8h0M240.6 1378.4h0M236.4 1340.5h0M292.5 1324.7h0M322.0 1334.3h0M210.5 1409.9h0M267.3 1300.9h0M256.1 1343.4h0M237.2 1404.8h0M237.4 1373.1h0M236.7 1336.3h0M251.1 1346.0h0M183.5 1456.4h0M251.2 1381.4h0M278.4 1324.1h0M277.3 1340.8h0M278.6 1284.7h0M262.7 1331.1h0M258.0 1323.0h0M318.4 1321.9h0M243.8 1358.8h0M256.9 1324.3h0M294.4 1263.0h0M252.7 1316.2h0M194.7 1455.7h0M227.4 1308.6h0M232.7 1377.2h0M244.9 1364.5h0M231.9 1382.1h0M285.6 1342.7h0M275.8 1333.4h0M268.2 1349.9h0M234.1 1382.3h0M286.8 1331.0h0M285.6 1321.5h0M327.0 1254.6h0M225.2 1403.2h0M247.2 1384.6h0M299.3 1286.4h0M204.5 1420.4h0M260.9 1323.3h0M259.4 1365.4h0M253.7 1350.9h0M210.7 1430.2h0M253.2 1382.2h0M186.8 1461.1h0M292.8 1311.0h0M230.8 1369.1h0M257.2 1375.0h0M251.2 1332.2h0M258.1 1317.0h0M255.9 1338.0h0M266.1 1346.4h0M235.8 1389.8h0M252.5 1325.0h0M202.9 1443.0h0M205.6 1385.3h0M214.1 1450.2h0M207.0 1464.3h0M191.0 1430.9h0M223.8 1420.0h0M272.7 1303.4h0M265.3 1347.4h0M233.0 1385.9h0M261.9 1331.8h0M263.7 1310.3h0M343.0 1234.1h0M181.5 1461.5h0M259.8 1349.7h0M193.8 1415.9h0M294.4 1324.6h0M242.1 1383.1h0M266.6 1356.5h0M258.3 1259.8h0M275.4 1286.1h0M201.1 1430.5h0M254.4 1330.5h0M193.5 1474.7h0M270.5 1333.2h0M293.9 1279.2h0M195.0 1425.6h0M233.1 1397.3h0M273.2 1325.0h0M314.0 1285.8h0M286.3 1274.6h0M276.7 1298.2h0M213.7 1394.8h0M252.7 1288.2h0M256.0 1351.9h0M225.5 1348.8h0M265.9 1316.6h0M238.3 1359.3h0M232.6 1378.7h0M324.7 1253.8h0M244.7 1311.6h0M315.9 1317.0h0M235.0 1359.1h0M248.5 1322.3h0M197.0 1443.8h0M226.4 1394.0h0M305.8 1250.3h0M251.8 1348.1h0M163.6 1488.2h0M299.9 1281.1h0M211.9 1391.5h0M232.5 1350.6h0M249.1 1329.8h0M168.0 1433.9h0M303.7 1277.7h0M294.8 1273.6h0M236.0 1378.7h0M262.7 1324.0h0M237.8 1369.0h0M224.2 1341.6h0M240.1 1345.2h0M186.9 1408.6h0M232.5 1369.8h0M225.7 1398.8h0M316.1 1254.7h0M185.8 1444.8h0M293.8 1334.6h0M274.9 1324.7h0M255.4 1357.0h0M223.8 1343.5h0M312.4 1280.2h0M300.4 1273.0h0M248.4 1331.3h0M241.6 1320.6h0M256.8 1323.8h0M313.1 1264.0h0M210.3 1390.1h0M253.2 1373.1h0M289.4 1301.7h0M189.1 1466.4h0M246.7 1376.9h0M288.6 1302.2h0M231.1 1413.1h0M245.4 1356.1h0M182.2 1425.4h0M263.4 1334.4h0M198.4 1405.8h0M233.1 1394.9h0M261.9 1336.8h0M225.7 1447.4h0M280.2 1345.9h0M274.9 1341.1h0M266.9 1287.7h0M284.1 1264.2h0M243.0 1405.9h0M279.9 1337.6h0M276.9 1281.4h0M229.4 1354.5h0M213.3 1411.4h0M290.0 1287.3h0M229.3 1345.8h0M233.2 1386.1h0M230.4 1348.9h0M330.4 1250.8h0M218.2 1374.2h0M244.1 1356.3h0M202.7 1478.8h0M170.6 1463.1h0M252.0 1366.0h0M223.0 1351.1h0M277.2 1283.0h0M231.2 1414.5h0M287.3 1269.4h0M280.3 1327.2h0M246.6 1325.6h0M272.9 1319.4h0M308.5 1295.0h0M270.0 1332.3h0M182.3 1462.9h0M248.7 1311.6h0M253.4 1341.0h0M289.2 1331.7h0M239.6 1340.6h0M285.0 1322.7h0M239.6 1344.2h0M246.4 1370.3h0M234.8 1355.6h0M245.6 1375.0h0M238.6 1378.8h0M257.8 1330.4h0M211.4 1380.3h0M198.9 1418.9h0M240.8 1357.8h0M250.9 1278.4h0M226.7 1380.1h0M259.4 1402.2h0M257.0 1323.9h0M303.2 1305.4h0M313.1 1254.1h0M165.6 1487.2h0M253.5 1355.4h0M200.6 1420.5h0M228.8 1347.4h0M222.2 1408.4h0M184.1 1412.5h0M181.2 1445.0h0M224.2 1370.3h0M255.2 1300.3h0M263.5 1338.3h0M248.3 1330.7h0M226.5 1375.6h0M283.7 1387.1h0M242.0 1353.2h0M286.3 1312.6h0M298.1 1264.8h0M284.2 1323.9h0M289.2 1293.0h0M278.6 1308.2h0M247.2 1338.2h0M219.4 1401.9h0M229.6 1385.9h0M297.8 1256.5h0M223.0 1393.4h0M226.5 1362.9h0M266.5 1324.2h0M199.7 1459.0h0M243.8 1383.4h0M263.1 1327.7h0M228.3 1357.8h0M239.8 1317.9h0M164.6 1487.8h0M188.0 1475.8h0M231.3 1373.7h0M283.3 1349.3h0M217.2 1360.2h0M201.7 1429.1h0M207.0 1413.3h0M266.5 1283.8h0M179.4 1446.5h0M249.4 1382.6h0M226.2 1369.4h0M245.2 1371.1h0M209.3 1441.0h0M246.1 1375.0h0M290.6 1343.6h0M229.7 1362.2h0M220.7 1412.7h0M260.4 1312.1h0M214.1 1406.4h0M257.3 1354.2h0M247.3 1348.7h0M207.7 1426.2h0M214.2 1398.9h0M183.5 1456.3h0M312.8 1261.2h0M276.4 1330.6h0M273.2 1347.4h0M285.8 1321.6h0M292.6 1360.2h0M274.6 1327.3h0M280.5 1296.6h0M168.9 1464.8h0M252.6 1313.5h0M217.4 1442.4h0M247.6 1316.1h0M197.8 1395.5h0M274.4 1335.6h0M190.3 1428.0h0M265.7 1327.1h0M209.4 1418.7h0M238.6 1362.8h0M179.5 1418.4h0M219.0 1431.0h0M179.8 1464.8h0M266.1 1319.4h0M169.8 1436.5h0M258.8 1367.4h0M222.9 1420.0h0M239.8 1410.9h0M297.3 1291.7h0M236.3 1368.6h0M219.7 1392.1h0M248.6 1352.6h0M272.8 1370.5h0M224.4 1355.6h0M307.6 1264.8h0M255.2 1377.4h0M233.3 1387.4h0M220.5 1414.9h0M242.8 1376.5h0M269.1 1281.7h0M286.2 1286.3h0M252.7 1372.9h0M224.3 1331.5h0M248.3 1337.6h0M157.7 1487.4h0M288.8 1328.1h0M279.2 1336.4h0M242.3 1359.6h0M275.1 1247.1h0M208.0 1436.0h0M313.8 1299.5h0M247.3 1327.0h0M235.1 1359.5h0M326.6 1287.7h0M216.1 1325.2h0M272.0 1330.1h0M223.6 1398.5h0M237.4 1365.5h0M249.2 1332.8h0M236.5 1344.3h0M309.9 1259.1h0M297.4 1289.3h0M237.5 1370.5h0M258.5 1341.3h0M253.8 1356.3h0M273.7 1301.9h0M217.1 1361.5h0M306.0 1299.4h0M222.2 1396.4h0M206.7 1414.0h0M295.7 1317.8h0M220.9 1396.0h0M249.7 1326.4h0M207.2 1392.0h0M240.4 1418.5h0M260.9 1296.0h0M153.4 1461.2h0M254.1 1369.9h0M222.5 1346.1h0M304.1 1323.6h0M325.4 1229.8h0M273.7 1334.5h0M275.7 1305.3h0M291.5 1296.2h0M291.6 1285.7h0M193.1 1465.0h0M197.7 1383.7h0M233.6 1344.9h0M193.5 1425.4h0M239.5 1323.0h0M256.6 1339.2h0M218.3 1336.1h0M268.6 1288.9h0M301.9 1237.7h0M254.0 1359.1h0M267.1 1320.4h0M250.9 1390.9h0M248.9 1340.0h0M229.7 1390.5h0M202.9 1436.4h0M271.0 1300.2h0M288.8 1307.7h0M249.8 1317.3h0M254.9 1369.4h0M191.4 1455.1h0M240.9 1348.3h0M261.4 1393.1h0M246.9 1378.8h0M252.8 1346.0h0M206.9 1462.1h0M195.0 1421.1h0M239.7 1386.8h0M301.4 1275.9h0M233.7 1387.5h0M184.9 1410.6h0M221.5 1434.5h0M241.1 1327.5h0M291.5 1345.5h0M287.0 1274.8h0M215.1 1400.7h0M206.0 1464.0h0M238.8 1344.6h0M249.5 1364.0h0M206.2 1418.1h0M282.7 1315.9h0M230.5 1351.8h0M258.3 1350.3h0M240.9 1342.0h0M267.1 1357.3h0M244.3 1368.4h0M257.9 1326.9h0M291.4 1271.6h0M257.3 1339.0h0M298.6 1303.3h0M193.8 1420.4h0M240.4 1342.2h0M203.3 1439.7h0M186.7 1365.4h0M246.7 1360.3h0M313.7 1313.1h0M257.1 1339.3h0M282.9 1300.7h0M164.8 1479.7h0M256.5 1355.2h0M197.9 1425.6h0M256.1 1325.7h0M283.2 1328.2h0M226.5 1400.4h0M284.9 1305.8h0M212.8 1396.0h0M251.1 1374.7h0M218.9 1326.9h0M249.8 1320.3h0M239.0 1313.0h0M150.0 1474.3h0M229.7 1409.3h0M223.6 1327.3h0M303.6 1331.8h0M248.3 1339.3h0M273.9 1336.7h0M310.6 1263.4h0M290.3 1279.1h0M242.7 1354.6h0M295.2 1252.4h0M239.1 1395.5h0M236.5 1345.5h0M229.7 1350.6h0M228.1 1322.0h0M297.7 1271.0h0M176.6 1441.3h0M277.7 1324.2h0M261.2 1327.9h0M274.3 1304.8h0M232.4 1333.5h0M267.5 1336.9h0M232.6 1351.9h0M220.7 1356.2h0M223.7 1356.6h0M248.6 1321.3h0M245.4 1388.0h0M225.0 1365.3h0M297.9 1265.0h0M259.1 1344.4h0M226.8 1362.8h0M184.5 1453.3h0M238.4 1337.4h0M170.4 1458.4h0M202.5 1436.9h0M191.1 1418.8h0M202.2 1402.5h0M248.5 1379.3h0M291.8 1309.3h0M256.7 1370.1h0M219.7 1359.2h0M211.8 1418.7h0M265.8 1326.0h0M233.4 1420.0h0M300.3 1297.0h0M231.8 1402.9h0M197.5 1414.6h0M175.8 1467.5h0M233.8 1340.4h0M276.0 1275.1h0M284.1 1308.2h0M269.5 1329.7h0M224.4 1395.8h0M284.7 1331.4h0M161.8 1486.2h0M250.3 1328.8h0M255.3 1311.8h0M253.8 1342.0h0M236.5 1333.0h0M174.0 1444.1h0M259.8 1306.8h0M222.7 1355.8h0M271.1 1305.1h0M247.9 1321.5h0M187.6 1456.0h0M262.0 1384.1h0M268.8 1356.5h0M268.6 1312.3h0M207.8 1405.3h0M193.1 1443.3h0M268.7 1289.7h0M236.3 1339.6h0M233.8 1320.3h0M275.8 1345.8h0M277.7 1327.4h0M259.0 1322.9h0M229.5 1345.9h0M293.2 1260.4h0M193.6 1418.7h0M239.1 1313.9h0M252.8 1306.4h0M178.7 1447.6h0M207.7 1367.7h0M271.9 1308.6h0M235.8 1345.8h0M192.8 1457.0h0M299.2 1312.8h0M247.8 1364.0h0M244.3 1341.0h0M305.1 1316.0h0M216.2 1396.5h0M199.5 1352.1h0M287.7 1302.6h0M204.0 1439.1h0M323.5 1278.0h0M258.9 1321.4h0M253.0 1313.3h0M276.2 1306.6h0M230.7 1322.3h0M200.2 1397.2h0M213.5 1422.5h0M241.4 1322.5h0M197.0 1439.7h0M246.1 1316.8h0M212.1 1393.3h0M230.9 1421.5h0M236.8 1409.8h0M297.2 1300.0h0M322.2 1264.8h0M308.1 1253.8h0M237.7 1341.5h0M215.0 1354.8h0M283.8 1288.6h0M293.9 1296.2h0M281.0 1338.6h0M222.7 1344.3h0M260.2 1305.0h0M237.8 1330.4h0M285.7 1327.3h0M282.2 1282.1h0M258.0 1385.6h0M232.3 1351.8h0M311.0 1280.9h0M257.5 1337.1h0M279.5 1392.3h0M270.4 1271.3h0M278.6 1345.3h0M292.0 1324.1h0M236.8 1372.2h0M232.5 1384.7h0M273.0 1373.3h0M249.3 1353.4h0M231.2 1365.6h0M277.0 1360.6h0M263.7 1323.3h0M244.0 1352.1h0M201.0 1381.9h0M244.7 1370.2h0M238.3 1412.1h0M254.2 1340.0h0M259.4 1326.3h0M220.9 1355.8h0M269.8 1305.2h0M228.5 1396.4h0M265.8 1327.1h0M261.2 1363.6h0M294.7 1284.2h0M251.0 1271.7h0M306.6 1315.3h0M235.8 1400.7h0M212.9 1437.8h0M273.4 1331.2h0M196.8 1415.7h0M263.9 1340.8h0M264.4 1382.9h0M257.5 1335.3h0M265.1 1317.1h0M258.1 1303.7h0M295.2 1289.1h0M246.0 1397.6h0M165.3 1457.3h0M235.4 1377.6h0M280.0 1357.8h0M285.4 1317.3h0M274.8 1322.4h0M252.5 1340.8h0M210.9 1431.3h0M305.1 1307.1h0M225.9 1383.8h0M203.0 1412.4h0M316.6 1316.8h0M250.6 1323.4h0M280.5 1310.3h0M273.5 1327.6h0M277.4 1344.9h0M251.2 1352.8h0M273.8 1319.1h0M297.6 1307.5h0M231.9 1361.8h0M325.4 1275.5h0M245.7 1363.4h0M224.0 1363.3h0M220.5 1403.1h0M234.6 1376.5h0M278.2 1306.9h0M210.4 1428.0h0M189.5 1418.4h0M258.6 1341.4h0M247.3 1302.2h0M222.5 1415.8h0M280.3 1314.5h0M194.6 1458.2h0M273.4 1313.9h0M199.1 1443.9h0M263.2 1368.9h0M192.1 1460.8h0M268.8 1347.7h0M242.6 1353.8h0M226.2 1406.7h0M247.6 1334.1h0M238.1 1367.5h0M273.9 1329.7h0M214.6 1408.9h0M259.9 1337.5h0M229.6 1329.0h0M216.0 1421.5h0M220.6 1389.5h0M194.1 1427.7h0M115.7 1473.1h0M120.4 1488.5h0M133.5 1482.5h0M139.4 1484.9h0M147.7 1476.6h0M380.1 1271.4h0M360.0 1288.0h0M362.4 1296.3h0M365.9 1335.5h0M360.0 1378.2h0M331.5 1375.8h0M337.4 1366.3h0M344.6 1314.1h0M349.3 1308.2h0M314.9 1343.8h0M330.3 1342.6h0M188.0 1328.4h0M261.5 1238.2h0M247.3 1275.0h0M301.9 1407.8h0M282.9 1405.5h0" stroke="#000" stroke-width="4.0" stroke-linecap="round" fill="none"/>
<rect x="507.8" y="1224.6" width="285.7" height="274.60000000000014" fill="none" stroke="#555" stroke-width="1.3"/>
<text x="530.5" y="1523.2" class="s" font-size="11.5" text-anchor="middle" stroke="#000" stroke-width="0.3">3</text>
<text x="567.2" y="1523.2" class="s" font-size="11.5" text-anchor="middle" stroke="#000" stroke-width="0.3">4</text>
<text x="603.9" y="1523.2" class="s" font-size="11.5" text-anchor="middle" stroke="#000" stroke-width="0.3">5</text>
<text x="640.5" y="1523.2" class="s" font-size="11.5" text-anchor="middle" stroke="#000" stroke-width="0.3">6</text>
<text x="677.2" y="1523.2" class="s" font-size="11.5" text-anchor="middle" stroke="#000" stroke-width="0.3">7</text>
<text x="713.9" y="1523.2" class="s" font-size="11.5" text-anchor="middle" stroke="#000" stroke-width="0.3">8</text>
<text x="750.6" y="1523.2" class="s" font-size="11.5" text-anchor="middle" stroke="#000" stroke-width="0.3">9</text>
<text x="787.3" y="1523.2" class="s" font-size="11.5" text-anchor="middle" stroke="#000" stroke-width="0.3">10</text>
<text transform="translate(493.3,1492.7) rotate(-90)" class="s" font-size="11.5" text-anchor="middle">4</text>
<text transform="translate(493.3,1445.3) rotate(-90)" class="s" font-size="11.5" text-anchor="middle">5</text>
<text transform="translate(493.3,1397.9) rotate(-90)" class="s" font-size="11.5" text-anchor="middle">6</text>
<text transform="translate(493.3,1350.4) rotate(-90)" class="s" font-size="11.5" text-anchor="middle">7</text>
<text transform="translate(493.3,1303.0) rotate(-90)" class="s" font-size="11.5" text-anchor="middle">8</text>
<text transform="translate(493.3,1255.6) rotate(-90)" class="s" font-size="11.5" text-anchor="middle">9</text>
<path d="M530.5 1499.2v6.5M567.2 1499.2v6.5M603.9 1499.2v6.5M640.5 1499.2v6.5M677.2 1499.2v6.5M713.9 1499.2v6.5M750.6 1499.2v6.5M787.3 1499.2v6.5M507.8 1492.7h-6.5M507.8 1445.3h-6.5M507.8 1397.9h-6.5M507.8 1350.4h-6.5M507.8 1303.0h-6.5M507.8 1255.6h-6.5" stroke="#555" stroke-width="1.3" fill="none"/>
<text x="650.6" y="1547.2" class="s" font-size="15" text-anchor="middle" textLength="129.4" lengthAdjust="spacingAndGlyphs">log2(KPNA2 TPM)</text>
<text transform="translate(468,1362.8) rotate(-90)" class="s" font-size="15" text-anchor="middle" textLength="120.7" lengthAdjust="spacingAndGlyphs">log2(PCNA TPM)</text>
<text x="525.3" y="1243.6" class="s" font-size="14">p−value &lt; 0.05</text>
<text x="525.3" y="1260.1" class="s" font-size="14">R = 0.48</text>
<path d="M589.3 1446.3h0M611.2 1401.2h0M666.3 1333.9h0M629.4 1376.8h0M670.8 1319.5h0M680.6 1347.5h0M588.7 1424.3h0M687.8 1347.3h0M626.3 1378.6h0M725.1 1299.2h0M677.8 1320.1h0M628.8 1380.5h0M659.6 1382.0h0M660.1 1372.9h0M664.0 1345.6h0M700.8 1326.9h0M671.1 1342.2h0M710.1 1330.3h0M674.6 1353.3h0M644.8 1377.2h0M585.1 1424.7h0M583.5 1408.0h0M659.7 1316.3h0M676.5 1341.9h0M702.6 1319.1h0M625.5 1424.0h0M655.3 1346.1h0M616.6 1392.7h0M633.9 1343.5h0M551.7 1423.5h0M678.2 1307.8h0M620.6 1405.8h0M649.4 1345.8h0M668.1 1327.2h0M664.4 1359.1h0M594.4 1375.6h0M705.2 1351.1h0M678.8 1333.7h0M669.9 1356.3h0M623.4 1362.0h0M581.6 1457.3h0M580.4 1393.2h0M643.4 1327.4h0M658.2 1378.4h0M621.5 1360.8h0M715.9 1331.3h0M663.1 1330.3h0M687.2 1306.5h0M684.0 1362.0h0M605.2 1355.7h0M687.0 1334.9h0M668.2 1345.4h0M596.5 1382.4h0M677.7 1317.5h0M689.7 1329.0h0M686.4 1317.6h0M689.0 1315.3h0M590.2 1429.8h0M641.7 1359.4h0M628.5 1370.7h0M654.5 1355.5h0M656.3 1338.7h0M691.6 1340.2h0M678.7 1378.7h0M615.9 1370.5h0M683.8 1325.3h0M708.9 1315.5h0M663.2 1361.0h0M586.0 1356.7h0M624.1 1376.7h0M644.7 1387.5h0M580.7 1404.4h0M646.5 1350.4h0M596.3 1431.9h0M680.1 1322.2h0M676.3 1388.3h0M649.3 1369.9h0M597.1 1379.6h0M662.6 1324.7h0M624.4 1370.3h0M622.2 1362.4h0M691.0 1348.1h0M619.1 1381.1h0M591.7 1388.0h0M680.0 1377.3h0M714.1 1305.1h0M708.3 1301.6h0M679.7 1311.9h0M725.0 1285.5h0M636.9 1346.1h0M727.9 1281.7h0M725.2 1324.0h0M637.5 1390.2h0M666.9 1360.6h0M595.6 1429.3h0M607.2 1373.1h0M672.2 1303.9h0M601.1 1366.2h0M660.1 1347.1h0M668.6 1321.3h0M657.5 1352.9h0M686.5 1321.4h0M720.3 1280.9h0M659.4 1376.8h0M688.0 1345.1h0M705.0 1309.0h0M633.3 1304.6h0M623.9 1364.6h0M545.8 1419.7h0M668.3 1312.9h0M689.9 1340.9h0M668.6 1394.7h0M726.2 1329.2h0M706.5 1341.1h0M681.9 1295.8h0M652.2 1364.6h0M615.0 1392.7h0M657.5 1360.7h0M671.0 1351.4h0M651.0 1362.6h0M640.5 1367.5h0M636.9 1344.7h0M677.9 1336.8h0M578.2 1449.4h0M639.9 1351.3h0M656.2 1346.3h0M677.8 1350.1h0M678.0 1336.3h0M643.9 1381.6h0M628.1 1326.9h0M602.1 1372.4h0M694.1 1322.5h0M674.0 1363.4h0M660.8 1339.2h0M621.8 1369.0h0M604.0 1395.1h0M694.2 1335.2h0M653.4 1313.3h0M670.1 1355.2h0M716.1 1290.8h0M586.1 1381.2h0M619.7 1409.2h0M666.5 1344.0h0M675.4 1319.2h0M607.9 1391.6h0M650.5 1394.6h0M627.2 1364.1h0M628.3 1330.7h0M667.1 1337.2h0M660.6 1345.6h0M694.5 1344.9h0M674.7 1346.6h0M705.5 1308.7h0M617.6 1415.5h0M667.9 1368.7h0M590.6 1404.2h0M579.7 1414.2h0M591.5 1402.9h0M677.8 1341.6h0M660.0 1321.7h0M580.4 1416.0h0M698.2 1326.2h0M686.4 1352.5h0M644.7 1384.3h0M641.9 1369.8h0M652.1 1301.5h0M598.5 1374.2h0M734.0 1327.7h0M631.8 1338.4h0M643.9 1365.3h0M638.1 1398.9h0M622.8 1374.9h0M612.2 1411.4h0M664.1 1365.6h0M597.5 1422.5h0M606.0 1397.6h0M616.5 1432.2h0M680.3 1316.2h0M608.1 1354.4h0M608.1 1396.2h0M663.7 1349.4h0M602.0 1387.1h0M637.8 1375.0h0M683.2 1341.7h0M666.6 1332.7h0M653.4 1334.7h0M705.2 1328.3h0M633.6 1357.3h0M625.2 1372.0h0M574.2 1431.3h0M653.4 1359.6h0M674.1 1385.8h0M622.4 1407.3h0M717.4 1303.8h0M687.6 1320.0h0M684.2 1311.2h0M598.5 1366.1h0M662.4 1376.8h0M664.9 1343.0h0M561.4 1464.5h0M651.0 1362.0h0M641.3 1380.9h0M574.9 1407.6h0M669.2 1349.6h0M723.3 1305.4h0M678.2 1353.1h0M614.2 1388.5h0M640.6 1338.5h0M691.1 1312.6h0M615.1 1386.7h0M664.6 1387.5h0M653.4 1398.7h0M658.5 1356.0h0M709.7 1308.5h0M584.6 1397.2h0M693.0 1323.6h0M661.6 1369.8h0M648.2 1401.2h0M578.3 1396.4h0M663.1 1338.6h0M634.1 1346.1h0M591.3 1391.0h0M598.9 1383.9h0M607.2 1417.7h0M625.0 1402.4h0M615.2 1411.2h0M706.4 1337.5h0M689.4 1334.4h0M648.7 1371.4h0M700.6 1293.3h0M726.6 1294.9h0M669.4 1360.6h0M593.7 1398.7h0M665.5 1366.1h0M702.1 1372.7h0M608.0 1385.8h0M652.1 1372.7h0M685.1 1307.0h0M693.7 1330.9h0M682.1 1306.1h0M665.5 1330.9h0M646.3 1398.5h0M627.3 1340.4h0M687.4 1342.6h0M684.7 1336.4h0M631.0 1401.1h0M621.9 1395.2h0M696.2 1266.8h0M687.3 1329.6h0M618.5 1465.9h0M579.1 1374.3h0M656.6 1351.5h0M680.6 1352.6h0M685.9 1319.3h0M680.9 1329.6h0M583.8 1426.1h0M654.1 1322.8h0M635.4 1359.4h0M619.7 1358.2h0M743.8 1285.9h0M652.4 1360.2h0M661.2 1348.9h0M639.0 1392.0h0M676.2 1361.4h0M692.9 1308.8h0M639.8 1371.1h0M651.1 1347.3h0M632.5 1374.8h0M606.9 1404.3h0M644.2 1341.5h0M664.4 1363.9h0M653.0 1380.8h0M641.4 1368.4h0M569.0 1398.3h0M663.9 1327.5h0M658.0 1380.8h0M705.4 1344.2h0M623.4 1394.4h0M590.4 1430.1h0M566.0 1425.7h0M623.0 1362.9h0M648.5 1370.9h0M660.5 1395.2h0M581.3 1456.2h0M626.4 1418.1h0M686.8 1346.5h0M653.9 1349.4h0M636.4 1410.5h0M635.1 1366.2h0M581.4 1400.3h0M589.1 1352.1h0M628.1 1405.2h0M694.1 1328.3h0M691.6 1315.5h0M644.5 1357.0h0M673.3 1325.5h0M666.3 1341.4h0M691.9 1313.6h0M620.4 1387.8h0M661.0 1356.0h0M684.7 1376.0h0M595.7 1356.3h0M648.5 1394.8h0M660.6 1351.0h0M666.5 1346.1h0M670.1 1366.6h0M672.5 1382.3h0M686.8 1328.6h0M700.4 1363.1h0M665.3 1325.5h0M728.4 1240.4h0M631.3 1343.7h0M643.8 1426.9h0M663.8 1341.3h0M617.9 1383.8h0M587.2 1413.1h0M594.2 1382.9h0M692.8 1340.5h0M623.6 1368.3h0M593.2 1419.4h0M717.9 1334.0h0M665.5 1335.9h0M659.3 1329.2h0M609.9 1404.8h0M661.9 1314.8h0M629.8 1380.1h0M660.8 1373.8h0M651.1 1377.2h0M641.9 1381.5h0M659.6 1337.1h0M612.0 1371.8h0M633.2 1371.4h0M616.8 1353.7h0M665.5 1370.3h0M676.5 1330.2h0M679.8 1331.5h0M566.4 1473.7h0M711.7 1306.6h0M642.1 1377.5h0M646.4 1327.3h0M649.6 1371.6h0M649.1 1329.3h0M695.3 1314.0h0M656.4 1390.2h0M662.3 1324.3h0M684.8 1317.8h0M697.5 1315.8h0M607.0 1395.9h0M598.0 1355.0h0M566.8 1428.4h0M567.7 1393.9h0M662.8 1335.2h0M655.4 1358.9h0M650.8 1375.6h0M663.9 1340.1h0M662.8 1350.9h0M693.7 1353.5h0M711.4 1303.4h0M617.0 1370.5h0M704.3 1316.2h0M689.6 1369.6h0M617.6 1369.4h0M659.2 1359.0h0M634.1 1351.2h0M578.2 1420.5h0M654.5 1370.8h0M581.3 1414.0h0M654.7 1357.6h0M607.2 1341.1h0M638.6 1391.8h0M680.9 1371.6h0M657.2 1358.3h0M617.8 1385.9h0M661.0 1394.9h0M676.9 1380.0h0M686.5 1354.4h0M616.5 1392.3h0M692.1 1336.8h0M645.7 1345.1h0M629.0 1377.9h0M693.8 1346.4h0M674.7 1344.9h0M676.7 1334.8h0M657.8 1341.7h0M574.0 1485.2h0M669.2 1346.2h0M672.7 1337.7h0M648.4 1329.3h0M711.8 1323.8h0M657.9 1352.8h0M712.1 1352.8h0M694.6 1309.7h0M624.3 1357.4h0M617.5 1406.6h0M640.3 1366.8h0M652.1 1371.2h0M677.8 1315.9h0M627.8 1384.1h0M608.1 1388.6h0M728.1 1297.7h0M655.4 1365.7h0M664.3 1345.8h0M714.7 1274.8h0M658.5 1355.1h0M552.6 1451.9h0M671.1 1318.1h0M627.8 1333.2h0M689.1 1309.5h0M575.8 1415.6h0M661.3 1353.0h0M682.6 1321.5h0M703.8 1296.2h0M688.5 1264.2h0M687.3 1277.0h0M654.8 1381.5h0M654.3 1338.5h0M611.4 1355.5h0M688.3 1315.6h0M708.6 1318.3h0M676.1 1356.4h0M617.4 1370.0h0M593.8 1386.1h0M632.9 1365.3h0M709.3 1337.2h0M661.0 1397.5h0M613.0 1348.7h0M640.2 1391.0h0M683.5 1339.7h0M627.0 1410.2h0M634.9 1349.7h0M632.2 1385.2h0M616.5 1384.2h0M722.1 1247.1h0M620.6 1358.1h0M664.6 1341.5h0M696.0 1368.5h0M651.1 1336.8h0M638.1 1346.3h0M649.3 1333.7h0M655.2 1349.1h0M646.9 1393.1h0M636.6 1383.8h0M639.1 1345.1h0M659.1 1332.9h0M715.9 1296.2h0M637.9 1315.1h0M682.8 1309.3h0M647.9 1356.1h0M613.7 1380.7h0M605.5 1434.3h0M666.5 1360.3h0M598.8 1375.3h0M670.5 1386.0h0M641.2 1358.8h0M713.5 1289.9h0M610.5 1397.0h0M693.0 1313.5h0M703.2 1343.0h0M683.9 1293.1h0M633.0 1381.8h0M667.6 1400.8h0M660.4 1342.1h0M650.0 1371.8h0M686.7 1293.5h0M653.0 1341.4h0M664.1 1358.7h0M693.0 1291.0h0M652.1 1367.1h0M640.6 1399.0h0M662.7 1324.4h0M634.6 1338.8h0M554.8 1438.7h0M634.1 1349.2h0M649.1 1318.4h0M604.8 1411.0h0M574.0 1491.1h0M671.3 1332.1h0M627.3 1384.6h0M677.5 1318.5h0M671.4 1340.4h0M708.0 1328.1h0M675.5 1366.8h0M687.0 1361.9h0M702.7 1335.6h0M641.4 1390.7h0M693.8 1309.8h0M696.9 1309.7h0M577.3 1431.1h0M609.8 1362.9h0M660.7 1362.2h0M714.6 1325.1h0M641.7 1346.9h0M599.8 1392.6h0M586.6 1423.0h0M666.0 1329.5h0M662.4 1312.2h0M627.2 1409.9h0M665.0 1356.6h0M639.1 1419.9h0M694.0 1331.1h0M593.7 1344.8h0M634.1 1367.5h0M692.9 1332.9h0M627.3 1374.4h0M616.9 1410.0h0M642.0 1363.4h0M717.7 1319.4h0M663.6 1369.9h0M702.7 1301.0h0M614.1 1393.8h0M645.9 1358.5h0M677.9 1356.3h0M662.6 1348.2h0M631.0 1361.9h0M556.2 1432.7h0M672.2 1307.4h0M679.7 1340.0h0M670.2 1336.9h0M579.3 1416.8h0M591.2 1382.0h0M627.7 1392.0h0M608.4 1416.3h0M689.3 1330.6h0M605.1 1403.2h0M638.6 1385.0h0M604.3 1357.9h0M576.3 1423.2h0M687.1 1327.1h0M658.4 1384.7h0M621.9 1402.8h0M653.5 1364.6h0M556.9 1395.2h0M706.9 1328.3h0M607.1 1387.2h0M568.5 1469.4h0M606.0 1409.2h0M660.3 1359.4h0M652.9 1338.9h0M675.6 1329.7h0M676.5 1380.0h0M654.2 1334.5h0M688.0 1316.7h0M572.2 1400.6h0M668.7 1374.6h0M668.7 1306.7h0M664.6 1394.9h0M645.5 1366.5h0M629.1 1377.2h0M625.9 1366.6h0M577.7 1411.2h0M630.2 1390.2h0M689.4 1293.3h0M702.3 1368.7h0M631.2 1392.7h0M628.5 1387.8h0M629.9 1352.0h0M645.9 1356.6h0M652.3 1400.7h0M668.6 1295.3h0M701.5 1325.3h0M563.1 1397.2h0M605.2 1346.0h0M631.2 1384.9h0M649.4 1353.6h0M666.0 1385.4h0M713.3 1330.6h0M611.3 1352.6h0M674.5 1348.9h0M648.6 1338.8h0M654.6 1357.9h0M663.1 1334.1h0M682.1 1321.0h0M657.0 1305.6h0M604.3 1381.2h0M669.0 1342.4h0M669.5 1332.1h0M584.5 1424.4h0M667.8 1372.8h0M649.4 1421.9h0M645.3 1348.0h0M655.8 1350.4h0M712.4 1322.5h0M579.7 1391.6h0M659.0 1344.8h0M570.3 1427.9h0M653.2 1340.9h0M684.2 1320.9h0M572.9 1400.0h0M691.9 1301.4h0M669.1 1337.0h0M647.7 1345.1h0M645.2 1366.1h0M652.5 1381.9h0M655.3 1361.1h0M651.8 1358.4h0M689.6 1354.5h0M681.1 1338.8h0M614.7 1380.1h0M691.2 1351.8h0M717.2 1313.1h0M710.1 1310.7h0M664.8 1351.0h0M585.9 1379.1h0M632.9 1399.1h0M650.6 1308.8h0M652.3 1370.3h0M591.3 1363.5h0M676.4 1338.2h0M686.6 1287.2h0M597.3 1401.5h0M623.7 1387.0h0M612.7 1417.9h0M657.7 1368.7h0M696.1 1309.1h0M566.1 1420.3h0M711.1 1310.1h0M690.8 1331.1h0M600.9 1398.1h0M713.3 1297.1h0M698.0 1321.6h0M676.0 1360.1h0M668.8 1319.7h0M619.1 1385.0h0M674.5 1345.2h0M622.5 1376.9h0M659.8 1365.7h0M693.5 1342.6h0M642.6 1391.7h0M630.9 1352.1h0M675.7 1377.0h0M690.6 1325.8h0M691.7 1369.4h0M649.3 1395.4h0M705.5 1294.9h0M714.4 1313.4h0M644.3 1349.9h0M678.2 1338.8h0M580.0 1415.8h0M651.8 1339.5h0M612.2 1382.3h0M661.8 1325.3h0M630.9 1354.9h0M554.6 1455.1h0M678.2 1368.7h0M613.2 1355.3h0M697.6 1298.6h0M706.9 1333.0h0M677.0 1316.6h0M654.0 1386.8h0M665.0 1385.1h0M594.8 1375.8h0M659.7 1362.2h0M690.1 1361.2h0M681.0 1363.5h0M611.8 1361.3h0M709.0 1275.5h0M674.2 1351.0h0M615.7 1344.9h0M672.1 1370.9h0M615.9 1451.7h0M635.9 1377.9h0M657.8 1325.4h0M720.4 1305.0h0M742.3 1303.2h0M590.4 1387.5h0M653.8 1365.8h0M649.8 1354.3h0M678.4 1367.6h0M668.2 1328.8h0M629.4 1397.6h0M666.3 1362.2h0M627.2 1334.6h0M619.4 1382.4h0M674.3 1301.8h0M661.2 1386.5h0M629.0 1378.7h0M677.2 1331.5h0M637.6 1347.3h0M620.8 1350.3h0M649.6 1345.5h0M675.6 1315.4h0M627.8 1373.1h0M704.1 1294.3h0M644.4 1341.0h0M664.4 1338.0h0M681.4 1309.5h0M654.3 1354.4h0M626.6 1380.9h0M645.6 1383.5h0M687.0 1343.1h0M697.4 1313.5h0M676.0 1384.5h0M634.6 1360.9h0M612.3 1399.4h0M629.8 1354.3h0M634.4 1394.2h0M662.3 1349.8h0M653.7 1386.0h0M620.8 1396.5h0M678.4 1331.5h0M623.2 1338.4h0M657.1 1342.2h0M622.2 1377.5h0M690.4 1360.2h0M668.6 1334.4h0M661.5 1373.6h0M692.3 1305.6h0M687.3 1315.4h0M599.0 1375.8h0M661.7 1411.5h0M610.0 1421.0h0M629.4 1395.8h0M636.4 1378.2h0M592.2 1411.5h0M601.0 1403.3h0M657.5 1343.4h0M657.9 1333.8h0M671.8 1355.3h0M648.1 1389.7h0M636.9 1372.6h0M640.0 1364.6h0M640.3 1366.2h0M620.0 1412.4h0M656.7 1341.4h0M612.2 1380.6h0M608.5 1382.4h0M587.0 1434.4h0M656.5 1335.2h0M622.1 1380.9h0M641.1 1358.0h0M655.1 1348.5h0M612.6 1414.3h0M658.4 1359.3h0M653.5 1339.9h0M650.3 1358.1h0M569.3 1413.2h0M686.5 1358.9h0M669.4 1382.0h0M671.9 1349.4h0M710.1 1378.4h0M607.2 1372.0h0M717.6 1331.8h0M643.1 1326.7h0M682.9 1357.2h0M692.5 1336.0h0M608.7 1425.4h0M662.4 1389.0h0M628.0 1374.8h0M667.9 1337.1h0M590.2 1442.9h0M710.4 1306.0h0M667.6 1365.5h0M642.8 1391.4h0M616.0 1386.3h0M698.3 1301.8h0M631.1 1385.8h0M679.8 1356.2h0M602.0 1395.7h0M671.4 1365.1h0M571.8 1408.7h0M664.6 1368.0h0M609.9 1398.4h0M608.5 1442.8h0M683.7 1354.1h0M675.7 1385.6h0M625.4 1348.0h0M619.3 1406.2h0M688.2 1334.5h0M585.8 1409.5h0M639.1 1380.9h0M619.9 1397.6h0M651.5 1345.0h0M648.3 1337.4h0M643.6 1349.0h0M598.4 1396.4h0M659.8 1369.6h0M667.5 1349.7h0M632.2 1365.4h0M709.2 1277.5h0M631.6 1368.8h0M651.1 1379.8h0M717.8 1330.6h0M638.8 1376.7h0M646.1 1369.8h0M587.1 1374.0h0M651.6 1352.6h0M632.7 1357.9h0M661.6 1367.9h0M604.5 1428.5h0M691.7 1269.8h0M669.0 1294.8h0M681.4 1321.4h0M635.3 1350.2h0M575.1 1432.2h0M662.9 1317.0h0M650.1 1286.4h0M630.1 1377.3h0M706.3 1308.7h0M661.2 1331.5h0M656.4 1365.7h0M667.0 1352.1h0M663.5 1345.6h0M665.9 1368.6h0M678.7 1326.0h0M655.9 1385.0h0M633.0 1374.4h0M616.9 1388.8h0M659.7 1345.6h0M668.6 1361.4h0M678.6 1374.9h0M617.5 1393.2h0M587.2 1412.5h0M589.9 1376.1h0M701.3 1324.7h0M672.4 1325.4h0M651.3 1361.1h0M639.0 1369.8h0M725.8 1313.7h0M679.0 1378.4h0M676.1 1378.0h0M629.2 1424.7h0M691.4 1337.7h0M635.1 1335.9h0M619.1 1418.5h0M698.4 1303.1h0M664.1 1307.0h0M675.6 1340.8h0M588.4 1389.0h0M635.8 1378.1h0M614.9 1406.4h0M659.1 1373.8h0M646.9 1378.9h0M650.1 1347.5h0M618.0 1379.5h0M698.3 1341.5h0M594.3 1377.3h0M666.2 1343.8h0M648.2 1385.6h0M685.2 1327.9h0M607.9 1356.9h0M684.9 1301.9h0M613.6 1411.8h0M658.6 1340.8h0M640.8 1364.5h0M730.4 1269.5h0M592.9 1354.7h0M620.0 1445.3h0M569.3 1401.0h0M602.6 1427.8h0M639.0 1364.7h0M630.6 1339.9h0M610.3 1356.9h0M616.8 1401.1h0M636.6 1330.3h0M650.9 1370.7h0M703.3 1320.8h0M660.8 1382.9h0M644.2 1378.5h0M630.4 1403.8h0M670.2 1329.8h0M691.9 1347.0h0M634.4 1348.9h0M679.9 1355.9h0M665.1 1325.0h0M554.7 1413.9h0M713.0 1316.3h0M679.4 1324.2h0M586.6 1373.3h0M562.5 1387.1h0M654.9 1363.5h0M625.3 1380.7h0M665.7 1322.3h0M630.4 1305.1h0M690.6 1311.5h0M623.2 1407.6h0M663.5 1369.8h0M671.9 1350.3h0M636.3 1366.9h0M680.1 1371.8h0M654.0 1406.8h0M649.0 1357.0h0M640.2 1377.7h0M546.0 1438.3h0M605.3 1432.0h0M712.7 1329.4h0M633.3 1349.4h0M615.2 1393.9h0M641.3 1396.5h0M640.5 1351.2h0M721.4 1316.9h0M601.8 1376.2h0M619.1 1374.5h0M672.4 1349.9h0M572.8 1427.7h0M579.9 1390.4h0M594.9 1413.5h0M619.7 1372.8h0M685.5 1303.8h0M696.0 1340.7h0M668.1 1361.5h0M718.0 1311.4h0M568.6 1456.5h0M687.0 1323.9h0M620.5 1404.7h0M667.7 1361.1h0M638.7 1403.5h0M588.4 1379.5h0M690.6 1297.8h0M700.4 1319.7h0M660.4 1338.5h0M615.5 1377.1h0M720.9 1281.0h0M549.2 1387.0h0M658.9 1294.9h0M613.0 1373.7h0M620.9 1358.2h0M685.3 1349.0h0M632.1 1353.1h0M686.2 1303.8h0M660.8 1376.6h0M699.8 1329.1h0M684.9 1366.2h0M681.5 1340.1h0M653.5 1367.2h0M650.0 1393.1h0M610.1 1431.9h0M667.6 1355.0h0M677.1 1379.6h0M622.4 1363.9h0M665.5 1366.5h0M618.6 1405.2h0M650.7 1356.2h0M605.1 1388.8h0M652.7 1382.6h0M688.8 1315.6h0M661.9 1342.8h0M576.3 1404.4h0M674.8 1298.0h0M637.6 1376.9h0M695.8 1324.2h0M676.1 1378.0h0M675.6 1333.0h0M638.9 1390.9h0M657.3 1375.7h0M619.2 1385.9h0M655.2 1353.4h0M678.7 1345.0h0M587.1 1410.9h0M637.7 1380.8h0M677.2 1382.7h0M607.3 1354.4h0M645.4 1374.6h0M668.7 1342.2h0M663.3 1387.3h0M672.8 1361.4h0M678.4 1332.2h0M693.2 1337.6h0M638.9 1392.9h0M669.1 1355.3h0M666.2 1345.8h0M601.0 1410.3h0M634.6 1401.6h0M677.1 1312.6h0M664.4 1352.4h0M676.0 1296.7h0M651.8 1351.3h0M650.9 1396.4h0M684.7 1361.4h0M567.9 1445.4h0M580.0 1401.2h0M653.8 1395.9h0M661.3 1318.4h0M674.8 1356.9h0M675.0 1328.4h0M658.8 1332.6h0M601.8 1420.3h0M669.8 1361.2h0M659.2 1349.0h0M608.9 1364.6h0M517.7 1481.4h0M522.4 1474.2h0M526.0 1452.9h0M535.5 1467.1h0M541.4 1465.9h0M565.1 1473.1h0M597.1 1470.7h0M604.2 1488.5h0M550.9 1391.2h0M550.9 1438.7h0M556.8 1437.5h0M591.2 1327.2h0M611.4 1322.4h0M664.7 1253.6h0M684.9 1243.0h0M712.2 1233.5h0M708.6 1244.2h0M713.4 1253.6h0M718.1 1259.6h0M782.1 1380.5h0M767.9 1324.8h0M764.4 1336.7h0M762.0 1350.9h0M733.5 1393.6h0M739.4 1381.7h0M642.2 1438.7h0M649.3 1419.7h0M669.5 1420.9h0M681.3 1414.9h0" stroke="#000" stroke-width="4.0" stroke-linecap="round" fill="none"/>
<rect x="899.3" y="1221.6" width="285.5" height="273.9000000000001" fill="none" stroke="#555" stroke-width="1.3"/>
<text x="921.8" y="1519.5" class="s" font-size="11.5" text-anchor="middle" stroke="#000" stroke-width="0.3">3</text>
<text x="958.4" y="1519.5" class="s" font-size="11.5" text-anchor="middle" stroke="#000" stroke-width="0.3">4</text>
<text x="995.1" y="1519.5" class="s" font-size="11.5" text-anchor="middle" stroke="#000" stroke-width="0.3">5</text>
<text x="1031.7" y="1519.5" class="s" font-size="11.5" text-anchor="middle" stroke="#000" stroke-width="0.3">6</text>
<text x="1068.4" y="1519.5" class="s" font-size="11.5" text-anchor="middle" stroke="#000" stroke-width="0.3">7</text>
<text x="1105.0" y="1519.5" class="s" font-size="11.5" text-anchor="middle" stroke="#000" stroke-width="0.3">8</text>
<text x="1141.6" y="1519.5" class="s" font-size="11.5" text-anchor="middle" stroke="#000" stroke-width="0.3">9</text>
<text x="1178.3" y="1519.5" class="s" font-size="11.5" text-anchor="middle" stroke="#000" stroke-width="0.3">10</text>
<text transform="translate(884.8,1491.6) rotate(-90)" class="s" font-size="11.5" text-anchor="middle">1</text>
<text transform="translate(884.8,1451.9) rotate(-90)" class="s" font-size="11.5" text-anchor="middle">2</text>
<text transform="translate(884.8,1412.3) rotate(-90)" class="s" font-size="11.5" text-anchor="middle">3</text>
<text transform="translate(884.8,1372.6) rotate(-90)" class="s" font-size="11.5" text-anchor="middle">4</text>
<text transform="translate(884.8,1332.9) rotate(-90)" class="s" font-size="11.5" text-anchor="middle">5</text>
<text transform="translate(884.8,1293.2) rotate(-90)" class="s" font-size="11.5" text-anchor="middle">6</text>
<text transform="translate(884.8,1253.6) rotate(-90)" class="s" font-size="11.5" text-anchor="middle">7</text>
<path d="M921.8 1495.5v6.5M958.4 1495.5v6.5M995.1 1495.5v6.5M1031.7 1495.5v6.5M1068.4 1495.5v6.5M1105.0 1495.5v6.5M1141.6 1495.5v6.5M1178.3 1495.5v6.5M899.3 1491.6h-6.5M899.3 1451.9h-6.5M899.3 1412.3h-6.5M899.3 1372.6h-6.5M899.3 1332.9h-6.5M899.3 1293.2h-6.5M899.3 1253.6h-6.5" stroke="#555" stroke-width="1.3" fill="none"/>
<text x="1041.7" y="1542.7" class="s" font-size="15" text-anchor="middle" textLength="129.7" lengthAdjust="spacingAndGlyphs">log2(KPNA2 TPM)</text>
<text transform="translate(861,1358.5) rotate(-90)" class="s" font-size="15" text-anchor="middle" textLength="124.2" lengthAdjust="spacingAndGlyphs">log2(MCM2 TPM)</text>
<text x="916.4" y="1240.6" class="s" font-size="14">p−value &lt; 0.05</text>
<text x="916.4" y="1257.1" class="s" font-size="14">R = 0.51</text>
<path d="M1017.5 1370.0h0M1065.6 1371.3h0M1079.7 1304.3h0M1079.4 1354.6h0M1106.6 1279.1h0M1026.8 1366.5h0M1062.6 1330.2h0M1027.6 1399.5h0M980.8 1399.5h0M1012.7 1412.9h0M1048.5 1353.3h0M1003.3 1387.5h0M1035.3 1333.5h0M1082.5 1326.0h0M1063.5 1354.6h0M1063.6 1311.8h0M1055.7 1327.5h0M1036.1 1349.0h0M961.2 1403.9h0M1078.1 1316.4h0M977.2 1387.0h0M1051.3 1369.9h0M1039.0 1342.9h0M1048.6 1306.1h0M1052.5 1369.1h0M1029.0 1374.0h0M1074.9 1331.9h0M987.0 1392.2h0M1071.2 1311.2h0M969.0 1455.0h0M1084.8 1304.5h0M1021.3 1375.0h0M1056.7 1345.6h0M1095.9 1318.9h0M948.1 1461.1h0M1029.9 1354.4h0M1063.6 1316.5h0M1074.9 1318.6h0M1090.7 1330.3h0M1064.8 1362.6h0M1061.6 1332.1h0M1047.5 1347.3h0M1053.0 1348.9h0M1046.3 1366.2h0M1078.1 1324.4h0M1049.3 1358.6h0M1066.9 1322.3h0M1099.7 1271.0h0M1084.2 1352.7h0M1028.6 1344.9h0M1039.2 1363.8h0M1069.2 1310.0h0M1015.4 1327.5h0M962.8 1470.7h0M999.1 1436.3h0M1062.4 1391.4h0M1034.5 1332.0h0M1028.0 1342.0h0M1069.6 1346.2h0M997.3 1409.5h0M1122.1 1311.5h0M1044.6 1362.2h0M1029.5 1430.0h0M1114.2 1316.6h0M995.6 1427.9h0M1021.8 1352.5h0M1039.9 1365.2h0M1001.3 1416.9h0M1028.8 1340.7h0M1063.9 1358.2h0M1049.7 1358.6h0M1041.7 1338.6h0M1078.0 1338.8h0M1109.0 1329.5h0M1097.8 1308.0h0M951.2 1477.9h0M1091.2 1351.7h0M1070.6 1313.3h0M1057.9 1382.8h0M1000.3 1346.8h0M1023.8 1346.0h0M1034.5 1346.3h0M982.2 1419.3h0M1086.5 1314.3h0M1074.6 1311.2h0M1043.2 1352.7h0M1001.9 1378.2h0M1090.3 1317.5h0M1066.0 1372.2h0M1080.5 1340.2h0M1025.3 1364.5h0M1126.6 1316.7h0M1037.7 1397.9h0M1111.4 1322.3h0M955.1 1463.4h0M1054.5 1337.9h0M1046.7 1410.4h0M932.2 1428.0h0M1015.3 1351.6h0M989.6 1381.1h0M981.6 1395.3h0M1010.5 1405.4h0M992.0 1399.8h0M1055.1 1308.5h0M1059.9 1366.1h0M1053.1 1324.3h0M1007.1 1426.0h0M1022.5 1425.1h0M1101.8 1306.1h0M1028.6 1416.7h0M1042.9 1393.4h0M1017.8 1367.5h0M1062.0 1320.8h0M1074.4 1309.3h0M1071.3 1372.7h0M1058.5 1349.7h0M1068.4 1357.0h0M1034.4 1301.7h0M1065.3 1306.6h0M1000.0 1384.9h0M1047.3 1359.1h0M1073.7 1362.2h0M998.9 1370.2h0M1070.7 1329.5h0M1054.8 1342.9h0M989.6 1409.4h0M968.5 1471.6h0M970.7 1440.1h0M997.5 1391.4h0M1054.8 1320.1h0M1052.4 1305.8h0M1086.2 1315.9h0M1122.2 1314.8h0M1022.6 1407.6h0M953.6 1469.9h0M977.9 1382.6h0M954.0 1415.0h0M1013.3 1376.8h0M1019.9 1371.4h0M1087.9 1287.2h0M977.0 1411.4h0M1032.8 1332.7h0M1032.5 1387.2h0M1037.9 1378.5h0M1018.4 1384.2h0M1116.7 1305.4h0M1035.5 1349.1h0M1045.0 1348.7h0M1068.1 1293.6h0M1051.3 1395.9h0M1105.0 1299.5h0M990.3 1404.1h0M1034.9 1357.3h0M1021.1 1379.1h0M1040.1 1357.0h0M1074.6 1356.8h0M1016.8 1389.6h0M956.8 1390.0h0M1046.1 1314.3h0M997.2 1369.3h0M1064.9 1328.7h0M1051.5 1361.7h0M1116.1 1254.6h0M1062.3 1356.6h0M1007.0 1387.2h0M1056.4 1351.2h0M1080.5 1354.0h0M1046.6 1388.0h0M1042.3 1355.6h0M1031.8 1396.2h0M1025.6 1364.6h0M1003.0 1346.4h0M1085.5 1340.4h0M1057.5 1349.7h0M980.5 1400.0h0M1080.9 1306.2h0M1044.6 1315.0h0M1051.6 1326.1h0M1049.2 1340.4h0M1084.9 1352.6h0M945.3 1434.8h0M1043.0 1357.5h0M1063.0 1345.5h0M1038.1 1407.5h0M971.0 1422.9h0M987.8 1380.1h0M1051.3 1343.8h0M1093.1 1302.7h0M958.3 1441.2h0M1018.1 1417.5h0M1055.1 1311.9h0M1052.5 1366.4h0M1063.2 1303.3h0M1084.6 1364.9h0M1071.3 1350.4h0M979.8 1391.0h0M1031.8 1384.7h0M996.6 1412.5h0M1044.5 1329.8h0M1097.1 1295.1h0M1080.5 1272.3h0M1125.2 1274.6h0M1092.9 1314.4h0M1083.1 1288.5h0M1080.9 1353.5h0M1016.1 1357.4h0M1040.0 1372.2h0M1066.2 1314.5h0M1072.0 1328.4h0M1066.7 1366.3h0M1004.9 1342.7h0M999.4 1370.3h0M996.2 1402.4h0M1109.7 1326.1h0M1041.5 1361.5h0M1074.6 1341.2h0M1043.9 1344.7h0M1038.9 1359.5h0M1035.9 1351.2h0M1029.4 1379.0h0M1048.2 1300.2h0M1073.5 1291.3h0M989.5 1360.2h0M1047.1 1356.5h0M1033.1 1355.7h0M1026.8 1358.8h0M1068.2 1350.7h0M1100.6 1326.1h0M986.4 1428.0h0M1050.8 1353.2h0M1082.7 1335.7h0M1074.7 1364.6h0M974.4 1396.4h0M1062.6 1337.5h0M1028.1 1341.7h0M1026.3 1352.2h0M1071.3 1288.1h0M1000.5 1364.2h0M1053.5 1358.3h0M1074.8 1317.1h0M1017.3 1367.2h0M1001.8 1390.3h0M1119.3 1317.2h0M1001.3 1391.6h0M1090.7 1323.1h0M1015.6 1373.8h0M1051.7 1329.7h0M1023.6 1432.7h0M1050.3 1366.6h0M1050.7 1368.9h0M997.3 1375.4h0M1038.7 1334.6h0M1077.1 1321.6h0M1010.9 1357.0h0M946.8 1437.8h0M1054.3 1318.1h0M1007.9 1399.2h0M1057.3 1357.8h0M1027.4 1318.1h0M1010.1 1372.5h0M1033.1 1353.9h0M1056.7 1326.0h0M1055.5 1323.3h0M986.7 1417.7h0M983.4 1414.4h0M989.0 1364.5h0M1083.6 1312.6h0M1049.8 1341.4h0M1003.2 1439.0h0M1031.5 1387.0h0M1089.1 1298.7h0M992.9 1386.1h0M1024.5 1378.2h0M1069.2 1308.0h0M1068.3 1316.6h0M1065.5 1373.4h0M1002.9 1369.1h0M1042.9 1354.9h0M936.7 1472.0h0M1026.0 1348.3h0M1015.4 1341.7h0M1016.9 1370.6h0M1083.5 1318.6h0M1033.6 1349.7h0M1033.2 1365.8h0M1066.8 1344.4h0M1104.7 1326.7h0M1005.6 1420.4h0M1067.7 1315.7h0M1029.2 1352.5h0M973.6 1412.1h0M1017.5 1376.1h0M1054.1 1322.5h0M1031.7 1339.8h0M1022.9 1407.7h0M1042.2 1317.5h0M1030.2 1369.6h0M1030.1 1379.1h0M997.2 1382.2h0M1063.1 1331.2h0M941.8 1471.5h0M1049.4 1322.0h0M1008.7 1388.3h0M1069.7 1368.6h0M992.0 1403.4h0M938.8 1465.4h0M1060.0 1341.9h0M1078.2 1335.0h0M961.7 1413.5h0M1057.3 1323.7h0M1052.7 1365.5h0M999.5 1356.4h0M1064.6 1332.2h0M1005.0 1405.2h0M1077.8 1313.7h0M1084.5 1348.9h0M1024.7 1383.4h0M1028.2 1381.9h0M1045.9 1333.3h0M958.7 1396.0h0M1014.0 1391.9h0M1043.1 1370.9h0M1120.4 1302.5h0M1084.8 1298.6h0M1052.2 1348.1h0M1004.7 1385.8h0M1056.4 1357.6h0M1046.3 1303.7h0M983.5 1455.3h0M1031.6 1368.2h0M983.4 1430.8h0M1020.8 1372.9h0M1092.5 1276.1h0M1019.8 1404.2h0M994.9 1414.0h0M1014.0 1396.1h0M969.1 1447.1h0M1034.6 1370.4h0M1089.2 1338.1h0M1052.6 1365.3h0M1026.2 1333.4h0M1035.9 1349.9h0M1046.0 1327.2h0M1025.0 1361.0h0M1016.0 1383.9h0M1043.0 1368.1h0M1051.6 1326.7h0M1017.9 1371.8h0M1052.5 1359.8h0M988.9 1405.3h0M962.4 1391.7h0M957.6 1472.3h0M1054.5 1326.7h0M1008.0 1375.1h0M1039.0 1349.8h0M1007.2 1413.0h0M1025.0 1364.6h0M1047.9 1341.4h0M978.8 1398.4h0M1012.7 1406.5h0M1092.4 1307.7h0M1109.0 1247.2h0M1047.6 1345.8h0M1049.0 1335.4h0M1015.4 1348.9h0M994.5 1437.7h0M1069.3 1304.4h0M1084.4 1332.2h0M1058.6 1388.6h0M1061.4 1344.3h0M1010.6 1385.8h0M1083.1 1300.2h0M1052.7 1358.7h0M1015.8 1405.0h0M1080.0 1310.9h0M1006.6 1391.3h0M999.9 1389.7h0M1047.8 1321.6h0M998.0 1413.9h0M997.0 1405.9h0M1064.9 1350.9h0M1049.5 1364.9h0M1022.6 1371.9h0M1065.4 1356.2h0M1048.6 1365.8h0M1071.0 1285.3h0M1072.0 1320.6h0M1071.9 1302.9h0M995.8 1400.8h0M1074.0 1312.1h0M1045.0 1379.7h0M1059.7 1334.1h0M1045.5 1363.1h0M1070.3 1333.4h0M1037.2 1341.8h0M1022.0 1358.9h0M1063.4 1394.8h0M1027.5 1367.7h0M991.7 1378.8h0M1033.7 1367.0h0M1028.8 1393.7h0M1026.4 1370.3h0M1034.3 1335.7h0M1011.7 1363.3h0M1009.5 1362.8h0M1141.3 1277.3h0M1001.4 1396.8h0M1053.1 1395.5h0M1047.5 1349.4h0M1012.9 1358.6h0M1016.6 1360.1h0M993.2 1354.7h0M985.8 1395.1h0M1097.9 1336.1h0M992.7 1442.7h0M1001.0 1381.5h0M1073.7 1307.6h0M980.1 1422.0h0M1087.9 1285.9h0M1037.4 1348.0h0M1088.3 1337.5h0M1001.3 1371.3h0M1010.4 1353.7h0M1067.3 1341.1h0M1023.8 1367.2h0M1007.3 1448.4h0M1071.8 1331.2h0M1036.2 1343.6h0M1000.7 1395.0h0M1038.2 1349.1h0M1056.2 1343.5h0M1026.9 1397.7h0M1117.7 1276.5h0M1058.9 1329.2h0M1035.1 1346.1h0M1045.3 1387.2h0M1071.9 1319.6h0M1014.9 1348.1h0M1024.6 1384.2h0M1038.3 1318.0h0M1024.8 1383.5h0M1021.5 1325.4h0M1007.1 1390.6h0M1032.2 1352.9h0M1072.2 1313.6h0M996.6 1480.5h0M1037.7 1325.5h0M1023.7 1388.1h0M1040.6 1355.0h0M1101.6 1251.2h0M1090.5 1319.8h0M1097.2 1329.9h0M992.6 1347.5h0M1000.9 1356.5h0M1061.5 1319.0h0M990.2 1351.1h0M1070.2 1306.6h0M1155.3 1239.6h0M988.8 1396.2h0M1073.5 1303.6h0M1044.7 1338.9h0M1057.5 1376.1h0M1030.2 1301.0h0M963.4 1433.0h0M1017.0 1402.0h0M1000.2 1388.9h0M981.0 1400.5h0M1033.9 1383.7h0M1049.2 1357.3h0M997.0 1400.9h0M1061.7 1338.9h0M1044.2 1337.7h0M1058.2 1319.0h0M1055.7 1327.8h0M1016.0 1370.1h0M1124.2 1279.4h0M1062.1 1339.4h0M1075.3 1359.8h0M1028.7 1380.4h0M1043.5 1322.8h0M1071.9 1353.2h0M1007.0 1413.7h0M1052.9 1313.6h0M1095.9 1324.9h0M1030.3 1361.3h0M1049.2 1362.3h0M992.2 1402.6h0M1048.8 1365.4h0M1056.2 1336.4h0M1043.6 1330.6h0M1061.6 1354.8h0M1029.1 1349.8h0M1034.6 1387.7h0M1081.7 1299.8h0M1074.7 1309.7h0M1054.3 1357.2h0M1104.9 1309.6h0M1042.8 1353.2h0M1041.0 1413.9h0M1068.3 1356.7h0M1123.5 1314.0h0M1030.8 1367.8h0M1033.0 1383.0h0M1034.9 1368.6h0M1020.3 1369.1h0M993.2 1402.1h0M1066.6 1349.6h0M1077.9 1291.1h0M1063.9 1330.3h0M1057.0 1362.0h0M1025.6 1391.5h0M1066.2 1321.0h0M1053.5 1374.3h0M1015.8 1400.3h0M1051.3 1332.5h0M1000.1 1390.6h0M1030.5 1404.3h0M1010.3 1319.6h0M1069.5 1330.4h0M1014.2 1410.2h0M1058.3 1348.6h0M983.7 1402.9h0M1050.7 1348.7h0M1066.4 1354.4h0M1040.5 1328.2h0M1008.8 1411.7h0M1014.7 1402.4h0M1050.2 1372.2h0M1042.1 1329.6h0M1023.8 1348.6h0M981.8 1426.3h0M979.9 1407.8h0M1023.6 1359.8h0M1006.4 1404.0h0M1049.2 1367.0h0M1065.6 1308.6h0M1044.1 1377.0h0M1015.2 1365.7h0M1027.4 1364.4h0M1061.2 1316.8h0M970.4 1429.4h0M1068.2 1344.2h0M1065.9 1365.6h0M1016.2 1369.2h0M1043.3 1335.7h0M1042.7 1382.0h0M1081.7 1318.7h0M1063.0 1339.7h0M1010.6 1464.4h0M1110.8 1315.6h0M1070.3 1368.3h0M1019.5 1355.6h0M970.7 1434.8h0M1017.5 1385.3h0M991.7 1359.8h0M1088.2 1329.1h0M1067.8 1292.7h0M964.0 1425.0h0M1061.7 1341.0h0M1019.0 1343.9h0M1053.5 1392.2h0M1009.8 1405.2h0M955.5 1466.4h0M971.1 1441.5h0M1039.6 1406.3h0M1069.6 1355.5h0M1089.6 1333.0h0M1088.1 1315.9h0M1037.6 1305.5h0M1050.1 1390.5h0M1060.9 1358.4h0M1036.5 1345.1h0M1082.3 1290.2h0M1020.4 1368.5h0M1053.6 1369.8h0M1045.8 1330.3h0M1053.5 1357.6h0M1093.4 1308.1h0M1054.0 1329.0h0M1068.9 1332.5h0M1053.7 1334.9h0M1050.5 1366.1h0M1092.3 1294.0h0M1024.8 1390.1h0M1041.5 1347.2h0M1072.2 1306.2h0M1061.9 1354.1h0M1047.1 1347.7h0M1035.5 1347.5h0M987.6 1418.6h0M1051.0 1338.4h0M1021.2 1375.6h0M1080.4 1366.8h0M1058.9 1357.7h0M945.6 1461.0h0M1053.2 1324.3h0M1069.5 1355.7h0M1039.0 1331.7h0M1052.9 1332.4h0M1056.1 1349.3h0M1061.0 1319.7h0M1000.8 1422.7h0M1052.5 1341.5h0M1089.1 1323.3h0M986.5 1424.3h0M1061.6 1336.5h0M945.8 1419.5h0M1059.2 1329.3h0M1086.8 1351.8h0M1076.1 1315.3h0M985.3 1390.8h0M1114.1 1314.8h0M1055.0 1394.6h0M1084.0 1318.8h0M1004.3 1391.1h0M1008.6 1366.7h0M1020.0 1316.3h0M1049.8 1383.9h0M1062.4 1352.5h0M987.2 1419.9h0M1053.7 1392.1h0M1073.0 1336.2h0M1080.6 1352.7h0M1027.6 1336.2h0M1021.8 1349.7h0M1093.5 1293.5h0M1055.1 1339.8h0M1023.5 1371.4h0M1044.4 1332.4h0M1026.1 1322.2h0M1047.2 1318.1h0M1026.5 1362.8h0M1052.1 1334.9h0M1038.4 1392.7h0M1019.7 1374.2h0M1009.2 1435.3h0M1037.1 1361.0h0M1060.1 1348.2h0M1058.5 1326.3h0M1024.3 1336.9h0M1052.0 1348.5h0M1111.6 1332.1h0M985.1 1425.0h0M1051.9 1374.0h0M991.8 1447.7h0M1065.9 1381.9h0M1058.5 1351.8h0M1059.9 1365.7h0M1029.5 1342.0h0M1021.8 1352.7h0M967.9 1441.8h0M1025.3 1357.8h0M1022.8 1362.4h0M997.2 1395.1h0M1012.5 1391.6h0M1094.4 1274.0h0M1030.1 1317.0h0M1011.9 1354.6h0M957.6 1432.7h0M1040.4 1329.9h0M993.2 1350.7h0M1082.1 1344.8h0M1001.1 1394.5h0M1005.2 1384.1h0M1030.9 1364.3h0M997.7 1364.1h0M1043.3 1316.5h0M1071.4 1311.6h0M1076.7 1331.6h0M1057.9 1355.3h0M1021.6 1388.9h0M1100.8 1281.2h0M1125.0 1236.3h0M1071.4 1312.9h0M972.7 1399.5h0M1056.4 1339.9h0M1037.0 1361.5h0M1051.9 1358.4h0M1067.6 1329.1h0M1079.3 1314.7h0M1005.8 1349.1h0M1054.7 1329.4h0M1001.6 1391.2h0M1049.6 1376.6h0M1102.9 1261.7h0M1046.1 1325.2h0M1034.0 1373.8h0M1090.2 1298.3h0M1034.3 1330.4h0M1004.9 1354.8h0M1056.1 1329.2h0M1000.8 1358.2h0M1038.8 1338.8h0M1025.4 1374.9h0M991.3 1391.5h0M1110.6 1279.8h0M1018.1 1371.6h0M1085.7 1308.2h0M1028.4 1373.0h0M1066.9 1345.1h0M1070.8 1370.9h0M1111.1 1305.0h0M1032.4 1355.0h0M1021.1 1362.7h0M1055.4 1322.3h0M1035.1 1427.8h0M981.0 1428.8h0M1071.3 1291.0h0M1031.6 1406.6h0M1021.5 1355.1h0M1016.7 1371.2h0M1066.0 1370.0h0M964.9 1463.6h0M1050.9 1316.6h0M1007.2 1411.3h0M1058.8 1290.2h0M991.4 1390.3h0M1119.9 1271.6h0M1013.1 1406.4h0M1021.6 1377.3h0M992.1 1385.9h0M1071.5 1292.0h0M1037.4 1389.7h0M971.3 1425.4h0M1044.0 1342.7h0M1038.6 1356.0h0M986.2 1351.0h0M1055.2 1386.5h0M1021.3 1359.4h0M1039.1 1407.6h0M1058.5 1329.7h0M1003.8 1423.6h0M1063.7 1323.7h0M995.8 1377.6h0M960.1 1381.3h0M1007.5 1375.8h0M1057.9 1337.9h0M1037.7 1370.4h0M986.1 1446.4h0M1082.0 1330.5h0M1097.2 1308.3h0M1006.3 1378.6h0M1092.0 1293.8h0M1041.6 1366.0h0M1055.8 1372.7h0M1102.4 1286.7h0M1071.5 1371.1h0M937.6 1487.6h0M1048.4 1341.7h0M972.8 1395.0h0M1034.9 1322.3h0M1026.9 1335.4h0M1036.0 1338.2h0M1074.9 1335.9h0M1041.0 1343.6h0M1034.0 1372.8h0M1033.8 1399.9h0M1061.8 1352.0h0M1082.0 1299.2h0M1142.8 1272.9h0M1030.8 1361.0h0M1041.8 1343.7h0M1032.6 1322.7h0M1016.4 1347.3h0M1064.0 1354.9h0M1022.1 1347.7h0M993.3 1377.0h0M1070.7 1334.8h0M1097.6 1316.5h0M1049.4 1313.0h0M1073.5 1354.5h0M1053.3 1318.8h0M1010.5 1382.6h0M1060.6 1321.3h0M1049.1 1368.1h0M1014.6 1385.4h0M1084.9 1328.7h0M1051.7 1352.2h0M1081.2 1346.7h0M1063.1 1329.5h0M1023.4 1379.2h0M1026.6 1368.2h0M1056.8 1318.0h0M1049.3 1382.4h0M1020.3 1358.8h0M1060.7 1359.5h0M1009.2 1371.9h0M1057.9 1322.2h0M1063.7 1324.6h0M937.2 1449.7h0M982.2 1403.4h0M1048.9 1315.0h0M1051.5 1364.3h0M1080.8 1345.7h0M1050.1 1332.8h0M1024.8 1401.2h0M1050.7 1329.9h0M1000.3 1383.5h0M1072.6 1337.5h0M1096.9 1320.3h0M1071.8 1320.3h0M1015.6 1374.6h0M1128.0 1348.9h0M1005.0 1377.5h0M1008.1 1373.5h0M1076.9 1347.4h0M1067.7 1306.7h0M1025.9 1375.7h0M1013.0 1369.0h0M1056.1 1316.9h0M1043.3 1337.1h0M1048.7 1311.6h0M1006.8 1358.4h0M989.3 1439.8h0M1086.9 1355.9h0M1071.8 1305.4h0M1018.7 1315.7h0M1088.8 1280.6h0M1007.0 1368.0h0M974.1 1437.2h0M1113.9 1298.7h0M1075.2 1332.0h0M1016.9 1330.3h0M1022.1 1374.6h0M1006.5 1396.0h0M1003.4 1389.7h0M970.6 1439.3h0M1024.5 1448.1h0M1085.7 1286.6h0M1075.0 1325.7h0M1048.0 1355.4h0M1003.4 1382.2h0M1049.3 1334.9h0M1038.7 1369.6h0M1083.5 1333.4h0M1110.5 1311.5h0M1046.2 1357.6h0M1009.5 1392.9h0M1098.0 1356.0h0M982.7 1434.9h0M960.9 1399.9h0M1067.3 1314.3h0M1006.5 1380.6h0M1059.0 1312.9h0M958.0 1419.7h0M1027.6 1382.6h0M977.6 1399.2h0M1015.5 1385.3h0M1082.5 1348.0h0M1059.8 1353.5h0M1072.6 1338.9h0M1081.0 1341.3h0M1049.1 1360.7h0M1000.4 1401.9h0M993.5 1378.8h0M1064.8 1315.4h0M967.3 1401.1h0M1087.7 1327.1h0M1092.8 1302.5h0M1086.8 1311.5h0M1070.5 1362.8h0M1129.3 1289.3h0M1020.7 1349.5h0M1068.8 1383.8h0M1059.7 1357.7h0M1003.8 1368.1h0M1001.1 1368.7h0M1016.0 1365.6h0M988.5 1380.9h0M992.1 1406.0h0M947.7 1451.7h0M1054.4 1336.2h0M1073.5 1314.1h0M1050.6 1334.7h0M1047.0 1357.1h0M1080.4 1304.6h0M1029.1 1362.6h0M1086.5 1361.2h0M1019.4 1385.2h0M1000.0 1371.9h0M1033.5 1408.6h0M932.1 1459.7h0M1020.7 1372.7h0M1065.8 1371.5h0M1087.0 1272.9h0M1012.6 1340.3h0M999.1 1422.9h0M1093.6 1307.8h0M1070.5 1350.6h0M1109.5 1334.9h0M1083.9 1328.1h0M1073.8 1358.2h0M1055.4 1342.5h0M1001.8 1411.0h0M996.3 1410.5h0M1024.4 1398.0h0M1045.6 1372.2h0M1013.2 1370.8h0M970.1 1419.7h0M1106.7 1277.7h0M968.5 1409.8h0M1042.1 1372.5h0M988.4 1425.6h0M1031.0 1357.2h0M1121.8 1301.0h0M1073.3 1354.4h0M1021.3 1368.2h0M1095.9 1320.4h0M1016.8 1388.2h0M1101.2 1320.8h0M1051.8 1326.7h0M1027.4 1322.3h0M1048.3 1280.9h0M1003.3 1365.2h0M987.5 1388.9h0M1029.2 1387.8h0M1027.5 1399.7h0M1038.3 1297.3h0M1059.2 1393.2h0M1057.4 1335.8h0M1056.1 1338.3h0M1033.6 1351.9h0M1012.2 1348.6h0M1064.6 1363.4h0M1016.0 1403.6h0M1049.3 1358.7h0M1008.1 1386.8h0M1039.2 1304.8h0M1016.9 1414.0h0M1045.2 1334.6h0M1088.8 1297.0h0M1030.2 1371.5h0M1029.3 1348.3h0M1008.1 1347.1h0M1025.9 1357.7h0M1041.6 1367.3h0M997.2 1370.5h0M1049.6 1344.3h0M1016.2 1387.9h0M1026.2 1358.8h0M1077.7 1320.8h0M1018.0 1374.1h0M1036.3 1403.2h0M1046.8 1352.5h0M1070.5 1367.7h0M991.6 1366.4h0M983.6 1434.1h0M1071.4 1339.9h0M1077.3 1358.5h0M1086.3 1292.7h0M1085.5 1326.1h0M1027.5 1341.3h0M1056.8 1327.0h0M1087.4 1304.6h0M1084.0 1284.0h0M936.1 1422.3h0M1062.5 1315.9h0M1062.4 1372.0h0M1077.6 1308.6h0M1085.1 1320.4h0M1078.4 1327.8h0M1050.3 1313.6h0M978.6 1424.6h0M1057.0 1353.3h0M1024.5 1357.7h0M1071.0 1313.8h0M1021.5 1383.6h0M1035.4 1351.0h0M1029.1 1345.3h0M1065.7 1292.1h0M1093.4 1310.8h0M1050.7 1351.8h0M1104.1 1344.3h0M1083.6 1307.6h0M973.5 1444.1h0M980.7 1426.9h0M1031.4 1359.2h0M909.7 1425.0h0M916.8 1458.2h0M914.4 1467.7h0M927.5 1473.6h0M933.4 1454.6h0M941.7 1446.3h0M941.7 1420.2h0M957.1 1485.5h0M959.5 1368.1h0M982.0 1353.8h0M980.8 1467.7h0M987.9 1464.1h0M995.1 1476.0h0M1004.6 1453.4h0M1075.7 1248.3h0M1091.1 1230.5h0M1100.6 1248.3h0M1108.9 1248.3h0M1114.8 1248.3h0M1129.1 1260.1h0M1174.1 1293.3h0M1158.7 1312.3h0M1154.0 1340.8h0M1152.8 1365.7h0M1143.3 1358.6h0M1132.6 1364.5h0M1124.3 1365.7h0M1111.3 1388.2h0M1094.7 1378.7h0M1061.5 1426.2h0M1046.1 1427.4h0" stroke="#000" stroke-width="4.0" stroke-linecap="round" fill="none"/>
<path d="M291.9 1723.6Q352.9 1761.0 333.5 1844.0M365.0 1718.6Q415.0 1781.5 348.9 1853.6M222.4 1746.7Q304.1 1755.9 319.2 1842.4M448.3 1772.0Q452.8 1854.4 358.7 1873.9M174.3 1805.3Q249.5 1777.2 302.9 1848.0M480.4 1832.8Q469.5 1904.8 358.3 1886.4M154.6 1868.3Q190.6 1812.7 290.6 1861.5M487.5 1913.5Q429.3 1950.0 352.1 1900.3M168.4 1932.0Q199.3 1875.0 286.2 1876.1M451.7 1986.4Q376.9 1995.8 336.4 1912.6M222.7 2002.5Q207.4 1933.3 288.9 1892.8M379.0 2022.1Q319.7 1994.2 319.8 1915.2M310.0 2032.7Q267.9 1979.1 303.4 1909.8" stroke="#6a6a6a" stroke-width="1.8" fill="none"/>
<path d="M330.6 1855.2L328.1 1838.8L333.8 1844.1L341.4 1842.7ZM341.0 1861.9L346.7 1846.4L349.1 1853.8L356.4 1856.2ZM320.9 1853.9L312.3 1839.8L319.5 1842.4L326.0 1838.2ZM347.4 1876.0L361.1 1866.8L358.7 1874.2L363.2 1880.4ZM309.6 1857.4L295.5 1848.9L303.2 1847.9L307.0 1841.1ZM347.0 1884.3L363.0 1880.4L358.3 1886.5L360.4 1894.0ZM300.8 1866.7L284.3 1865.8L290.6 1861.3L290.7 1853.6ZM342.5 1893.9L358.8 1896.9L351.9 1900.5L350.8 1908.2ZM297.7 1876.5L282.4 1882.6L286.3 1875.9L283.1 1868.8ZM331.5 1902.1L343.8 1913.1L336.1 1912.6L331.2 1918.6ZM299.4 1888.0L288.4 1900.3L288.8 1892.6L282.9 1887.7ZM320.1 1903.7L326.2 1919.0L319.5 1915.2L312.4 1918.3ZM309.0 1899.7L307.3 1916.1L303.2 1909.6L295.4 1909.1Z" fill="#7b7b7b" stroke="#6e6e6e" stroke-width="0.6" stroke-linejoin="round"/>
<circle cx="279.7" cy="1716.9" r="8.4" fill="#3dfc0c"/>
<text x="217.5" y="1704" class="r" font-size="21.5" font-weight="bold" textLength="122.5" lengthAdjust="spacingAndGlyphs">Azathioprine</text>
<circle cx="355.9" cy="1708.2" r="8.3" fill="#ff0505"/>
<text x="372.5" y="1713" class="r" font-size="21.5" font-weight="bold" textLength="106" lengthAdjust="spacingAndGlyphs">Azacitidine</text>
<circle cx="208.6" cy="1745.7" r="8.3" fill="#3dfc0c"/>
<text x="124" y="1729.8" class="r" font-size="21.5" font-weight="bold" textLength="107.8" lengthAdjust="spacingAndGlyphs">Fulvestrant</text>
<circle cx="446.3" cy="1754.5" r="12.1" fill="#3dfc0c"/>
<text x="466.5" y="1762.5" class="r" font-size="21.5" font-weight="bold" textLength="89.5" lengthAdjust="spacingAndGlyphs">Dasatinib</text>
<circle cx="161.5" cy="1810.7" r="8.3" fill="#3dfc0c"/>
<text x="71.2" y="1797.5" class="r" font-size="21.5" font-weight="bold" textLength="101.8" lengthAdjust="spacingAndGlyphs">Palbociclib</text>
<circle cx="481.5" cy="1819" r="8.3" fill="#3dfc0c"/>
<text x="500" y="1825" class="r" font-size="21.5" font-weight="bold" textLength="84" lengthAdjust="spacingAndGlyphs">Cisplatin</text>
<circle cx="146.6" cy="1883.7" r="11.8" fill="#3dfc0c"/>
<text x="46" y="1860" class="r" font-size="21.5" font-weight="bold" textLength="106.5" lengthAdjust="spacingAndGlyphs">Oxaliplatin</text>
<circle cx="498.8" cy="1905.5" r="8.3" fill="#3dfc0c"/>
<text x="459" y="1894" class="r" font-size="21.5" font-weight="bold" textLength="116" lengthAdjust="spacingAndGlyphs">Doxorubicin</text>
<circle cx="162.5" cy="1944.5" r="8.3" fill="#3dfc0c"/>
<text x="66.5" y="1940" class="r" font-size="21.5" font-weight="bold" textLength="86.5" lengthAdjust="spacingAndGlyphs">Sunitinib</text>
<circle cx="465.3" cy="1984" r="8.3" fill="#ff0505"/>
<text x="412.5" y="1966" class="r" font-size="21.5" font-weight="bold" textLength="162.5" lengthAdjust="spacingAndGlyphs">Ethinyl Estradiol</text>
<circle cx="227.6" cy="2019.1" r="11.8" fill="#3dfc0c"/>
<text x="109" y="2021" class="r" font-size="21.5" font-weight="bold" textLength="95" lengthAdjust="spacingAndGlyphs">Topotecan</text>
<circle cx="391.8" cy="2027.3" r="8.3" fill="#3dfc0c"/>
<text x="408.5" y="2038.5" class="r" font-size="21.5" font-weight="bold" textLength="97.5" lengthAdjust="spacingAndGlyphs">Tamoxifen</text>
<circle cx="319.1" cy="2043.1" r="8.3" fill="#3dfc0c"/>
<text x="267.5" y="2072.5" class="r" font-size="21.5" font-weight="bold" textLength="107.5" lengthAdjust="spacingAndGlyphs">Fenretinide</text>
<circle cx="323" cy="1878.9" r="8.5" fill="#eefc05"/>
<text x="288.9" y="1885.5" class="r" font-size="16" font-weight="bold" fill="#ff0000" textLength="69.2" lengthAdjust="spacingAndGlyphs">RACGAP1</text>
<path d="M988.4 1725.5Q1028.3 1795.4 967.9 1858.5M910.9 1726.4Q971.3 1761.2 951.2 1847.9M1066.3 1775.3Q1071.5 1854.9 976.6 1876.9M840.7 1749.4Q920.1 1755.6 936.7 1846.5M793.0 1809.3Q874.4 1781.3 922.7 1851.0M1104.9 1858.1Q1067.6 1926.2 974.6 1896.2M769.6 1869.9Q826.3 1817.8 909.8 1863.3M786.8 1936.0Q815.1 1877.7 904.2 1879.8M1091.6 1964.5Q1028.5 1987.5 963.0 1911.6M840.9 2006.4Q825.8 1938.7 907.2 1897.3M1024.4 2013.3Q958.2 2008.2 944.1 1919.1M928.4 2036.6Q886.1 1979.8 920.9 1913.4" stroke="#6a6a6a" stroke-width="1.8" fill="none"/>
<path d="M959.6 1866.7L965.9 1851.4L968.0 1858.8L975.3 1861.4ZM948.3 1859.0L945.7 1842.7L951.4 1848.0L959.0 1846.5ZM965.3 1879.2L978.8 1869.7L976.6 1877.2L981.3 1883.3ZM938.4 1858.0L929.6 1844.0L936.9 1846.6L943.3 1842.2ZM928.9 1860.7L915.2 1851.5L923.0 1850.9L927.1 1844.3ZM963.7 1892.4L980.1 1891.1L974.4 1896.4L975.3 1904.1ZM919.7 1869.0L903.3 1867.2L909.9 1863.1L910.5 1855.4ZM915.8 1880.3L900.4 1886.2L904.3 1879.6L901.2 1872.5ZM955.6 1902.7L970.4 1910.1L962.8 1911.7L959.7 1918.7ZM917.5 1892.3L906.8 1904.8L907.1 1897.0L901.0 1892.2ZM942.5 1907.7L951.1 1921.8L943.8 1919.1L937.4 1923.4ZM926.5 1903.4L924.7 1919.8L920.6 1913.2L912.9 1912.6Z" fill="#7b7b7b" stroke="#6e6e6e" stroke-width="0.6" stroke-linejoin="round"/>
<circle cx="976.4" cy="1707.4" r="16.2" fill="#3dfc0c"/>
<text x="932.5" y="1684" class="r" font-size="21.5" font-weight="bold" textLength="83.5" lengthAdjust="spacingAndGlyphs">Cisplatin</text>
<circle cx="898.5" cy="1720.2" r="8.3" fill="#3dfc0c"/>
<text x="785" y="1704" class="r" font-size="21.5" font-weight="bold" textLength="126" lengthAdjust="spacingAndGlyphs">Methotrexate</text>
<circle cx="1064.1" cy="1757.8" r="12.1" fill="#3dfc0c"/>
<text x="1031.5" y="1734" class="r" font-size="21.5" font-weight="bold" textLength="117" lengthAdjust="spacingAndGlyphs">Fluorouracil</text>
<circle cx="826.9" cy="1749" r="8.3" fill="#3dfc0c"/>
<text x="725" y="1755" class="r" font-size="21.5" font-weight="bold" textLength="86" lengthAdjust="spacingAndGlyphs">Sunitinib</text>
<circle cx="780.1" cy="1814.3" r="8.3" fill="#3dfc0c"/>
<text x="664" y="1821" class="r" font-size="21.5" font-weight="bold" textLength="103.5" lengthAdjust="spacingAndGlyphs">Palbociclib</text>
<circle cx="1110.9" cy="1845.7" r="8.3" fill="#3dfc0c"/>
<text x="1086" y="1826" class="r" font-size="21.5" font-weight="bold" textLength="88" lengthAdjust="spacingAndGlyphs">Dasatinib</text>
<circle cx="759.9" cy="1879.8" r="8.3" fill="#3dfc0c"/>
<text x="642.5" y="1891" class="r" font-size="21.5" font-weight="bold" textLength="98.5" lengthAdjust="spacingAndGlyphs">Decitabine</text>
<circle cx="781.5" cy="1948.8" r="8.3" fill="#3dfc0c"/>
<text x="658.5" y="1958.5" class="r" font-size="21.5" font-weight="bold" textLength="105.5" lengthAdjust="spacingAndGlyphs">Oxaliplatin</text>
<circle cx="1104.3" cy="1958.9" r="8.3" fill="#ff0505"/>
<text x="1044" y="1937.5" class="r" font-size="21.5" font-weight="bold" textLength="161" lengthAdjust="spacingAndGlyphs">Ethinyl Estradiol</text>
<circle cx="846" cy="2023.3" r="12.1" fill="#3dfc0c"/>
<text x="711" y="2029" class="r" font-size="21.5" font-weight="bold" textLength="96" lengthAdjust="spacingAndGlyphs">Topotecan</text>
<circle cx="1038.2" cy="2013.5" r="8.3" fill="#3dfc0c"/>
<text x="1057.5" y="2020" class="r" font-size="21.5" font-weight="bold" textLength="106.5" lengthAdjust="spacingAndGlyphs">Fulvestrant</text>
<circle cx="937.2" cy="2047.3" r="8.3" fill="#3dfc0c"/>
<text x="868.5" y="2075" class="r" font-size="21.5" font-weight="bold" textLength="124" lengthAdjust="spacingAndGlyphs">Hydroxyurea</text>
<circle cx="941.1" cy="1882.6" r="8.5" fill="#eefc05"/>
<text x="917.7" y="1886.9" class="r" font-size="16" font-weight="bold" fill="#ff0000" textLength="48.6" lengthAdjust="spacingAndGlyphs">KPNA2</text>
</svg></body></html>
